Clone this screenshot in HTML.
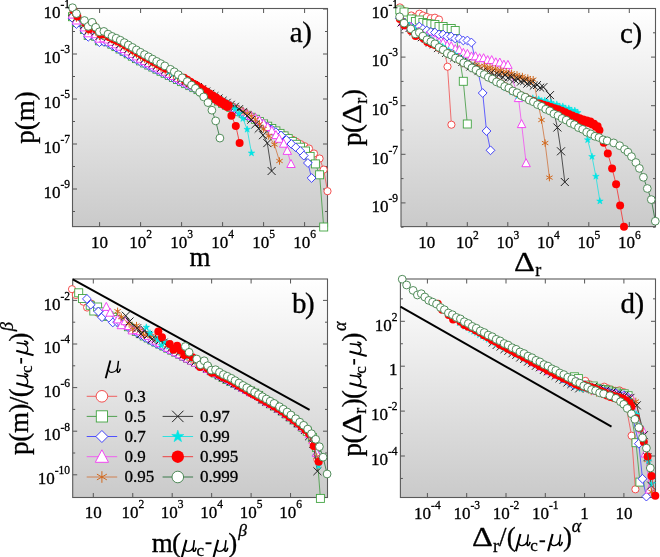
<!DOCTYPE html>
<html><head><meta charset="utf-8"><style>html,body{margin:0;padding:0;background:#fff;width:660px;height:557px;overflow:hidden}svg{display:block;filter:blur(0.5px)}</style></head>
<body><svg width="660" height="557" viewBox="0 0 660 557">
<defs><linearGradient id="bg" x1="0" y1="0" x2="0" y2="1"><stop offset="0" stop-color="#ffffff"/><stop offset="1" stop-color="#cacaca"/></linearGradient></defs>
<rect width="660" height="557" fill="#fff"/>
<rect x="72.5" y="8.5" width="255.0" height="218.1" fill="url(#bg)"/>
<path d="M99.60 226.6v-4.5M99.60 8.5v4.5M140.60 226.6v-4.5M140.60 8.5v4.5M181.60 226.6v-4.5M181.60 8.5v4.5M222.60 226.6v-4.5M222.60 8.5v4.5M263.60 226.6v-4.5M263.60 8.5v4.5M304.60 226.6v-4.5M304.60 8.5v4.5M72.5 9.00h4.5M327.5 9.00h-4.5M72.5 54.00h4.5M327.5 54.00h-4.5M72.5 99.00h4.5M327.5 99.00h-4.5M72.5 144.00h4.5M327.5 144.00h-4.5M72.5 189.00h4.5M327.5 189.00h-4.5M72.5 31.50h2.5M327.5 31.50h-2.5M72.5 76.50h2.5M327.5 76.50h-2.5M72.5 121.50h2.5M327.5 121.50h-2.5M72.5 166.50h2.5M327.5 166.50h-2.5M72.5 211.50h2.5M327.5 211.50h-2.5" stroke="#555" stroke-width="1" fill="none"/>
<rect x="401.0" y="8.5" width="254.5" height="218.1" fill="url(#bg)"/>
<path d="M426.80 226.6v-4.5M426.80 8.5v4.5M467.30 226.6v-4.5M467.30 8.5v4.5M507.80 226.6v-4.5M507.80 8.5v4.5M548.30 226.6v-4.5M548.30 8.5v4.5M588.80 226.6v-4.5M588.80 8.5v4.5M629.30 226.6v-4.5M629.30 8.5v4.5M401.0 8.50h4.5M655.5 8.50h-4.5M401.0 57.10h4.5M655.5 57.10h-4.5M401.0 105.70h4.5M655.5 105.70h-4.5M401.0 154.30h4.5M655.5 154.30h-4.5M401.0 202.90h4.5M655.5 202.90h-4.5M401.0 32.80h2.5M655.5 32.80h-2.5M401.0 81.40h2.5M655.5 81.40h-2.5M401.0 130.00h2.5M655.5 130.00h-2.5M401.0 178.60h2.5M655.5 178.60h-2.5M401.0 227.20h2.5M655.5 227.20h-2.5" stroke="#555" stroke-width="1" fill="none"/>
<rect x="72.7" y="279.0" width="254.8" height="218.5" fill="url(#bg)"/>
<path d="M93.30 497.5v-4.5M93.30 279.0v4.5M132.75 497.5v-4.5M132.75 279.0v4.5M172.20 497.5v-4.5M172.20 279.0v4.5M211.65 497.5v-4.5M211.65 279.0v4.5M251.10 497.5v-4.5M251.10 279.0v4.5M290.55 497.5v-4.5M290.55 279.0v4.5M72.7 300.40h4.5M327.5 300.40h-4.5M72.7 344.00h4.5M327.5 344.00h-4.5M72.7 387.60h4.5M327.5 387.60h-4.5M72.7 431.20h4.5M327.5 431.20h-4.5M72.7 474.80h4.5M327.5 474.80h-4.5M72.7 322.20h2.5M327.5 322.20h-2.5M72.7 365.80h2.5M327.5 365.80h-2.5M72.7 409.40h2.5M327.5 409.40h-2.5M72.7 453.00h2.5M327.5 453.00h-2.5" stroke="#555" stroke-width="1" fill="none"/>
<rect x="400.4" y="279.0" width="255.10000000000002" height="218.5" fill="url(#bg)"/>
<path d="M427.40 497.5v-4.5M427.40 279.0v4.5M466.70 497.5v-4.5M466.70 279.0v4.5M506.00 497.5v-4.5M506.00 279.0v4.5M545.30 497.5v-4.5M545.30 279.0v4.5M584.60 497.5v-4.5M584.60 279.0v4.5M623.90 497.5v-4.5M623.90 279.0v4.5M400.4 321.30h4.5M655.5 321.30h-4.5M400.4 366.20h4.5M655.5 366.20h-4.5M400.4 411.10h4.5M655.5 411.10h-4.5M400.4 456.00h4.5M655.5 456.00h-4.5M400.4 298.85h2.5M655.5 298.85h-2.5M400.4 343.75h2.5M655.5 343.75h-2.5M400.4 388.65h2.5M655.5 388.65h-2.5M400.4 433.55h2.5M655.5 433.55h-2.5M400.4 478.45h2.5M655.5 478.45h-2.5" stroke="#555" stroke-width="1" fill="none"/>
<rect x="72.5" y="8.5" width="255.0" height="218.1" fill="none" stroke="#5a5a5a" stroke-width="1.1"/>
<rect x="401.0" y="8.5" width="254.5" height="218.1" fill="none" stroke="#5a5a5a" stroke-width="1.1"/>
<rect x="72.7" y="279.0" width="254.8" height="218.5" fill="none" stroke="#5a5a5a" stroke-width="1.1"/>
<rect x="400.4" y="279.0" width="255.10000000000002" height="218.5" fill="none" stroke="#5a5a5a" stroke-width="1.1"/>
<g id="data"><g id="pa">
<path d="M72.5 17.1L76.4 23.0L84.4 29.9L88.2 35.8L92.1 31.7L95.7 36.7L99.4 41.2L103.9 40.8L107.8 42.2L111.9 44.6L116.0 47.0L120.1 49.4L124.2 51.8L128.3 54.2L132.4 56.5L136.5 58.9L140.6 61.2L144.7 63.3L148.8 65.3L152.9 67.3L157.0 69.3L161.1 71.4L165.2 73.4L169.3 75.4L173.4 77.4L177.5 79.5L181.6 81.5L185.7 83.5L189.8 85.5L193.9 87.5L198.0 89.5L202.1 91.7L206.2 94.0L210.3 96.3L214.4 98.6L218.5 101.0L222.6 103.3L226.7 105.3L230.8 107.3L234.9 109.3L239.0 111.2L243.1 113.2L247.2 115.2L251.3 117.2L255.4 119.2L259.5 121.5L263.6 123.8L267.7 126.1L271.8 128.4L275.9 130.7L280.0 133.0L284.1 135.2L288.2 137.5L292.3 139.7L296.4 141.9L300.5 144.1L304.6 146.2L309.0 148.5L314.0 153.5L319.6 158.5L323.7 169.6L327.5 191.2" fill="none" stroke="#f06060" stroke-width="0.9"/>
<circle cx="72.5" cy="17.1" r="3.60" fill="#fff" stroke="#f23c3c" stroke-width="0.9"/>
<circle cx="76.4" cy="23.0" r="3.60" fill="#fff" stroke="#f23c3c" stroke-width="0.9"/>
<circle cx="84.4" cy="29.9" r="3.60" fill="#fff" stroke="#f23c3c" stroke-width="0.9"/>
<circle cx="88.2" cy="35.8" r="3.60" fill="#fff" stroke="#f23c3c" stroke-width="0.9"/>
<circle cx="92.1" cy="31.7" r="3.60" fill="#fff" stroke="#f23c3c" stroke-width="0.9"/>
<circle cx="95.7" cy="36.7" r="3.60" fill="#fff" stroke="#f23c3c" stroke-width="0.9"/>
<circle cx="99.4" cy="41.2" r="3.60" fill="#fff" stroke="#f23c3c" stroke-width="0.9"/>
<circle cx="103.9" cy="40.8" r="3.60" fill="#fff" stroke="#f23c3c" stroke-width="0.9"/>
<circle cx="107.8" cy="42.2" r="3.60" fill="#fff" stroke="#f23c3c" stroke-width="0.9"/>
<circle cx="111.9" cy="44.6" r="3.60" fill="#fff" stroke="#f23c3c" stroke-width="0.9"/>
<circle cx="116.0" cy="47.0" r="3.60" fill="#fff" stroke="#f23c3c" stroke-width="0.9"/>
<circle cx="120.1" cy="49.4" r="3.60" fill="#fff" stroke="#f23c3c" stroke-width="0.9"/>
<circle cx="124.2" cy="51.8" r="3.60" fill="#fff" stroke="#f23c3c" stroke-width="0.9"/>
<circle cx="128.3" cy="54.2" r="3.60" fill="#fff" stroke="#f23c3c" stroke-width="0.9"/>
<circle cx="132.4" cy="56.5" r="3.60" fill="#fff" stroke="#f23c3c" stroke-width="0.9"/>
<circle cx="136.5" cy="58.9" r="3.60" fill="#fff" stroke="#f23c3c" stroke-width="0.9"/>
<circle cx="140.6" cy="61.2" r="3.60" fill="#fff" stroke="#f23c3c" stroke-width="0.9"/>
<circle cx="144.7" cy="63.3" r="3.60" fill="#fff" stroke="#f23c3c" stroke-width="0.9"/>
<circle cx="148.8" cy="65.3" r="3.60" fill="#fff" stroke="#f23c3c" stroke-width="0.9"/>
<circle cx="152.9" cy="67.3" r="3.60" fill="#fff" stroke="#f23c3c" stroke-width="0.9"/>
<circle cx="157.0" cy="69.3" r="3.60" fill="#fff" stroke="#f23c3c" stroke-width="0.9"/>
<circle cx="161.1" cy="71.4" r="3.60" fill="#fff" stroke="#f23c3c" stroke-width="0.9"/>
<circle cx="165.2" cy="73.4" r="3.60" fill="#fff" stroke="#f23c3c" stroke-width="0.9"/>
<circle cx="169.3" cy="75.4" r="3.60" fill="#fff" stroke="#f23c3c" stroke-width="0.9"/>
<circle cx="173.4" cy="77.4" r="3.60" fill="#fff" stroke="#f23c3c" stroke-width="0.9"/>
<circle cx="177.5" cy="79.5" r="3.60" fill="#fff" stroke="#f23c3c" stroke-width="0.9"/>
<circle cx="181.6" cy="81.5" r="3.60" fill="#fff" stroke="#f23c3c" stroke-width="0.9"/>
<circle cx="185.7" cy="83.5" r="3.60" fill="#fff" stroke="#f23c3c" stroke-width="0.9"/>
<circle cx="189.8" cy="85.5" r="3.60" fill="#fff" stroke="#f23c3c" stroke-width="0.9"/>
<circle cx="193.9" cy="87.5" r="3.60" fill="#fff" stroke="#f23c3c" stroke-width="0.9"/>
<circle cx="198.0" cy="89.5" r="3.60" fill="#fff" stroke="#f23c3c" stroke-width="0.9"/>
<circle cx="202.1" cy="91.7" r="3.60" fill="#fff" stroke="#f23c3c" stroke-width="0.9"/>
<circle cx="206.2" cy="94.0" r="3.60" fill="#fff" stroke="#f23c3c" stroke-width="0.9"/>
<circle cx="210.3" cy="96.3" r="3.60" fill="#fff" stroke="#f23c3c" stroke-width="0.9"/>
<circle cx="214.4" cy="98.6" r="3.60" fill="#fff" stroke="#f23c3c" stroke-width="0.9"/>
<circle cx="218.5" cy="101.0" r="3.60" fill="#fff" stroke="#f23c3c" stroke-width="0.9"/>
<circle cx="222.6" cy="103.3" r="3.60" fill="#fff" stroke="#f23c3c" stroke-width="0.9"/>
<circle cx="226.7" cy="105.3" r="3.60" fill="#fff" stroke="#f23c3c" stroke-width="0.9"/>
<circle cx="230.8" cy="107.3" r="3.60" fill="#fff" stroke="#f23c3c" stroke-width="0.9"/>
<circle cx="234.9" cy="109.3" r="3.60" fill="#fff" stroke="#f23c3c" stroke-width="0.9"/>
<circle cx="239.0" cy="111.2" r="3.60" fill="#fff" stroke="#f23c3c" stroke-width="0.9"/>
<circle cx="243.1" cy="113.2" r="3.60" fill="#fff" stroke="#f23c3c" stroke-width="0.9"/>
<circle cx="247.2" cy="115.2" r="3.60" fill="#fff" stroke="#f23c3c" stroke-width="0.9"/>
<circle cx="251.3" cy="117.2" r="3.60" fill="#fff" stroke="#f23c3c" stroke-width="0.9"/>
<circle cx="255.4" cy="119.2" r="3.60" fill="#fff" stroke="#f23c3c" stroke-width="0.9"/>
<circle cx="259.5" cy="121.5" r="3.60" fill="#fff" stroke="#f23c3c" stroke-width="0.9"/>
<circle cx="263.6" cy="123.8" r="3.60" fill="#fff" stroke="#f23c3c" stroke-width="0.9"/>
<circle cx="267.7" cy="126.1" r="3.60" fill="#fff" stroke="#f23c3c" stroke-width="0.9"/>
<circle cx="271.8" cy="128.4" r="3.60" fill="#fff" stroke="#f23c3c" stroke-width="0.9"/>
<circle cx="275.9" cy="130.7" r="3.60" fill="#fff" stroke="#f23c3c" stroke-width="0.9"/>
<circle cx="280.0" cy="133.0" r="3.60" fill="#fff" stroke="#f23c3c" stroke-width="0.9"/>
<circle cx="284.1" cy="135.2" r="3.60" fill="#fff" stroke="#f23c3c" stroke-width="0.9"/>
<circle cx="288.2" cy="137.5" r="3.60" fill="#fff" stroke="#f23c3c" stroke-width="0.9"/>
<circle cx="292.3" cy="139.7" r="3.60" fill="#fff" stroke="#f23c3c" stroke-width="0.9"/>
<circle cx="296.4" cy="141.9" r="3.60" fill="#fff" stroke="#f23c3c" stroke-width="0.9"/>
<circle cx="300.5" cy="144.1" r="3.60" fill="#fff" stroke="#f23c3c" stroke-width="0.9"/>
<circle cx="304.6" cy="146.2" r="3.60" fill="#fff" stroke="#f23c3c" stroke-width="0.9"/>
<circle cx="309.0" cy="148.5" r="3.60" fill="#fff" stroke="#f23c3c" stroke-width="0.9"/>
<circle cx="314.0" cy="153.5" r="3.60" fill="#fff" stroke="#f23c3c" stroke-width="0.9"/>
<circle cx="319.6" cy="158.5" r="3.60" fill="#fff" stroke="#f23c3c" stroke-width="0.9"/>
<circle cx="323.7" cy="169.6" r="3.60" fill="#fff" stroke="#f23c3c" stroke-width="0.9"/>
<circle cx="327.5" cy="191.2" r="3.60" fill="#fff" stroke="#f23c3c" stroke-width="0.9"/>
<path d="M72.5 16.7L76.4 22.6L84.4 29.5L88.2 35.4L92.1 31.3L95.7 36.3L99.4 40.8L103.9 40.4L107.8 41.8L111.9 44.2L116.0 46.6L120.1 49.0L124.2 51.4L128.3 53.8L132.4 56.2L136.5 58.6L140.6 60.9L144.7 63.0L148.8 65.1L152.9 67.1L157.0 69.2L161.1 71.3L165.2 73.3L169.3 75.4L173.4 77.5L177.5 79.5L181.6 81.6L185.7 83.6L189.8 85.6L193.9 87.6L198.0 89.6L202.1 91.8L206.2 94.1L210.3 96.4L214.4 98.7L218.5 101.1L222.6 103.4L226.7 105.4L230.8 107.4L234.9 109.4L239.0 111.3L243.1 113.3L247.2 115.3L251.3 117.3L255.4 119.3L259.5 121.6L263.6 123.9L267.7 126.2L271.8 128.5L275.9 130.9L280.0 133.4L284.1 135.9L288.2 138.6L292.3 141.4L296.4 144.3L300.5 147.2L305.5 151.0L310.1 156.4L315.4 163.9L319.6 174.8L323.7 227.0" fill="none" stroke="#50a050" stroke-width="0.9"/>
<rect x="68.5" y="12.7" width="8.0" height="8.0" fill="#fff" stroke="#42a442" stroke-width="0.9"/>
<rect x="72.4" y="18.6" width="8.0" height="8.0" fill="#fff" stroke="#42a442" stroke-width="0.9"/>
<rect x="80.4" y="25.5" width="8.0" height="8.0" fill="#fff" stroke="#42a442" stroke-width="0.9"/>
<rect x="84.2" y="31.4" width="8.0" height="8.0" fill="#fff" stroke="#42a442" stroke-width="0.9"/>
<rect x="88.1" y="27.3" width="8.0" height="8.0" fill="#fff" stroke="#42a442" stroke-width="0.9"/>
<rect x="91.7" y="32.3" width="8.0" height="8.0" fill="#fff" stroke="#42a442" stroke-width="0.9"/>
<rect x="95.4" y="36.8" width="8.0" height="8.0" fill="#fff" stroke="#42a442" stroke-width="0.9"/>
<rect x="99.9" y="36.4" width="8.0" height="8.0" fill="#fff" stroke="#42a442" stroke-width="0.9"/>
<rect x="103.8" y="37.8" width="8.0" height="8.0" fill="#fff" stroke="#42a442" stroke-width="0.9"/>
<rect x="107.9" y="40.2" width="8.0" height="8.0" fill="#fff" stroke="#42a442" stroke-width="0.9"/>
<rect x="112.0" y="42.6" width="8.0" height="8.0" fill="#fff" stroke="#42a442" stroke-width="0.9"/>
<rect x="116.1" y="45.0" width="8.0" height="8.0" fill="#fff" stroke="#42a442" stroke-width="0.9"/>
<rect x="120.2" y="47.4" width="8.0" height="8.0" fill="#fff" stroke="#42a442" stroke-width="0.9"/>
<rect x="124.3" y="49.8" width="8.0" height="8.0" fill="#fff" stroke="#42a442" stroke-width="0.9"/>
<rect x="128.4" y="52.2" width="8.0" height="8.0" fill="#fff" stroke="#42a442" stroke-width="0.9"/>
<rect x="132.5" y="54.6" width="8.0" height="8.0" fill="#fff" stroke="#42a442" stroke-width="0.9"/>
<rect x="136.6" y="56.9" width="8.0" height="8.0" fill="#fff" stroke="#42a442" stroke-width="0.9"/>
<rect x="140.7" y="59.0" width="8.0" height="8.0" fill="#fff" stroke="#42a442" stroke-width="0.9"/>
<rect x="144.8" y="61.1" width="8.0" height="8.0" fill="#fff" stroke="#42a442" stroke-width="0.9"/>
<rect x="148.9" y="63.1" width="8.0" height="8.0" fill="#fff" stroke="#42a442" stroke-width="0.9"/>
<rect x="153.0" y="65.2" width="8.0" height="8.0" fill="#fff" stroke="#42a442" stroke-width="0.9"/>
<rect x="157.1" y="67.3" width="8.0" height="8.0" fill="#fff" stroke="#42a442" stroke-width="0.9"/>
<rect x="161.2" y="69.3" width="8.0" height="8.0" fill="#fff" stroke="#42a442" stroke-width="0.9"/>
<rect x="165.3" y="71.4" width="8.0" height="8.0" fill="#fff" stroke="#42a442" stroke-width="0.9"/>
<rect x="169.4" y="73.5" width="8.0" height="8.0" fill="#fff" stroke="#42a442" stroke-width="0.9"/>
<rect x="173.5" y="75.5" width="8.0" height="8.0" fill="#fff" stroke="#42a442" stroke-width="0.9"/>
<rect x="177.6" y="77.6" width="8.0" height="8.0" fill="#fff" stroke="#42a442" stroke-width="0.9"/>
<rect x="181.7" y="79.6" width="8.0" height="8.0" fill="#fff" stroke="#42a442" stroke-width="0.9"/>
<rect x="185.8" y="81.6" width="8.0" height="8.0" fill="#fff" stroke="#42a442" stroke-width="0.9"/>
<rect x="189.9" y="83.6" width="8.0" height="8.0" fill="#fff" stroke="#42a442" stroke-width="0.9"/>
<rect x="194.0" y="85.6" width="8.0" height="8.0" fill="#fff" stroke="#42a442" stroke-width="0.9"/>
<rect x="198.1" y="87.8" width="8.0" height="8.0" fill="#fff" stroke="#42a442" stroke-width="0.9"/>
<rect x="202.2" y="90.1" width="8.0" height="8.0" fill="#fff" stroke="#42a442" stroke-width="0.9"/>
<rect x="206.3" y="92.4" width="8.0" height="8.0" fill="#fff" stroke="#42a442" stroke-width="0.9"/>
<rect x="210.4" y="94.7" width="8.0" height="8.0" fill="#fff" stroke="#42a442" stroke-width="0.9"/>
<rect x="214.5" y="97.1" width="8.0" height="8.0" fill="#fff" stroke="#42a442" stroke-width="0.9"/>
<rect x="218.6" y="99.4" width="8.0" height="8.0" fill="#fff" stroke="#42a442" stroke-width="0.9"/>
<rect x="222.7" y="101.4" width="8.0" height="8.0" fill="#fff" stroke="#42a442" stroke-width="0.9"/>
<rect x="226.8" y="103.4" width="8.0" height="8.0" fill="#fff" stroke="#42a442" stroke-width="0.9"/>
<rect x="230.9" y="105.4" width="8.0" height="8.0" fill="#fff" stroke="#42a442" stroke-width="0.9"/>
<rect x="235.0" y="107.3" width="8.0" height="8.0" fill="#fff" stroke="#42a442" stroke-width="0.9"/>
<rect x="239.1" y="109.3" width="8.0" height="8.0" fill="#fff" stroke="#42a442" stroke-width="0.9"/>
<rect x="243.2" y="111.3" width="8.0" height="8.0" fill="#fff" stroke="#42a442" stroke-width="0.9"/>
<rect x="247.3" y="113.3" width="8.0" height="8.0" fill="#fff" stroke="#42a442" stroke-width="0.9"/>
<rect x="251.4" y="115.3" width="8.0" height="8.0" fill="#fff" stroke="#42a442" stroke-width="0.9"/>
<rect x="255.5" y="117.6" width="8.0" height="8.0" fill="#fff" stroke="#42a442" stroke-width="0.9"/>
<rect x="259.6" y="119.9" width="8.0" height="8.0" fill="#fff" stroke="#42a442" stroke-width="0.9"/>
<rect x="263.7" y="122.2" width="8.0" height="8.0" fill="#fff" stroke="#42a442" stroke-width="0.9"/>
<rect x="267.8" y="124.5" width="8.0" height="8.0" fill="#fff" stroke="#42a442" stroke-width="0.9"/>
<rect x="271.9" y="126.9" width="8.0" height="8.0" fill="#fff" stroke="#42a442" stroke-width="0.9"/>
<rect x="276.0" y="129.4" width="8.0" height="8.0" fill="#fff" stroke="#42a442" stroke-width="0.9"/>
<rect x="280.1" y="131.9" width="8.0" height="8.0" fill="#fff" stroke="#42a442" stroke-width="0.9"/>
<rect x="284.2" y="134.6" width="8.0" height="8.0" fill="#fff" stroke="#42a442" stroke-width="0.9"/>
<rect x="288.3" y="137.4" width="8.0" height="8.0" fill="#fff" stroke="#42a442" stroke-width="0.9"/>
<rect x="292.4" y="140.3" width="8.0" height="8.0" fill="#fff" stroke="#42a442" stroke-width="0.9"/>
<rect x="296.5" y="143.2" width="8.0" height="8.0" fill="#fff" stroke="#42a442" stroke-width="0.9"/>
<rect x="301.5" y="147.0" width="8.0" height="8.0" fill="#fff" stroke="#42a442" stroke-width="0.9"/>
<rect x="306.1" y="152.4" width="8.0" height="8.0" fill="#fff" stroke="#42a442" stroke-width="0.9"/>
<rect x="311.4" y="159.9" width="8.0" height="8.0" fill="#fff" stroke="#42a442" stroke-width="0.9"/>
<rect x="315.6" y="170.8" width="8.0" height="8.0" fill="#fff" stroke="#42a442" stroke-width="0.9"/>
<rect x="319.7" y="223.0" width="8.0" height="8.0" fill="#fff" stroke="#42a442" stroke-width="0.9"/>
<path d="M72.5 18.1L76.4 24.0L84.4 30.9L88.2 36.8L92.1 32.7L95.7 37.7L99.4 42.2L103.9 41.8L107.8 42.8L111.9 45.2L116.0 47.6L120.1 50.0L124.2 52.4L128.3 54.8L132.4 57.1L136.5 59.5L140.6 61.8L144.7 63.8L148.8 65.8L152.9 67.9L157.0 69.9L161.1 71.9L165.2 73.9L169.3 75.9L173.4 77.9L177.5 80.0L181.6 82.0L185.7 84.0L189.8 86.0L193.9 88.0L198.0 90.0L202.1 92.2L206.2 94.5L210.3 96.8L214.4 99.1L218.5 101.5L222.6 103.8L226.7 105.8L230.8 107.8L234.9 109.8L239.0 111.7L243.1 113.7L247.2 115.7L251.3 117.7L255.4 119.8L259.5 122.1L263.6 124.6L267.7 127.1L271.8 129.6L275.9 132.2L281.0 135.5L286.4 140.0L291.4 144.0L295.8 147.4L300.3 151.0L303.8 155.6L307.9 163.0L311.6 178.0" fill="none" stroke="#5050ff" stroke-width="0.9"/>
<path d="M72.5 13.7L76.9 18.1L72.5 22.5L68.1 18.1Z" fill="#fff" stroke="#3030f8" stroke-width="0.9"/>
<path d="M76.4 19.6L80.8 24.0L76.4 28.4L72.0 24.0Z" fill="#fff" stroke="#3030f8" stroke-width="0.9"/>
<path d="M84.4 26.5L88.8 30.9L84.4 35.3L80.0 30.9Z" fill="#fff" stroke="#3030f8" stroke-width="0.9"/>
<path d="M88.2 32.4L92.6 36.8L88.2 41.2L83.8 36.8Z" fill="#fff" stroke="#3030f8" stroke-width="0.9"/>
<path d="M92.1 28.3L96.5 32.7L92.1 37.1L87.7 32.7Z" fill="#fff" stroke="#3030f8" stroke-width="0.9"/>
<path d="M95.7 33.3L100.1 37.7L95.7 42.1L91.3 37.7Z" fill="#fff" stroke="#3030f8" stroke-width="0.9"/>
<path d="M99.4 37.8L103.8 42.2L99.4 46.6L95.0 42.2Z" fill="#fff" stroke="#3030f8" stroke-width="0.9"/>
<path d="M103.9 37.4L108.3 41.8L103.9 46.2L99.5 41.8Z" fill="#fff" stroke="#3030f8" stroke-width="0.9"/>
<path d="M107.8 38.4L112.2 42.8L107.8 47.2L103.4 42.8Z" fill="#fff" stroke="#3030f8" stroke-width="0.9"/>
<path d="M111.9 40.8L116.3 45.2L111.9 49.6L107.5 45.2Z" fill="#fff" stroke="#3030f8" stroke-width="0.9"/>
<path d="M116.0 43.2L120.4 47.6L116.0 52.0L111.6 47.6Z" fill="#fff" stroke="#3030f8" stroke-width="0.9"/>
<path d="M120.1 45.6L124.5 50.0L120.1 54.4L115.7 50.0Z" fill="#fff" stroke="#3030f8" stroke-width="0.9"/>
<path d="M124.2 48.0L128.6 52.4L124.2 56.8L119.8 52.4Z" fill="#fff" stroke="#3030f8" stroke-width="0.9"/>
<path d="M128.3 50.4L132.7 54.8L128.3 59.2L123.9 54.8Z" fill="#fff" stroke="#3030f8" stroke-width="0.9"/>
<path d="M132.4 52.7L136.8 57.1L132.4 61.5L128.0 57.1Z" fill="#fff" stroke="#3030f8" stroke-width="0.9"/>
<path d="M136.5 55.1L140.9 59.5L136.5 63.9L132.1 59.5Z" fill="#fff" stroke="#3030f8" stroke-width="0.9"/>
<path d="M140.6 57.4L145.0 61.8L140.6 66.2L136.2 61.8Z" fill="#fff" stroke="#3030f8" stroke-width="0.9"/>
<path d="M144.7 59.4L149.1 63.8L144.7 68.2L140.3 63.8Z" fill="#fff" stroke="#3030f8" stroke-width="0.9"/>
<path d="M148.8 61.4L153.2 65.8L148.8 70.2L144.4 65.8Z" fill="#fff" stroke="#3030f8" stroke-width="0.9"/>
<path d="M152.9 63.5L157.3 67.9L152.9 72.3L148.5 67.9Z" fill="#fff" stroke="#3030f8" stroke-width="0.9"/>
<path d="M157.0 65.5L161.4 69.9L157.0 74.3L152.6 69.9Z" fill="#fff" stroke="#3030f8" stroke-width="0.9"/>
<path d="M161.1 67.5L165.5 71.9L161.1 76.3L156.7 71.9Z" fill="#fff" stroke="#3030f8" stroke-width="0.9"/>
<path d="M165.2 69.5L169.6 73.9L165.2 78.3L160.8 73.9Z" fill="#fff" stroke="#3030f8" stroke-width="0.9"/>
<path d="M169.3 71.5L173.7 75.9L169.3 80.3L164.9 75.9Z" fill="#fff" stroke="#3030f8" stroke-width="0.9"/>
<path d="M173.4 73.5L177.8 77.9L173.4 82.3L169.0 77.9Z" fill="#fff" stroke="#3030f8" stroke-width="0.9"/>
<path d="M177.5 75.6L181.9 80.0L177.5 84.4L173.1 80.0Z" fill="#fff" stroke="#3030f8" stroke-width="0.9"/>
<path d="M181.6 77.6L186.0 82.0L181.6 86.4L177.2 82.0Z" fill="#fff" stroke="#3030f8" stroke-width="0.9"/>
<path d="M185.7 79.6L190.1 84.0L185.7 88.4L181.3 84.0Z" fill="#fff" stroke="#3030f8" stroke-width="0.9"/>
<path d="M189.8 81.6L194.2 86.0L189.8 90.4L185.4 86.0Z" fill="#fff" stroke="#3030f8" stroke-width="0.9"/>
<path d="M193.9 83.6L198.3 88.0L193.9 92.4L189.5 88.0Z" fill="#fff" stroke="#3030f8" stroke-width="0.9"/>
<path d="M198.0 85.6L202.4 90.0L198.0 94.4L193.6 90.0Z" fill="#fff" stroke="#3030f8" stroke-width="0.9"/>
<path d="M202.1 87.8L206.5 92.2L202.1 96.6L197.7 92.2Z" fill="#fff" stroke="#3030f8" stroke-width="0.9"/>
<path d="M206.2 90.1L210.6 94.5L206.2 98.9L201.8 94.5Z" fill="#fff" stroke="#3030f8" stroke-width="0.9"/>
<path d="M210.3 92.4L214.7 96.8L210.3 101.2L205.9 96.8Z" fill="#fff" stroke="#3030f8" stroke-width="0.9"/>
<path d="M214.4 94.7L218.8 99.1L214.4 103.5L210.0 99.1Z" fill="#fff" stroke="#3030f8" stroke-width="0.9"/>
<path d="M218.5 97.1L222.9 101.5L218.5 105.9L214.1 101.5Z" fill="#fff" stroke="#3030f8" stroke-width="0.9"/>
<path d="M222.6 99.4L227.0 103.8L222.6 108.2L218.2 103.8Z" fill="#fff" stroke="#3030f8" stroke-width="0.9"/>
<path d="M226.7 101.4L231.1 105.8L226.7 110.2L222.3 105.8Z" fill="#fff" stroke="#3030f8" stroke-width="0.9"/>
<path d="M230.8 103.4L235.2 107.8L230.8 112.2L226.4 107.8Z" fill="#fff" stroke="#3030f8" stroke-width="0.9"/>
<path d="M234.9 105.4L239.3 109.8L234.9 114.2L230.5 109.8Z" fill="#fff" stroke="#3030f8" stroke-width="0.9"/>
<path d="M239.0 107.3L243.4 111.7L239.0 116.1L234.6 111.7Z" fill="#fff" stroke="#3030f8" stroke-width="0.9"/>
<path d="M243.1 109.3L247.5 113.7L243.1 118.1L238.7 113.7Z" fill="#fff" stroke="#3030f8" stroke-width="0.9"/>
<path d="M247.2 111.3L251.6 115.7L247.2 120.1L242.8 115.7Z" fill="#fff" stroke="#3030f8" stroke-width="0.9"/>
<path d="M251.3 113.3L255.7 117.7L251.3 122.1L246.9 117.7Z" fill="#fff" stroke="#3030f8" stroke-width="0.9"/>
<path d="M255.4 115.4L259.8 119.8L255.4 124.2L251.0 119.8Z" fill="#fff" stroke="#3030f8" stroke-width="0.9"/>
<path d="M259.5 117.7L263.9 122.1L259.5 126.5L255.1 122.1Z" fill="#fff" stroke="#3030f8" stroke-width="0.9"/>
<path d="M263.6 120.2L268.0 124.6L263.6 129.0L259.2 124.6Z" fill="#fff" stroke="#3030f8" stroke-width="0.9"/>
<path d="M267.7 122.7L272.1 127.1L267.7 131.5L263.3 127.1Z" fill="#fff" stroke="#3030f8" stroke-width="0.9"/>
<path d="M271.8 125.2L276.2 129.6L271.8 134.0L267.4 129.6Z" fill="#fff" stroke="#3030f8" stroke-width="0.9"/>
<path d="M275.9 127.8L280.3 132.2L275.9 136.6L271.5 132.2Z" fill="#fff" stroke="#3030f8" stroke-width="0.9"/>
<path d="M281.0 131.1L285.4 135.5L281.0 139.9L276.6 135.5Z" fill="#fff" stroke="#3030f8" stroke-width="0.9"/>
<path d="M286.4 135.6L290.8 140.0L286.4 144.4L282.0 140.0Z" fill="#fff" stroke="#3030f8" stroke-width="0.9"/>
<path d="M291.4 139.6L295.8 144.0L291.4 148.4L287.0 144.0Z" fill="#fff" stroke="#3030f8" stroke-width="0.9"/>
<path d="M295.8 143.0L300.2 147.4L295.8 151.8L291.4 147.4Z" fill="#fff" stroke="#3030f8" stroke-width="0.9"/>
<path d="M300.3 146.6L304.7 151.0L300.3 155.4L295.9 151.0Z" fill="#fff" stroke="#3030f8" stroke-width="0.9"/>
<path d="M303.8 151.2L308.2 155.6L303.8 160.0L299.4 155.6Z" fill="#fff" stroke="#3030f8" stroke-width="0.9"/>
<path d="M307.9 158.6L312.3 163.0L307.9 167.4L303.5 163.0Z" fill="#fff" stroke="#3030f8" stroke-width="0.9"/>
<path d="M311.6 173.6L316.0 178.0L311.6 182.4L307.2 178.0Z" fill="#fff" stroke="#3030f8" stroke-width="0.9"/>
<path d="M72.5 14.5L76.4 20.4L84.4 27.3L88.2 33.2L92.1 29.1L95.7 34.1L99.4 38.6L103.9 38.2L107.8 39.4L111.9 41.8L116.0 44.2L120.1 46.6L124.2 49.0L128.3 51.4L132.4 53.8L136.5 56.3L140.6 58.7L144.7 60.9L148.8 63.0L152.9 65.2L157.0 67.3L161.1 69.5L165.2 71.6L169.3 73.8L173.4 75.9L177.5 78.0L181.6 80.1L185.7 82.1L189.8 84.1L193.9 86.1L198.0 88.1L202.1 90.3L206.2 92.6L210.3 94.9L214.4 97.2L218.5 99.6L222.6 101.9L226.7 103.9L230.8 105.9L234.9 107.9L239.0 109.8L243.1 111.8L247.2 113.8L251.3 115.8L255.4 117.8L259.5 120.5L263.6 123.5L267.7 126.9L271.8 130.7L275.9 135.0L279.2 138.7L283.7 143.6L287.3 150.8L291.0 163.9" fill="none" stroke="#f060f0" stroke-width="0.9"/>
<path d="M72.5 10.1L76.7 18.1L68.3 18.1Z" fill="#fff" stroke="#f236f2" stroke-width="0.9"/>
<path d="M76.4 16.0L80.6 24.0L72.2 24.0Z" fill="#fff" stroke="#f236f2" stroke-width="0.9"/>
<path d="M84.4 22.9L88.6 30.9L80.2 30.9Z" fill="#fff" stroke="#f236f2" stroke-width="0.9"/>
<path d="M88.2 28.8L92.4 36.8L84.0 36.8Z" fill="#fff" stroke="#f236f2" stroke-width="0.9"/>
<path d="M92.1 24.7L96.3 32.7L87.9 32.7Z" fill="#fff" stroke="#f236f2" stroke-width="0.9"/>
<path d="M95.7 29.7L99.9 37.7L91.5 37.7Z" fill="#fff" stroke="#f236f2" stroke-width="0.9"/>
<path d="M99.4 34.2L103.6 42.2L95.2 42.2Z" fill="#fff" stroke="#f236f2" stroke-width="0.9"/>
<path d="M103.9 33.8L108.1 41.8L99.7 41.8Z" fill="#fff" stroke="#f236f2" stroke-width="0.9"/>
<path d="M107.8 35.0L112.0 43.0L103.6 43.0Z" fill="#fff" stroke="#f236f2" stroke-width="0.9"/>
<path d="M111.9 37.4L116.1 45.4L107.7 45.4Z" fill="#fff" stroke="#f236f2" stroke-width="0.9"/>
<path d="M116.0 39.8L120.2 47.8L111.8 47.8Z" fill="#fff" stroke="#f236f2" stroke-width="0.9"/>
<path d="M120.1 42.2L124.3 50.2L115.9 50.2Z" fill="#fff" stroke="#f236f2" stroke-width="0.9"/>
<path d="M124.2 44.6L128.4 52.5L120.0 52.5Z" fill="#fff" stroke="#f236f2" stroke-width="0.9"/>
<path d="M128.3 47.0L132.5 54.9L124.1 54.9Z" fill="#fff" stroke="#f236f2" stroke-width="0.9"/>
<path d="M132.4 49.4L136.6 57.4L128.2 57.4Z" fill="#fff" stroke="#f236f2" stroke-width="0.9"/>
<path d="M136.5 51.9L140.7 59.9L132.3 59.9Z" fill="#fff" stroke="#f236f2" stroke-width="0.9"/>
<path d="M140.6 54.3L144.8 62.3L136.4 62.3Z" fill="#fff" stroke="#f236f2" stroke-width="0.9"/>
<path d="M144.7 56.5L148.9 64.5L140.5 64.5Z" fill="#fff" stroke="#f236f2" stroke-width="0.9"/>
<path d="M148.8 58.6L153.0 66.6L144.6 66.6Z" fill="#fff" stroke="#f236f2" stroke-width="0.9"/>
<path d="M152.9 60.8L157.1 68.7L148.7 68.7Z" fill="#fff" stroke="#f236f2" stroke-width="0.9"/>
<path d="M157.0 62.9L161.2 70.9L152.8 70.9Z" fill="#fff" stroke="#f236f2" stroke-width="0.9"/>
<path d="M161.1 65.1L165.3 73.0L156.9 73.0Z" fill="#fff" stroke="#f236f2" stroke-width="0.9"/>
<path d="M165.2 67.2L169.4 75.2L161.0 75.2Z" fill="#fff" stroke="#f236f2" stroke-width="0.9"/>
<path d="M169.3 69.3L173.5 77.3L165.1 77.3Z" fill="#fff" stroke="#f236f2" stroke-width="0.9"/>
<path d="M173.4 71.5L177.6 79.5L169.2 79.5Z" fill="#fff" stroke="#f236f2" stroke-width="0.9"/>
<path d="M177.5 73.6L181.7 81.6L173.3 81.6Z" fill="#fff" stroke="#f236f2" stroke-width="0.9"/>
<path d="M181.6 75.7L185.8 83.7L177.4 83.7Z" fill="#fff" stroke="#f236f2" stroke-width="0.9"/>
<path d="M185.7 77.7L189.9 85.7L181.5 85.7Z" fill="#fff" stroke="#f236f2" stroke-width="0.9"/>
<path d="M189.8 79.7L194.0 87.7L185.6 87.7Z" fill="#fff" stroke="#f236f2" stroke-width="0.9"/>
<path d="M193.9 81.7L198.1 89.7L189.7 89.7Z" fill="#fff" stroke="#f236f2" stroke-width="0.9"/>
<path d="M198.0 83.7L202.2 91.7L193.8 91.7Z" fill="#fff" stroke="#f236f2" stroke-width="0.9"/>
<path d="M202.1 85.9L206.3 93.9L197.9 93.9Z" fill="#fff" stroke="#f236f2" stroke-width="0.9"/>
<path d="M206.2 88.2L210.4 96.2L202.0 96.2Z" fill="#fff" stroke="#f236f2" stroke-width="0.9"/>
<path d="M210.3 90.5L214.5 98.5L206.1 98.5Z" fill="#fff" stroke="#f236f2" stroke-width="0.9"/>
<path d="M214.4 92.8L218.6 100.8L210.2 100.8Z" fill="#fff" stroke="#f236f2" stroke-width="0.9"/>
<path d="M218.5 95.1L222.7 103.1L214.3 103.1Z" fill="#fff" stroke="#f236f2" stroke-width="0.9"/>
<path d="M222.6 97.5L226.8 105.4L218.4 105.4Z" fill="#fff" stroke="#f236f2" stroke-width="0.9"/>
<path d="M226.7 99.5L230.9 107.5L222.5 107.5Z" fill="#fff" stroke="#f236f2" stroke-width="0.9"/>
<path d="M230.8 101.5L235.0 109.4L226.6 109.4Z" fill="#fff" stroke="#f236f2" stroke-width="0.9"/>
<path d="M234.9 103.5L239.1 111.4L230.7 111.4Z" fill="#fff" stroke="#f236f2" stroke-width="0.9"/>
<path d="M239.0 105.4L243.2 113.4L234.8 113.4Z" fill="#fff" stroke="#f236f2" stroke-width="0.9"/>
<path d="M243.1 107.4L247.3 115.4L238.9 115.4Z" fill="#fff" stroke="#f236f2" stroke-width="0.9"/>
<path d="M247.2 109.4L251.4 117.4L243.0 117.4Z" fill="#fff" stroke="#f236f2" stroke-width="0.9"/>
<path d="M251.3 111.4L255.5 119.4L247.1 119.4Z" fill="#fff" stroke="#f236f2" stroke-width="0.9"/>
<path d="M255.4 113.4L259.6 121.4L251.2 121.4Z" fill="#fff" stroke="#f236f2" stroke-width="0.9"/>
<path d="M259.5 116.0L263.7 124.0L255.3 124.0Z" fill="#fff" stroke="#f236f2" stroke-width="0.9"/>
<path d="M263.6 119.1L267.8 127.1L259.4 127.1Z" fill="#fff" stroke="#f236f2" stroke-width="0.9"/>
<path d="M267.7 122.5L271.9 130.5L263.5 130.5Z" fill="#fff" stroke="#f236f2" stroke-width="0.9"/>
<path d="M271.8 126.3L276.0 134.3L267.6 134.3Z" fill="#fff" stroke="#f236f2" stroke-width="0.9"/>
<path d="M275.9 130.6L280.1 138.6L271.7 138.6Z" fill="#fff" stroke="#f236f2" stroke-width="0.9"/>
<path d="M279.2 134.3L283.4 142.3L275.0 142.3Z" fill="#fff" stroke="#f236f2" stroke-width="0.9"/>
<path d="M283.7 139.2L287.9 147.2L279.5 147.2Z" fill="#fff" stroke="#f236f2" stroke-width="0.9"/>
<path d="M287.3 146.4L291.5 154.4L283.1 154.4Z" fill="#fff" stroke="#f236f2" stroke-width="0.9"/>
<path d="M291.0 159.5L295.2 167.5L286.8 167.5Z" fill="#fff" stroke="#f236f2" stroke-width="0.9"/>
<path d="M72.5 12.3L76.4 18.2L84.4 25.1L88.2 31.0L92.1 26.9L95.7 31.9L99.4 36.4L103.9 36.0L107.8 37.4L111.9 39.8L116.0 42.2L120.1 44.6L124.2 47.0L128.3 49.4L132.4 51.9L136.5 54.5L140.6 57.1L144.7 59.3L148.8 61.6L152.9 63.8L157.0 66.1L161.1 68.4L165.2 70.6L169.3 72.9L173.4 75.2L177.5 77.4L181.6 79.5L185.7 81.5L189.8 83.5L193.9 85.5L198.0 87.5L202.1 89.7L206.2 92.0L210.3 94.3L214.4 96.6L218.5 99.0L222.6 101.3L226.7 103.3L230.8 105.3L234.9 107.3L239.0 109.2L243.1 111.2L247.2 113.4L251.3 116.2L255.4 119.7L259.5 124.0L263.6 128.9L268.7 135.9L274.4 144.5L279.5 161.0" fill="none" stroke="#d08050" stroke-width="0.9"/>
<path d="M72.5 8.6V16.0M69.3 10.5L75.7 14.2M69.3 14.2L75.7 10.5" stroke="#d2691e" fill="none"/>
<path d="M76.4 14.5V21.9M73.2 16.3L79.6 20.1M73.2 20.1L79.6 16.3" stroke="#d2691e" fill="none"/>
<path d="M84.4 21.4V28.8M81.2 23.2L87.6 27.0M81.2 27.0L87.6 23.2" stroke="#d2691e" fill="none"/>
<path d="M88.2 27.3V34.7M85.0 29.1L91.4 32.9M85.0 32.9L91.4 29.1" stroke="#d2691e" fill="none"/>
<path d="M92.1 23.2V30.6M88.9 25.0L95.3 28.8M88.9 28.8L95.3 25.0" stroke="#d2691e" fill="none"/>
<path d="M95.7 28.2V35.6M92.5 30.0L98.9 33.8M92.5 33.8L98.9 30.0" stroke="#d2691e" fill="none"/>
<path d="M99.4 32.7V40.1M96.2 34.5L102.6 38.2M96.2 38.2L102.6 34.5" stroke="#d2691e" fill="none"/>
<path d="M103.9 32.3V39.7M100.7 34.1L107.1 37.9M100.7 37.9L107.1 34.1" stroke="#d2691e" fill="none"/>
<path d="M107.8 33.7V41.1M104.6 35.6L111.0 39.3M104.6 39.3L111.0 35.6" stroke="#d2691e" fill="none"/>
<path d="M111.9 36.1V43.5M108.7 37.9L115.1 41.6M108.7 41.6L115.1 37.9" stroke="#d2691e" fill="none"/>
<path d="M116.0 38.5V45.9M112.8 40.3L119.2 44.0M112.8 44.0L119.2 40.3" stroke="#d2691e" fill="none"/>
<path d="M120.1 40.9V48.3M116.9 42.7L123.3 46.4M116.9 46.4L123.3 42.7" stroke="#d2691e" fill="none"/>
<path d="M124.2 43.3V50.7M121.0 45.1L127.4 48.8M121.0 48.8L127.4 45.1" stroke="#d2691e" fill="none"/>
<path d="M128.3 45.7V53.1M125.1 47.5L131.5 51.2M125.1 51.2L131.5 47.5" stroke="#d2691e" fill="none"/>
<path d="M132.4 48.2V55.6M129.2 50.0L135.6 53.7M129.2 53.7L135.6 50.0" stroke="#d2691e" fill="none"/>
<path d="M136.5 50.8V58.2M133.3 52.6L139.7 56.3M133.3 56.3L139.7 52.6" stroke="#d2691e" fill="none"/>
<path d="M140.6 53.4V60.8M137.4 55.2L143.8 58.9M137.4 58.9L143.8 55.2" stroke="#d2691e" fill="none"/>
<path d="M144.7 55.6V63.0M141.5 57.5L147.9 61.2M141.5 61.2L147.9 57.5" stroke="#d2691e" fill="none"/>
<path d="M148.8 57.9V65.3M145.6 59.7L152.0 63.4M145.6 63.4L152.0 59.7" stroke="#d2691e" fill="none"/>
<path d="M152.9 60.1V67.5M149.7 62.0L156.1 65.7M149.7 65.7L156.1 62.0" stroke="#d2691e" fill="none"/>
<path d="M157.0 62.4V69.8M153.8 64.3L160.2 68.0M153.8 68.0L160.2 64.3" stroke="#d2691e" fill="none"/>
<path d="M161.1 64.7V72.1M157.9 66.5L164.3 70.2M157.9 70.2L164.3 66.5" stroke="#d2691e" fill="none"/>
<path d="M165.2 66.9V74.3M162.0 68.8L168.4 72.5M162.0 72.5L168.4 68.8" stroke="#d2691e" fill="none"/>
<path d="M169.3 69.2V76.6M166.1 71.0L172.5 74.7M166.1 74.7L172.5 71.0" stroke="#d2691e" fill="none"/>
<path d="M173.4 71.5V78.9M170.2 73.3L176.6 77.0M170.2 77.0L176.6 73.3" stroke="#d2691e" fill="none"/>
<path d="M177.5 73.7V81.1M174.3 75.6L180.7 79.3M174.3 79.3L180.7 75.6" stroke="#d2691e" fill="none"/>
<path d="M181.6 75.8V83.2M178.4 77.6L184.8 81.3M178.4 81.3L184.8 77.6" stroke="#d2691e" fill="none"/>
<path d="M185.7 77.8V85.2M182.5 79.6L188.9 83.3M182.5 83.3L188.9 79.6" stroke="#d2691e" fill="none"/>
<path d="M189.8 79.8V87.2M186.6 81.7L193.0 85.4M186.6 85.4L193.0 81.7" stroke="#d2691e" fill="none"/>
<path d="M193.9 81.8V89.2M190.7 83.7L197.1 87.4M190.7 87.4L197.1 83.7" stroke="#d2691e" fill="none"/>
<path d="M198.0 83.8V91.2M194.8 85.7L201.2 89.4M194.8 89.4L201.2 85.7" stroke="#d2691e" fill="none"/>
<path d="M202.1 86.0V93.4M198.9 87.8L205.3 91.5M198.9 91.5L205.3 87.8" stroke="#d2691e" fill="none"/>
<path d="M206.2 88.3V95.7M203.0 90.2L209.4 93.9M203.0 93.9L209.4 90.2" stroke="#d2691e" fill="none"/>
<path d="M210.3 90.6V98.0M207.1 92.5L213.5 96.2M207.1 96.2L213.5 92.5" stroke="#d2691e" fill="none"/>
<path d="M214.4 92.9V100.3M211.2 94.8L217.6 98.5M211.2 98.5L217.6 94.8" stroke="#d2691e" fill="none"/>
<path d="M218.5 95.3V102.7M215.3 97.1L221.7 100.8M215.3 100.8L221.7 97.1" stroke="#d2691e" fill="none"/>
<path d="M222.6 97.6V105.0M219.4 99.4L225.8 103.1M219.4 103.1L225.8 99.4" stroke="#d2691e" fill="none"/>
<path d="M226.7 99.6V107.0M223.5 101.4L229.9 105.1M223.5 105.1L229.9 101.4" stroke="#d2691e" fill="none"/>
<path d="M230.8 101.6V109.0M227.6 103.4L234.0 107.1M227.6 107.1L234.0 103.4" stroke="#d2691e" fill="none"/>
<path d="M234.9 103.6V111.0M231.7 105.4L238.1 109.1M231.7 109.1L238.1 105.4" stroke="#d2691e" fill="none"/>
<path d="M239.0 105.5V112.9M235.8 107.4L242.2 111.1M235.8 111.1L242.2 107.4" stroke="#d2691e" fill="none"/>
<path d="M243.1 107.5V114.9M239.9 109.4L246.3 113.1M239.9 113.1L246.3 109.4" stroke="#d2691e" fill="none"/>
<path d="M247.2 109.7V117.1M244.0 111.6L250.4 115.3M244.0 115.3L250.4 111.6" stroke="#d2691e" fill="none"/>
<path d="M251.3 112.5V119.9M248.1 114.4L254.5 118.1M248.1 118.1L254.5 114.4" stroke="#d2691e" fill="none"/>
<path d="M255.4 116.0V123.4M252.2 117.8L258.6 121.5M252.2 121.5L258.6 117.8" stroke="#d2691e" fill="none"/>
<path d="M259.5 120.3V127.7M256.3 122.2L262.7 125.9M256.3 125.9L262.7 122.2" stroke="#d2691e" fill="none"/>
<path d="M263.6 125.2V132.6M260.4 127.1L266.8 130.8M260.4 130.8L266.8 127.1" stroke="#d2691e" fill="none"/>
<path d="M268.7 132.2V139.6M265.5 134.1L271.9 137.8M265.5 137.8L271.9 134.1" stroke="#d2691e" fill="none"/>
<path d="M274.4 140.8V148.2M271.2 142.7L277.6 146.3M271.2 146.3L277.6 142.7" stroke="#d2691e" fill="none"/>
<path d="M279.5 157.3V164.7M276.3 159.2L282.7 162.8M276.3 162.8L282.7 159.2" stroke="#d2691e" fill="none"/>
<path d="M72.5 11.9L76.4 17.8L84.4 24.7L88.2 30.6L92.1 26.5L95.7 31.5L99.4 36.0L103.9 35.6L107.8 37.0L111.9 39.4L116.0 41.8L120.1 44.2L124.2 46.6L128.3 49.0L132.4 51.5L136.5 54.1L140.6 56.6L144.7 58.9L148.8 61.1L152.9 63.4L157.0 65.6L161.1 67.9L165.2 70.2L169.3 72.4L173.4 74.7L177.5 76.9L181.6 79.0L185.7 81.0L189.8 83.0L193.9 85.0L198.0 87.0L202.1 89.2L206.2 91.5L210.3 93.8L214.4 96.1L218.5 98.5L222.6 100.8L226.7 102.8L230.8 104.8L234.9 106.8L239.0 109.2L243.1 112.2L247.2 115.7L251.3 119.7L255.4 124.4L258.7 128.7L263.0 135.2L267.3 143.1L271.6 171.0" fill="none" stroke="#404040" stroke-width="0.9"/>
<path d="M68.5 7.9L76.5 15.9M68.5 15.9L76.5 7.9" stroke="#222222" fill="none"/>
<path d="M72.4 13.8L80.4 21.8M72.4 21.8L80.4 13.8" stroke="#222222" fill="none"/>
<path d="M80.4 20.7L88.4 28.7M80.4 28.7L88.4 20.7" stroke="#222222" fill="none"/>
<path d="M84.2 26.6L92.2 34.6M84.2 34.6L92.2 26.6" stroke="#222222" fill="none"/>
<path d="M88.1 22.5L96.1 30.5M88.1 30.5L96.1 22.5" stroke="#222222" fill="none"/>
<path d="M91.7 27.5L99.7 35.5M91.7 35.5L99.7 27.5" stroke="#222222" fill="none"/>
<path d="M95.4 32.0L103.4 40.0M95.4 40.0L103.4 32.0" stroke="#222222" fill="none"/>
<path d="M99.9 31.6L107.9 39.6M99.9 39.6L107.9 31.6" stroke="#222222" fill="none"/>
<path d="M103.8 33.0L111.8 41.0M103.8 41.0L111.8 33.0" stroke="#222222" fill="none"/>
<path d="M107.9 35.4L115.9 43.4M107.9 43.4L115.9 35.4" stroke="#222222" fill="none"/>
<path d="M112.0 37.8L120.0 45.8M112.0 45.8L120.0 37.8" stroke="#222222" fill="none"/>
<path d="M116.1 40.2L124.1 48.2M116.1 48.2L124.1 40.2" stroke="#222222" fill="none"/>
<path d="M120.2 42.6L128.2 50.6M120.2 50.6L128.2 42.6" stroke="#222222" fill="none"/>
<path d="M124.3 45.0L132.3 52.9M124.3 52.9L132.3 45.0" stroke="#222222" fill="none"/>
<path d="M128.4 47.5L136.4 55.5M128.4 55.5L136.4 47.5" stroke="#222222" fill="none"/>
<path d="M132.5 50.1L140.5 58.1M132.5 58.1L140.5 50.1" stroke="#222222" fill="none"/>
<path d="M136.6 52.7L144.6 60.6M136.6 60.6L144.6 52.7" stroke="#222222" fill="none"/>
<path d="M140.7 54.9L148.7 62.9M140.7 62.9L148.7 54.9" stroke="#222222" fill="none"/>
<path d="M144.8 57.2L152.8 65.1M144.8 65.1L152.8 57.2" stroke="#222222" fill="none"/>
<path d="M148.9 59.4L156.9 67.4M148.9 67.4L156.9 59.4" stroke="#222222" fill="none"/>
<path d="M153.0 61.7L161.0 69.6M153.0 69.6L161.0 61.7" stroke="#222222" fill="none"/>
<path d="M157.1 63.9L165.1 71.9M157.1 71.9L165.1 63.9" stroke="#222222" fill="none"/>
<path d="M161.2 66.2L169.2 74.1M161.2 74.1L169.2 66.2" stroke="#222222" fill="none"/>
<path d="M165.3 68.4L173.3 76.4M165.3 76.4L173.3 68.4" stroke="#222222" fill="none"/>
<path d="M169.4 70.7L177.4 78.6M169.4 78.6L177.4 70.7" stroke="#222222" fill="none"/>
<path d="M173.5 72.9L181.5 80.9M173.5 80.9L181.5 72.9" stroke="#222222" fill="none"/>
<path d="M177.6 75.0L185.6 83.0M177.6 83.0L185.6 75.0" stroke="#222222" fill="none"/>
<path d="M181.7 77.0L189.7 85.0M181.7 85.0L189.7 77.0" stroke="#222222" fill="none"/>
<path d="M185.8 79.0L193.8 87.0M185.8 87.0L193.8 79.0" stroke="#222222" fill="none"/>
<path d="M189.9 81.0L197.9 89.0M189.9 89.0L197.9 81.0" stroke="#222222" fill="none"/>
<path d="M194.0 83.0L202.0 91.0M194.0 91.0L202.0 83.0" stroke="#222222" fill="none"/>
<path d="M198.1 85.2L206.1 93.2M198.1 93.2L206.1 85.2" stroke="#222222" fill="none"/>
<path d="M202.2 87.5L210.2 95.5M202.2 95.5L210.2 87.5" stroke="#222222" fill="none"/>
<path d="M206.3 89.8L214.3 97.8M206.3 97.8L214.3 89.8" stroke="#222222" fill="none"/>
<path d="M210.4 92.2L218.4 100.1M210.4 100.1L218.4 92.2" stroke="#222222" fill="none"/>
<path d="M214.5 94.5L222.5 102.4M214.5 102.4L222.5 94.5" stroke="#222222" fill="none"/>
<path d="M218.6 96.8L226.6 104.7M218.6 104.7L226.6 96.8" stroke="#222222" fill="none"/>
<path d="M222.7 98.8L230.7 106.8M222.7 106.8L230.7 98.8" stroke="#222222" fill="none"/>
<path d="M226.8 100.8L234.8 108.8M226.8 108.8L234.8 100.8" stroke="#222222" fill="none"/>
<path d="M230.9 102.8L238.9 110.8M230.9 110.8L238.9 102.8" stroke="#222222" fill="none"/>
<path d="M235.0 105.2L243.0 113.2M235.0 113.2L243.0 105.2" stroke="#222222" fill="none"/>
<path d="M239.1 108.2L247.1 116.1M239.1 116.1L247.1 108.2" stroke="#222222" fill="none"/>
<path d="M243.2 111.7L251.2 119.7M243.2 119.7L251.2 111.7" stroke="#222222" fill="none"/>
<path d="M247.3 115.8L255.3 123.7M247.3 123.7L255.3 115.8" stroke="#222222" fill="none"/>
<path d="M251.4 120.4L259.4 128.3M251.4 128.3L259.4 120.4" stroke="#222222" fill="none"/>
<path d="M254.7 124.7L262.7 132.7M254.7 132.7L262.7 124.7" stroke="#222222" fill="none"/>
<path d="M259.0 131.2L267.0 139.2M259.0 139.2L267.0 131.2" stroke="#222222" fill="none"/>
<path d="M263.3 139.1L271.3 147.1M263.3 147.1L271.3 139.1" stroke="#222222" fill="none"/>
<path d="M267.6 167.0L275.6 175.0M267.6 175.0L275.6 167.0" stroke="#222222" fill="none"/>
<path d="M72.5 11.5L76.4 17.4L84.4 24.3L88.2 30.2L92.1 26.1L95.7 31.1L99.4 35.6L103.9 35.2L107.8 36.6L111.9 39.0L116.0 41.4L120.1 43.8L124.2 46.2L128.3 48.6L132.4 51.1L136.5 53.6L140.6 56.1L144.7 58.4L148.8 60.6L152.9 62.8L157.0 65.0L161.1 67.2L165.2 69.5L169.3 71.7L173.4 73.9L177.5 76.1L181.6 78.2L185.7 80.2L189.8 82.2L193.9 84.2L198.0 86.2L202.1 88.4L206.2 90.7L210.3 93.0L214.4 95.3L218.5 97.7L222.6 100.0L226.7 102.3L230.8 105.4L234.9 109.2L239.0 113.7L242.9 118.7L247.2 129.4L251.5 153.1" fill="none" stroke="#30e0e0" stroke-width="0.9"/>
<path d="M72.5 8.0L73.3 10.4L75.8 10.4L73.8 11.9L74.6 14.3L72.5 12.9L70.4 14.3L71.2 11.9L69.2 10.4L71.7 10.4Z" fill="#00e5e5" stroke="#00e5e5" stroke-width="0.5"/>
<path d="M76.4 13.9L77.2 16.3L79.7 16.3L77.7 17.8L78.5 20.2L76.4 18.8L74.3 20.2L75.1 17.8L73.1 16.3L75.6 16.3Z" fill="#00e5e5" stroke="#00e5e5" stroke-width="0.5"/>
<path d="M84.4 20.8L85.2 23.2L87.7 23.2L85.7 24.7L86.5 27.1L84.4 25.7L82.3 27.1L83.1 24.7L81.1 23.2L83.6 23.2Z" fill="#00e5e5" stroke="#00e5e5" stroke-width="0.5"/>
<path d="M88.2 26.7L89.0 29.1L91.5 29.1L89.5 30.6L90.3 33.0L88.2 31.6L86.1 33.0L86.9 30.6L84.9 29.1L87.4 29.1Z" fill="#00e5e5" stroke="#00e5e5" stroke-width="0.5"/>
<path d="M92.1 22.6L92.9 25.0L95.4 25.0L93.4 26.5L94.2 28.9L92.1 27.5L90.0 28.9L90.8 26.5L88.8 25.0L91.3 25.0Z" fill="#00e5e5" stroke="#00e5e5" stroke-width="0.5"/>
<path d="M95.7 27.6L96.5 30.0L99.0 30.0L97.0 31.5L97.8 33.9L95.7 32.5L93.6 33.9L94.4 31.5L92.4 30.0L94.9 30.0Z" fill="#00e5e5" stroke="#00e5e5" stroke-width="0.5"/>
<path d="M99.4 32.1L100.2 34.5L102.7 34.5L100.7 36.0L101.5 38.4L99.4 37.0L97.3 38.4L98.1 36.0L96.1 34.5L98.6 34.5Z" fill="#00e5e5" stroke="#00e5e5" stroke-width="0.5"/>
<path d="M103.9 31.7L104.7 34.1L107.2 34.1L105.2 35.6L106.0 38.0L103.9 36.6L101.8 38.0L102.6 35.6L100.6 34.1L103.1 34.1Z" fill="#00e5e5" stroke="#00e5e5" stroke-width="0.5"/>
<path d="M107.8 33.1L108.6 35.5L111.1 35.5L109.1 37.0L109.9 39.4L107.8 38.0L105.7 39.4L106.5 37.0L104.5 35.5L107.0 35.5Z" fill="#00e5e5" stroke="#00e5e5" stroke-width="0.5"/>
<path d="M111.9 35.5L112.7 37.9L115.2 37.9L113.2 39.4L114.0 41.8L111.9 40.4L109.8 41.8L110.6 39.4L108.6 37.9L111.1 37.9Z" fill="#00e5e5" stroke="#00e5e5" stroke-width="0.5"/>
<path d="M116.0 37.9L116.8 40.3L119.3 40.3L117.3 41.8L118.1 44.2L116.0 42.8L113.9 44.2L114.7 41.8L112.7 40.3L115.2 40.3Z" fill="#00e5e5" stroke="#00e5e5" stroke-width="0.5"/>
<path d="M120.1 40.3L120.9 42.7L123.4 42.7L121.4 44.2L122.2 46.6L120.1 45.2L118.0 46.6L118.8 44.2L116.8 42.7L119.3 42.7Z" fill="#00e5e5" stroke="#00e5e5" stroke-width="0.5"/>
<path d="M124.2 42.7L125.0 45.0L127.5 45.1L125.5 46.6L126.3 49.0L124.2 47.6L122.1 49.0L122.9 46.6L120.9 45.1L123.4 45.0Z" fill="#00e5e5" stroke="#00e5e5" stroke-width="0.5"/>
<path d="M128.3 45.1L129.1 47.4L131.6 47.5L129.6 49.0L130.4 51.4L128.3 50.0L126.2 51.4L127.0 49.0L125.0 47.5L127.5 47.4Z" fill="#00e5e5" stroke="#00e5e5" stroke-width="0.5"/>
<path d="M132.4 47.6L133.2 49.9L135.7 50.0L133.7 51.5L134.5 53.9L132.4 52.5L130.3 53.9L131.1 51.5L129.1 50.0L131.6 49.9Z" fill="#00e5e5" stroke="#00e5e5" stroke-width="0.5"/>
<path d="M136.5 50.1L137.3 52.5L139.8 52.5L137.8 54.1L138.6 56.5L136.5 55.0L134.4 56.5L135.2 54.1L133.2 52.5L135.7 52.5Z" fill="#00e5e5" stroke="#00e5e5" stroke-width="0.5"/>
<path d="M140.6 52.6L141.4 55.0L143.9 55.1L141.9 56.6L142.7 59.0L140.6 57.5L138.5 59.0L139.3 56.6L137.3 55.1L139.8 55.0Z" fill="#00e5e5" stroke="#00e5e5" stroke-width="0.5"/>
<path d="M144.7 54.9L145.5 57.2L148.0 57.3L146.0 58.8L146.8 61.2L144.7 59.8L142.6 61.2L143.4 58.8L141.4 57.3L143.9 57.2Z" fill="#00e5e5" stroke="#00e5e5" stroke-width="0.5"/>
<path d="M148.8 57.1L149.6 59.5L152.1 59.5L150.1 61.0L150.9 63.4L148.8 62.0L146.7 63.4L147.5 61.0L145.5 59.5L148.0 59.5Z" fill="#00e5e5" stroke="#00e5e5" stroke-width="0.5"/>
<path d="M152.9 59.3L153.7 61.7L156.2 61.7L154.2 63.2L155.0 65.6L152.9 64.2L150.8 65.6L151.6 63.2L149.6 61.7L152.1 61.7Z" fill="#00e5e5" stroke="#00e5e5" stroke-width="0.5"/>
<path d="M157.0 61.5L157.8 63.9L160.3 63.9L158.3 65.5L159.1 67.9L157.0 66.4L154.9 67.9L155.7 65.5L153.7 63.9L156.2 63.9Z" fill="#00e5e5" stroke="#00e5e5" stroke-width="0.5"/>
<path d="M161.1 63.7L161.9 66.1L164.4 66.2L162.4 67.7L163.2 70.1L161.1 68.6L159.0 70.1L159.8 67.7L157.8 66.2L160.3 66.1Z" fill="#00e5e5" stroke="#00e5e5" stroke-width="0.5"/>
<path d="M165.2 66.0L166.0 68.3L168.5 68.4L166.5 69.9L167.3 72.3L165.2 70.9L163.1 72.3L163.9 69.9L161.9 68.4L164.4 68.3Z" fill="#00e5e5" stroke="#00e5e5" stroke-width="0.5"/>
<path d="M169.3 68.2L170.1 70.6L172.6 70.6L170.6 72.1L171.4 74.5L169.3 73.1L167.2 74.5L168.0 72.1L166.0 70.6L168.5 70.6Z" fill="#00e5e5" stroke="#00e5e5" stroke-width="0.5"/>
<path d="M173.4 70.4L174.2 72.8L176.7 72.8L174.7 74.3L175.5 76.7L173.4 75.3L171.3 76.7L172.1 74.3L170.1 72.8L172.6 72.8Z" fill="#00e5e5" stroke="#00e5e5" stroke-width="0.5"/>
<path d="M177.5 72.6L178.3 75.0L180.8 75.0L178.8 76.6L179.6 79.0L177.5 77.5L175.4 79.0L176.2 76.6L174.2 75.0L176.7 75.0Z" fill="#00e5e5" stroke="#00e5e5" stroke-width="0.5"/>
<path d="M181.6 74.7L182.4 77.1L184.9 77.1L182.9 78.6L183.7 81.0L181.6 79.6L179.5 81.0L180.3 78.6L178.3 77.1L180.8 77.1Z" fill="#00e5e5" stroke="#00e5e5" stroke-width="0.5"/>
<path d="M185.7 76.7L186.5 79.1L189.0 79.1L187.0 80.6L187.8 83.0L185.7 81.6L183.6 83.0L184.4 80.6L182.4 79.1L184.9 79.1Z" fill="#00e5e5" stroke="#00e5e5" stroke-width="0.5"/>
<path d="M189.8 78.7L190.6 81.1L193.1 81.1L191.1 82.6L191.9 85.0L189.8 83.6L187.7 85.0L188.5 82.6L186.5 81.1L189.0 81.1Z" fill="#00e5e5" stroke="#00e5e5" stroke-width="0.5"/>
<path d="M193.9 80.7L194.7 83.1L197.2 83.1L195.2 84.6L196.0 87.0L193.9 85.6L191.8 87.0L192.6 84.6L190.6 83.1L193.1 83.1Z" fill="#00e5e5" stroke="#00e5e5" stroke-width="0.5"/>
<path d="M198.0 82.7L198.8 85.1L201.3 85.1L199.3 86.7L200.1 89.1L198.0 87.6L195.9 89.1L196.7 86.7L194.7 85.1L197.2 85.1Z" fill="#00e5e5" stroke="#00e5e5" stroke-width="0.5"/>
<path d="M202.1 84.9L202.9 87.3L205.4 87.3L203.4 88.8L204.2 91.2L202.1 89.8L200.0 91.2L200.8 88.8L198.8 87.3L201.3 87.3Z" fill="#00e5e5" stroke="#00e5e5" stroke-width="0.5"/>
<path d="M206.2 87.2L207.0 89.6L209.5 89.6L207.5 91.1L208.3 93.5L206.2 92.1L204.1 93.5L204.9 91.1L202.9 89.6L205.4 89.6Z" fill="#00e5e5" stroke="#00e5e5" stroke-width="0.5"/>
<path d="M210.3 89.5L211.1 91.9L213.6 91.9L211.6 93.5L212.4 95.9L210.3 94.4L208.2 95.9L209.0 93.5L207.0 91.9L209.5 91.9Z" fill="#00e5e5" stroke="#00e5e5" stroke-width="0.5"/>
<path d="M214.4 91.8L215.2 94.2L217.7 94.3L215.7 95.8L216.5 98.2L214.4 96.7L212.3 98.2L213.1 95.8L211.1 94.3L213.6 94.2Z" fill="#00e5e5" stroke="#00e5e5" stroke-width="0.5"/>
<path d="M218.5 94.2L219.3 96.5L221.8 96.6L219.8 98.1L220.6 100.5L218.5 99.1L216.4 100.5L217.2 98.1L215.2 96.6L217.7 96.5Z" fill="#00e5e5" stroke="#00e5e5" stroke-width="0.5"/>
<path d="M222.6 96.5L223.4 98.8L225.9 98.9L223.9 100.4L224.7 102.8L222.6 101.4L220.5 102.8L221.3 100.4L219.3 98.9L221.8 98.8Z" fill="#00e5e5" stroke="#00e5e5" stroke-width="0.5"/>
<path d="M226.7 98.8L227.5 101.2L230.0 101.2L228.0 102.7L228.8 105.1L226.7 103.7L224.6 105.1L225.4 102.7L223.4 101.2L225.9 101.2Z" fill="#00e5e5" stroke="#00e5e5" stroke-width="0.5"/>
<path d="M230.8 101.9L231.6 104.2L234.1 104.3L232.1 105.8L232.9 108.2L230.8 106.8L228.7 108.2L229.5 105.8L227.5 104.3L230.0 104.2Z" fill="#00e5e5" stroke="#00e5e5" stroke-width="0.5"/>
<path d="M234.9 105.7L235.7 108.0L238.2 108.1L236.2 109.6L237.0 112.0L234.9 110.6L232.8 112.0L233.6 109.6L231.6 108.1L234.1 108.0Z" fill="#00e5e5" stroke="#00e5e5" stroke-width="0.5"/>
<path d="M239.0 110.2L239.8 112.6L242.3 112.6L240.3 114.1L241.1 116.5L239.0 115.1L236.9 116.5L237.7 114.1L235.7 112.6L238.2 112.6Z" fill="#00e5e5" stroke="#00e5e5" stroke-width="0.5"/>
<path d="M242.9 115.2L243.7 117.6L246.2 117.6L244.2 119.1L245.0 121.5L242.9 120.1L240.8 121.5L241.6 119.1L239.6 117.6L242.1 117.6Z" fill="#00e5e5" stroke="#00e5e5" stroke-width="0.5"/>
<path d="M247.2 125.9L248.0 128.3L250.5 128.3L248.5 129.8L249.3 132.2L247.2 130.8L245.1 132.2L245.9 129.8L243.9 128.3L246.4 128.3Z" fill="#00e5e5" stroke="#00e5e5" stroke-width="0.5"/>
<path d="M251.5 149.6L252.3 152.0L254.8 152.0L252.8 153.5L253.6 155.9L251.5 154.5L249.4 155.9L250.2 153.5L248.2 152.0L250.7 152.0Z" fill="#00e5e5" stroke="#00e5e5" stroke-width="0.5"/>
<path d="M73.5 10.5L77.4 16.4L85.4 23.3L89.2 29.2L93.1 25.1L96.7 30.1L100.4 34.6L104.9 34.2L109.0 36.9L113.1 39.2L117.2 41.0L121.3 43.0L125.3 45.4L129.3 47.8L133.4 50.2L137.4 52.7L141.5 55.1L145.5 57.4L149.6 59.6L153.6 61.9L157.7 64.2L161.7 66.4L165.8 68.7L184.0 77.7L185.6 81.1L187.2 79.7L188.8 83.1L190.4 81.7L192.0 85.1L193.6 83.7L195.2 87.0L196.8 85.6L198.4 89.0L200.0 87.6L201.6 91.0L203.2 89.6L204.8 93.0L206.4 91.6L208.0 95.0L209.6 93.6L211.2 97.0L212.8 95.6L214.4 98.9L216.0 97.5L217.6 100.9L219.2 99.5L220.8 102.9L222.4 101.5L224.0 104.9L225.6 103.5L227.2 106.9L228.8 105.5L231.4 115.8L235.8 125.9L239.6 142.9" fill="none" stroke="#f04040" stroke-width="0.9"/>
<circle cx="73.5" cy="10.5" r="4.00" fill="#ff0000"/>
<circle cx="77.4" cy="16.4" r="4.00" fill="#ff0000"/>
<circle cx="85.4" cy="23.3" r="4.00" fill="#ff0000"/>
<circle cx="89.2" cy="29.2" r="4.00" fill="#ff0000"/>
<circle cx="93.1" cy="25.1" r="4.00" fill="#ff0000"/>
<circle cx="96.7" cy="30.1" r="4.00" fill="#ff0000"/>
<circle cx="100.4" cy="34.6" r="4.00" fill="#ff0000"/>
<circle cx="104.9" cy="34.2" r="4.00" fill="#ff0000"/>
<circle cx="109.0" cy="36.9" r="4.00" fill="#ff0000"/>
<circle cx="113.1" cy="39.2" r="4.00" fill="#ff0000"/>
<circle cx="117.2" cy="41.0" r="4.00" fill="#ff0000"/>
<circle cx="121.3" cy="43.0" r="4.00" fill="#ff0000"/>
<circle cx="125.3" cy="45.4" r="4.00" fill="#ff0000"/>
<circle cx="129.3" cy="47.8" r="4.00" fill="#ff0000"/>
<circle cx="133.4" cy="50.2" r="4.00" fill="#ff0000"/>
<circle cx="137.4" cy="52.7" r="4.00" fill="#ff0000"/>
<circle cx="141.5" cy="55.1" r="4.00" fill="#ff0000"/>
<circle cx="145.5" cy="57.4" r="4.00" fill="#ff0000"/>
<circle cx="149.6" cy="59.6" r="4.00" fill="#ff0000"/>
<circle cx="153.6" cy="61.9" r="4.00" fill="#ff0000"/>
<circle cx="157.7" cy="64.2" r="4.00" fill="#ff0000"/>
<circle cx="161.7" cy="66.4" r="4.00" fill="#ff0000"/>
<circle cx="165.8" cy="68.7" r="4.00" fill="#ff0000"/>
<circle cx="184.0" cy="77.7" r="4.00" fill="#ff0000"/>
<circle cx="185.6" cy="81.1" r="4.00" fill="#ff0000"/>
<circle cx="187.2" cy="79.7" r="4.00" fill="#ff0000"/>
<circle cx="188.8" cy="83.1" r="4.00" fill="#ff0000"/>
<circle cx="190.4" cy="81.7" r="4.00" fill="#ff0000"/>
<circle cx="192.0" cy="85.1" r="4.00" fill="#ff0000"/>
<circle cx="193.6" cy="83.7" r="4.00" fill="#ff0000"/>
<circle cx="195.2" cy="87.0" r="4.00" fill="#ff0000"/>
<circle cx="196.8" cy="85.6" r="4.00" fill="#ff0000"/>
<circle cx="198.4" cy="89.0" r="4.00" fill="#ff0000"/>
<circle cx="200.0" cy="87.6" r="4.00" fill="#ff0000"/>
<circle cx="201.6" cy="91.0" r="4.00" fill="#ff0000"/>
<circle cx="203.2" cy="89.6" r="4.00" fill="#ff0000"/>
<circle cx="204.8" cy="93.0" r="4.00" fill="#ff0000"/>
<circle cx="206.4" cy="91.6" r="4.00" fill="#ff0000"/>
<circle cx="208.0" cy="95.0" r="4.00" fill="#ff0000"/>
<circle cx="209.6" cy="93.6" r="4.00" fill="#ff0000"/>
<circle cx="211.2" cy="97.0" r="4.00" fill="#ff0000"/>
<circle cx="212.8" cy="95.6" r="4.00" fill="#ff0000"/>
<circle cx="214.4" cy="98.9" r="4.00" fill="#ff0000"/>
<circle cx="216.0" cy="97.5" r="4.00" fill="#ff0000"/>
<circle cx="217.6" cy="100.9" r="4.00" fill="#ff0000"/>
<circle cx="219.2" cy="99.5" r="4.00" fill="#ff0000"/>
<circle cx="220.8" cy="102.9" r="4.00" fill="#ff0000"/>
<circle cx="222.4" cy="101.5" r="4.00" fill="#ff0000"/>
<circle cx="224.0" cy="104.9" r="4.00" fill="#ff0000"/>
<circle cx="225.6" cy="103.5" r="4.00" fill="#ff0000"/>
<circle cx="227.2" cy="106.9" r="4.00" fill="#ff0000"/>
<circle cx="228.8" cy="105.5" r="4.00" fill="#ff0000"/>
<circle cx="231.4" cy="115.8" r="4.00" fill="#ff0000"/>
<circle cx="235.8" cy="125.9" r="4.00" fill="#ff0000"/>
<circle cx="239.6" cy="142.9" r="4.00" fill="#ff0000"/>
<path d="M72.5 7.7L76.4 13.6L84.4 20.5L88.2 26.4L92.1 22.3L95.7 27.3L99.4 31.8L103.9 31.4L108.0 34.1L112.1 36.4L116.2 38.2L120.3 40.2L124.3 42.6L128.3 45.0L132.4 47.4L136.4 49.9L140.5 52.3L144.5 54.6L148.6 56.8L152.6 59.1L156.7 61.4L160.7 63.6L164.8 65.9L170.4 69.3L174.3 71.8L178.3 74.7L182.2 77.8L187.2 81.5L191.5 85.1L195.4 88.3L199.7 92.2L203.7 96.9L208.0 102.6L211.9 110.2L215.7 120.9L219.9 138.1" fill="none" stroke="#3a7a4a" stroke-width="0.9"/>
<circle cx="72.5" cy="7.7" r="3.90" fill="#fff" stroke="#3f8049" stroke-width="0.9"/>
<circle cx="76.4" cy="13.6" r="3.90" fill="#fff" stroke="#3f8049" stroke-width="0.9"/>
<circle cx="84.4" cy="20.5" r="3.90" fill="#fff" stroke="#3f8049" stroke-width="0.9"/>
<circle cx="88.2" cy="26.4" r="3.90" fill="#fff" stroke="#3f8049" stroke-width="0.9"/>
<circle cx="92.1" cy="22.3" r="3.90" fill="#fff" stroke="#3f8049" stroke-width="0.9"/>
<circle cx="95.7" cy="27.3" r="3.90" fill="#fff" stroke="#3f8049" stroke-width="0.9"/>
<circle cx="99.4" cy="31.8" r="3.90" fill="#fff" stroke="#3f8049" stroke-width="0.9"/>
<circle cx="103.9" cy="31.4" r="3.90" fill="#fff" stroke="#3f8049" stroke-width="0.9"/>
<circle cx="108.0" cy="34.1" r="3.90" fill="#fff" stroke="#3f8049" stroke-width="0.9"/>
<circle cx="112.1" cy="36.4" r="3.90" fill="#fff" stroke="#3f8049" stroke-width="0.9"/>
<circle cx="116.2" cy="38.2" r="3.90" fill="#fff" stroke="#3f8049" stroke-width="0.9"/>
<circle cx="120.3" cy="40.2" r="3.90" fill="#fff" stroke="#3f8049" stroke-width="0.9"/>
<circle cx="124.3" cy="42.6" r="3.90" fill="#fff" stroke="#3f8049" stroke-width="0.9"/>
<circle cx="128.3" cy="45.0" r="3.90" fill="#fff" stroke="#3f8049" stroke-width="0.9"/>
<circle cx="132.4" cy="47.4" r="3.90" fill="#fff" stroke="#3f8049" stroke-width="0.9"/>
<circle cx="136.4" cy="49.9" r="3.90" fill="#fff" stroke="#3f8049" stroke-width="0.9"/>
<circle cx="140.5" cy="52.3" r="3.90" fill="#fff" stroke="#3f8049" stroke-width="0.9"/>
<circle cx="144.5" cy="54.6" r="3.90" fill="#fff" stroke="#3f8049" stroke-width="0.9"/>
<circle cx="148.6" cy="56.8" r="3.90" fill="#fff" stroke="#3f8049" stroke-width="0.9"/>
<circle cx="152.6" cy="59.1" r="3.90" fill="#fff" stroke="#3f8049" stroke-width="0.9"/>
<circle cx="156.7" cy="61.4" r="3.90" fill="#fff" stroke="#3f8049" stroke-width="0.9"/>
<circle cx="160.7" cy="63.6" r="3.90" fill="#fff" stroke="#3f8049" stroke-width="0.9"/>
<circle cx="164.8" cy="65.9" r="3.90" fill="#fff" stroke="#3f8049" stroke-width="0.9"/>
<circle cx="170.4" cy="69.3" r="3.90" fill="#fff" stroke="#3f8049" stroke-width="0.9"/>
<circle cx="174.3" cy="71.8" r="3.90" fill="#fff" stroke="#3f8049" stroke-width="0.9"/>
<circle cx="178.3" cy="74.7" r="3.90" fill="#fff" stroke="#3f8049" stroke-width="0.9"/>
<circle cx="182.2" cy="77.8" r="3.90" fill="#fff" stroke="#3f8049" stroke-width="0.9"/>
<circle cx="187.2" cy="81.5" r="3.90" fill="#fff" stroke="#3f8049" stroke-width="0.9"/>
<circle cx="191.5" cy="85.1" r="3.90" fill="#fff" stroke="#3f8049" stroke-width="0.9"/>
<circle cx="195.4" cy="88.3" r="3.90" fill="#fff" stroke="#3f8049" stroke-width="0.9"/>
<circle cx="199.7" cy="92.2" r="3.90" fill="#fff" stroke="#3f8049" stroke-width="0.9"/>
<circle cx="203.7" cy="96.9" r="3.90" fill="#fff" stroke="#3f8049" stroke-width="0.9"/>
<circle cx="208.0" cy="102.6" r="3.90" fill="#fff" stroke="#3f8049" stroke-width="0.9"/>
<circle cx="211.9" cy="110.2" r="3.90" fill="#fff" stroke="#3f8049" stroke-width="0.9"/>
<circle cx="215.7" cy="120.9" r="3.90" fill="#fff" stroke="#3f8049" stroke-width="0.9"/>
<circle cx="219.9" cy="138.1" r="3.90" fill="#fff" stroke="#3f8049" stroke-width="0.9"/>
</g>
<g id="pc">
<path d="M399.8 7.4L404.0 11.0L411.3 15.5L415.4 17.0L419.3 13.7L422.9 15.5L426.8 17.0L430.9 18.2L434.9 17.7L439.0 19.5L447.5 66.7L451.4 124.7" fill="none" stroke="#f06060" stroke-width="0.9"/>
<circle cx="399.8" cy="7.4" r="3.60" fill="#fff" stroke="#f23c3c" stroke-width="0.9"/>
<circle cx="404.0" cy="11.0" r="3.60" fill="#fff" stroke="#f23c3c" stroke-width="0.9"/>
<circle cx="411.3" cy="15.5" r="3.60" fill="#fff" stroke="#f23c3c" stroke-width="0.9"/>
<circle cx="415.4" cy="17.0" r="3.60" fill="#fff" stroke="#f23c3c" stroke-width="0.9"/>
<circle cx="419.3" cy="13.7" r="3.60" fill="#fff" stroke="#f23c3c" stroke-width="0.9"/>
<circle cx="422.9" cy="15.5" r="3.60" fill="#fff" stroke="#f23c3c" stroke-width="0.9"/>
<circle cx="426.8" cy="17.0" r="3.60" fill="#fff" stroke="#f23c3c" stroke-width="0.9"/>
<circle cx="430.9" cy="18.2" r="3.60" fill="#fff" stroke="#f23c3c" stroke-width="0.9"/>
<circle cx="434.9" cy="17.7" r="3.60" fill="#fff" stroke="#f23c3c" stroke-width="0.9"/>
<circle cx="439.0" cy="19.5" r="3.60" fill="#fff" stroke="#f23c3c" stroke-width="0.9"/>
<circle cx="447.5" cy="66.7" r="3.60" fill="#fff" stroke="#f23c3c" stroke-width="0.9"/>
<circle cx="451.4" cy="124.7" r="3.60" fill="#fff" stroke="#f23c3c" stroke-width="0.9"/>
<path d="M399.8 10.0L404.0 12.0L411.3 19.0L415.4 21.5L419.3 20.0L422.9 22.5L426.8 23.5L430.9 24.0L434.9 24.5L439.0 26.5L443.1 26.5L447.1 28.5L451.2 28.5L455.2 30.5L463.3 81.3L467.3 124.0" fill="none" stroke="#50a050" stroke-width="0.9"/>
<rect x="395.8" y="6.0" width="8.0" height="8.0" fill="#fff" stroke="#42a442" stroke-width="0.9"/>
<rect x="400.0" y="8.0" width="8.0" height="8.0" fill="#fff" stroke="#42a442" stroke-width="0.9"/>
<rect x="407.3" y="15.0" width="8.0" height="8.0" fill="#fff" stroke="#42a442" stroke-width="0.9"/>
<rect x="411.4" y="17.5" width="8.0" height="8.0" fill="#fff" stroke="#42a442" stroke-width="0.9"/>
<rect x="415.3" y="16.0" width="8.0" height="8.0" fill="#fff" stroke="#42a442" stroke-width="0.9"/>
<rect x="418.9" y="18.5" width="8.0" height="8.0" fill="#fff" stroke="#42a442" stroke-width="0.9"/>
<rect x="422.8" y="19.5" width="8.0" height="8.0" fill="#fff" stroke="#42a442" stroke-width="0.9"/>
<rect x="426.9" y="20.0" width="8.0" height="8.0" fill="#fff" stroke="#42a442" stroke-width="0.9"/>
<rect x="430.9" y="20.5" width="8.0" height="8.0" fill="#fff" stroke="#42a442" stroke-width="0.9"/>
<rect x="435.0" y="22.5" width="8.0" height="8.0" fill="#fff" stroke="#42a442" stroke-width="0.9"/>
<rect x="439.1" y="22.5" width="8.0" height="8.0" fill="#fff" stroke="#42a442" stroke-width="0.9"/>
<rect x="443.1" y="24.5" width="8.0" height="8.0" fill="#fff" stroke="#42a442" stroke-width="0.9"/>
<rect x="447.2" y="24.5" width="8.0" height="8.0" fill="#fff" stroke="#42a442" stroke-width="0.9"/>
<rect x="451.2" y="26.5" width="8.0" height="8.0" fill="#fff" stroke="#42a442" stroke-width="0.9"/>
<rect x="459.3" y="77.3" width="8.0" height="8.0" fill="#fff" stroke="#42a442" stroke-width="0.9"/>
<rect x="463.3" y="120.0" width="8.0" height="8.0" fill="#fff" stroke="#42a442" stroke-width="0.9"/>
<path d="M399.8 18.5L404.0 22.5L411.3 27.0L415.4 29.5L419.3 26.5L422.9 29.0L426.8 30.5L430.9 32.0L434.9 32.5L439.0 34.5L443.1 34.5L447.1 36.5L451.2 36.5L455.2 38.5L459.3 38.5L463.3 40.5L467.4 40.5L471.4 42.5L482.7 93.0L486.5 131.0L490.5 150.3" fill="none" stroke="#5050ff" stroke-width="0.9"/>
<path d="M399.8 14.1L404.2 18.5L399.8 22.9L395.4 18.5Z" fill="#fff" stroke="#3030f8" stroke-width="0.9"/>
<path d="M404.0 18.1L408.4 22.5L404.0 26.9L399.6 22.5Z" fill="#fff" stroke="#3030f8" stroke-width="0.9"/>
<path d="M411.3 22.6L415.7 27.0L411.3 31.4L406.9 27.0Z" fill="#fff" stroke="#3030f8" stroke-width="0.9"/>
<path d="M415.4 25.1L419.8 29.5L415.4 33.9L411.0 29.5Z" fill="#fff" stroke="#3030f8" stroke-width="0.9"/>
<path d="M419.3 22.1L423.7 26.5L419.3 30.9L414.9 26.5Z" fill="#fff" stroke="#3030f8" stroke-width="0.9"/>
<path d="M422.9 24.6L427.3 29.0L422.9 33.4L418.5 29.0Z" fill="#fff" stroke="#3030f8" stroke-width="0.9"/>
<path d="M426.8 26.1L431.2 30.5L426.8 34.9L422.4 30.5Z" fill="#fff" stroke="#3030f8" stroke-width="0.9"/>
<path d="M430.9 27.6L435.3 32.0L430.9 36.4L426.5 32.0Z" fill="#fff" stroke="#3030f8" stroke-width="0.9"/>
<path d="M434.9 28.1L439.3 32.5L434.9 36.9L430.6 32.5Z" fill="#fff" stroke="#3030f8" stroke-width="0.9"/>
<path d="M439.0 30.1L443.4 34.5L439.0 38.9L434.6 34.5Z" fill="#fff" stroke="#3030f8" stroke-width="0.9"/>
<path d="M443.1 30.1L447.4 34.5L443.1 38.9L438.7 34.5Z" fill="#fff" stroke="#3030f8" stroke-width="0.9"/>
<path d="M447.1 32.1L451.5 36.5L447.1 40.9L442.7 36.5Z" fill="#fff" stroke="#3030f8" stroke-width="0.9"/>
<path d="M451.2 32.1L455.6 36.5L451.2 40.9L446.8 36.5Z" fill="#fff" stroke="#3030f8" stroke-width="0.9"/>
<path d="M455.2 34.1L459.6 38.5L455.2 42.9L450.8 38.5Z" fill="#fff" stroke="#3030f8" stroke-width="0.9"/>
<path d="M459.3 34.1L463.7 38.5L459.3 42.9L454.9 38.5Z" fill="#fff" stroke="#3030f8" stroke-width="0.9"/>
<path d="M463.3 36.1L467.7 40.5L463.3 44.9L458.9 40.5Z" fill="#fff" stroke="#3030f8" stroke-width="0.9"/>
<path d="M467.4 36.1L471.8 40.5L467.4 44.9L463.0 40.5Z" fill="#fff" stroke="#3030f8" stroke-width="0.9"/>
<path d="M471.4 38.1L475.8 42.5L471.4 46.9L467.0 42.5Z" fill="#fff" stroke="#3030f8" stroke-width="0.9"/>
<path d="M482.7 88.6L487.1 93.0L482.7 97.4L478.3 93.0Z" fill="#fff" stroke="#3030f8" stroke-width="0.9"/>
<path d="M486.5 126.6L490.9 131.0L486.5 135.4L482.1 131.0Z" fill="#fff" stroke="#3030f8" stroke-width="0.9"/>
<path d="M490.5 145.9L494.9 150.3L490.5 154.7L486.1 150.3Z" fill="#fff" stroke="#3030f8" stroke-width="0.9"/>
<path d="M402.6 22.0L406.7 25.4L410.7 26.7L414.8 30.1L418.8 31.4L422.9 34.8L426.9 36.2L431.0 38.9L435.0 39.5L439.1 42.1L443.1 42.7L447.2 45.4L451.2 46.1L455.3 49.0L459.3 49.9L463.4 52.8L467.4 53.8L471.5 56.3L475.5 56.2L479.6 58.1L483.6 58.1L487.7 60.0L491.7 60.0L495.8 62.2L499.8 62.4L503.9 64.6L507.9 64.8L518.5 98.0L521.6 124.0L526.1 163.1" fill="none" stroke="#f060f0" stroke-width="0.9"/>
<path d="M402.6 17.6L406.8 25.6L398.4 25.6Z" fill="#fff" stroke="#f236f2" stroke-width="0.9"/>
<path d="M406.7 21.0L410.9 28.9L402.5 28.9Z" fill="#fff" stroke="#f236f2" stroke-width="0.9"/>
<path d="M410.7 22.3L414.9 30.3L406.5 30.3Z" fill="#fff" stroke="#f236f2" stroke-width="0.9"/>
<path d="M414.8 25.7L419.0 33.7L410.6 33.7Z" fill="#fff" stroke="#f236f2" stroke-width="0.9"/>
<path d="M418.8 27.0L423.0 35.0L414.6 35.0Z" fill="#fff" stroke="#f236f2" stroke-width="0.9"/>
<path d="M422.9 30.4L427.1 38.4L418.7 38.4Z" fill="#fff" stroke="#f236f2" stroke-width="0.9"/>
<path d="M426.9 31.7L431.1 39.7L422.7 39.7Z" fill="#fff" stroke="#f236f2" stroke-width="0.9"/>
<path d="M431.0 34.5L435.2 42.5L426.8 42.5Z" fill="#fff" stroke="#f236f2" stroke-width="0.9"/>
<path d="M435.0 35.1L439.2 43.1L430.8 43.1Z" fill="#fff" stroke="#f236f2" stroke-width="0.9"/>
<path d="M439.1 37.7L443.3 45.7L434.9 45.7Z" fill="#fff" stroke="#f236f2" stroke-width="0.9"/>
<path d="M443.1 38.3L447.3 46.3L438.9 46.3Z" fill="#fff" stroke="#f236f2" stroke-width="0.9"/>
<path d="M447.2 41.0L451.4 48.9L443.0 48.9Z" fill="#fff" stroke="#f236f2" stroke-width="0.9"/>
<path d="M451.2 41.7L455.4 49.6L447.0 49.6Z" fill="#fff" stroke="#f236f2" stroke-width="0.9"/>
<path d="M455.3 44.6L459.5 52.6L451.1 52.6Z" fill="#fff" stroke="#f236f2" stroke-width="0.9"/>
<path d="M459.3 45.5L463.5 53.5L455.1 53.5Z" fill="#fff" stroke="#f236f2" stroke-width="0.9"/>
<path d="M463.4 48.4L467.6 56.4L459.2 56.4Z" fill="#fff" stroke="#f236f2" stroke-width="0.9"/>
<path d="M467.4 49.4L471.6 57.3L463.2 57.3Z" fill="#fff" stroke="#f236f2" stroke-width="0.9"/>
<path d="M471.5 51.9L475.7 59.9L467.3 59.9Z" fill="#fff" stroke="#f236f2" stroke-width="0.9"/>
<path d="M475.5 51.8L479.7 59.8L471.3 59.8Z" fill="#fff" stroke="#f236f2" stroke-width="0.9"/>
<path d="M479.6 53.7L483.8 61.7L475.4 61.7Z" fill="#fff" stroke="#f236f2" stroke-width="0.9"/>
<path d="M483.6 53.7L487.8 61.6L479.4 61.6Z" fill="#fff" stroke="#f236f2" stroke-width="0.9"/>
<path d="M487.7 55.6L491.9 63.5L483.5 63.5Z" fill="#fff" stroke="#f236f2" stroke-width="0.9"/>
<path d="M491.7 55.6L495.9 63.6L487.5 63.6Z" fill="#fff" stroke="#f236f2" stroke-width="0.9"/>
<path d="M495.8 57.8L500.0 65.8L491.6 65.8Z" fill="#fff" stroke="#f236f2" stroke-width="0.9"/>
<path d="M499.8 58.0L504.0 66.0L495.6 66.0Z" fill="#fff" stroke="#f236f2" stroke-width="0.9"/>
<path d="M503.9 60.2L508.1 68.2L499.7 68.2Z" fill="#fff" stroke="#f236f2" stroke-width="0.9"/>
<path d="M507.9 60.4L512.1 68.4L503.7 68.4Z" fill="#fff" stroke="#f236f2" stroke-width="0.9"/>
<path d="M518.5 93.6L522.7 101.6L514.3 101.6Z" fill="#fff" stroke="#f236f2" stroke-width="0.9"/>
<path d="M521.6 119.6L525.8 127.6L517.4 127.6Z" fill="#fff" stroke="#f236f2" stroke-width="0.9"/>
<path d="M526.1 158.7L530.3 166.7L521.9 166.7Z" fill="#fff" stroke="#f236f2" stroke-width="0.9"/>
<path d="M402.0 21.9L406.1 25.7L410.1 27.4L414.2 31.2L418.2 33.0L422.3 36.8L426.3 38.6L430.4 42.4L434.4 44.2L438.5 47.9L442.5 49.3L446.6 52.4L450.6 53.5L454.7 56.6L458.7 57.7L462.8 60.8L466.8 61.8L470.9 64.7L474.9 64.4L479.0 66.2L484.6 65.8L487.3 68.9L490.0 67.3L492.7 70.4L495.4 68.8L498.1 71.9L500.8 70.2L503.5 73.4L506.2 71.7L508.9 74.9L511.6 73.3L514.3 76.5L517.0 74.9L519.7 78.1L522.4 76.5L525.1 79.7L527.8 78.1L530.5 81.3L533.2 79.7L541.5 120.0L545.1 143.1L549.4 177.6" fill="none" stroke="#d08050" stroke-width="0.9"/>
<path d="M402.0 18.2V25.6M398.8 20.0L405.2 23.7M398.8 23.7L405.2 20.0" stroke="#d2691e" fill="none"/>
<path d="M406.1 22.0V29.4M402.8 23.8L409.3 27.5M402.8 27.5L409.3 23.8" stroke="#d2691e" fill="none"/>
<path d="M410.1 23.7V31.1M406.9 25.6L413.3 29.3M406.9 29.3L413.3 25.6" stroke="#d2691e" fill="none"/>
<path d="M414.2 27.5V34.9M410.9 29.4L417.4 33.1M410.9 33.1L417.4 29.4" stroke="#d2691e" fill="none"/>
<path d="M418.2 29.3V36.7M415.0 31.2L421.4 34.9M415.0 34.9L421.4 31.2" stroke="#d2691e" fill="none"/>
<path d="M422.3 33.1V40.5M419.0 34.9L425.5 38.6M419.0 38.6L425.5 34.9" stroke="#d2691e" fill="none"/>
<path d="M426.3 34.9V42.3M423.1 36.7L429.5 40.4M423.1 40.4L429.5 36.7" stroke="#d2691e" fill="none"/>
<path d="M430.4 38.7V46.1M427.1 40.5L433.6 44.2M427.1 44.2L433.6 40.5" stroke="#d2691e" fill="none"/>
<path d="M434.4 40.5V47.9M431.2 42.3L437.6 46.0M431.2 46.0L437.6 42.3" stroke="#d2691e" fill="none"/>
<path d="M438.5 44.2V51.6M435.2 46.1L441.7 49.8M435.2 49.8L441.7 46.1" stroke="#d2691e" fill="none"/>
<path d="M442.5 45.6V53.0M439.3 47.4L445.7 51.1M439.3 51.1L445.7 47.4" stroke="#d2691e" fill="none"/>
<path d="M446.6 48.7V56.1M443.3 50.5L449.8 54.2M443.3 54.2L449.8 50.5" stroke="#d2691e" fill="none"/>
<path d="M450.6 49.8V57.2M447.4 51.6L453.8 55.3M447.4 55.3L453.8 51.6" stroke="#d2691e" fill="none"/>
<path d="M454.7 52.9V60.3M451.4 54.7L457.9 58.4M451.4 58.4L457.9 54.7" stroke="#d2691e" fill="none"/>
<path d="M458.7 54.0V61.4M455.5 55.8L461.9 59.5M455.5 59.5L461.9 55.8" stroke="#d2691e" fill="none"/>
<path d="M462.8 57.1V64.5M459.5 58.9L466.0 62.6M459.5 62.6L466.0 58.9" stroke="#d2691e" fill="none"/>
<path d="M466.8 58.1V65.5M463.6 60.0L470.0 63.7M463.6 63.7L470.0 60.0" stroke="#d2691e" fill="none"/>
<path d="M470.9 61.0V68.4M467.6 62.8L474.1 66.5M467.6 66.5L474.1 62.8" stroke="#d2691e" fill="none"/>
<path d="M474.9 60.7V68.1M471.7 62.6L478.1 66.3M471.7 66.3L478.1 62.6" stroke="#d2691e" fill="none"/>
<path d="M479.0 62.5V69.9M475.7 64.4L482.2 68.1M475.7 68.1L482.2 64.4" stroke="#d2691e" fill="none"/>
<path d="M484.6 62.1V69.5M481.4 63.9L487.8 67.6M481.4 67.6L487.8 63.9" stroke="#d2691e" fill="none"/>
<path d="M487.3 65.2V72.6M484.1 67.1L490.5 70.8M484.1 70.8L490.5 67.1" stroke="#d2691e" fill="none"/>
<path d="M490.0 63.6V71.0M486.8 65.4L493.2 69.1M486.8 69.1L493.2 65.4" stroke="#d2691e" fill="none"/>
<path d="M492.7 66.7V74.1M489.5 68.6L495.9 72.3M489.5 72.3L495.9 68.6" stroke="#d2691e" fill="none"/>
<path d="M495.4 65.1V72.5M492.2 66.9L498.6 70.6M492.2 70.6L498.6 66.9" stroke="#d2691e" fill="none"/>
<path d="M498.1 68.2V75.6M494.9 70.0L501.3 73.7M494.9 73.7L501.3 70.0" stroke="#d2691e" fill="none"/>
<path d="M500.8 66.5V73.9M497.6 68.4L504.0 72.1M497.6 72.1L504.0 68.4" stroke="#d2691e" fill="none"/>
<path d="M503.5 69.7V77.1M500.3 71.5L506.7 75.2M500.3 75.2L506.7 71.5" stroke="#d2691e" fill="none"/>
<path d="M506.2 68.0V75.4M503.0 69.9L509.4 73.6M503.0 73.6L509.4 69.9" stroke="#d2691e" fill="none"/>
<path d="M508.9 71.2V78.6M505.7 73.0L512.1 76.7M505.7 76.7L512.1 73.0" stroke="#d2691e" fill="none"/>
<path d="M511.6 69.6V77.0M508.4 71.4L514.8 75.1M508.4 75.1L514.8 71.4" stroke="#d2691e" fill="none"/>
<path d="M514.3 72.8V80.2M511.1 74.6L517.5 78.3M511.1 78.3L517.5 74.6" stroke="#d2691e" fill="none"/>
<path d="M517.0 71.2V78.6M513.8 73.0L520.2 76.7M513.8 76.7L520.2 73.0" stroke="#d2691e" fill="none"/>
<path d="M519.7 74.4V81.8M516.5 76.2L522.9 79.9M516.5 79.9L522.9 76.2" stroke="#d2691e" fill="none"/>
<path d="M522.4 72.8V80.2M519.2 74.6L525.6 78.3M519.2 78.3L525.6 74.6" stroke="#d2691e" fill="none"/>
<path d="M525.1 76.0V83.4M521.9 77.8L528.3 81.5M521.9 81.5L528.3 77.8" stroke="#d2691e" fill="none"/>
<path d="M527.8 74.4V81.8M524.6 76.2L531.0 79.9M524.6 79.9L531.0 76.2" stroke="#d2691e" fill="none"/>
<path d="M530.5 77.6V85.0M527.3 79.4L533.7 83.1M527.3 83.1L533.7 79.4" stroke="#d2691e" fill="none"/>
<path d="M533.2 76.0V83.4M530.0 77.8L536.4 81.5M530.0 81.5L536.4 77.8" stroke="#d2691e" fill="none"/>
<path d="M541.5 116.3V123.7M538.3 118.2L544.7 121.8M538.3 121.8L544.7 118.2" stroke="#d2691e" fill="none"/>
<path d="M545.1 139.4V146.8M541.9 141.2L548.3 144.9M541.9 144.9L548.3 141.2" stroke="#d2691e" fill="none"/>
<path d="M549.4 173.9V181.3M546.2 175.8L552.6 179.4M546.2 179.4L552.6 175.8" stroke="#d2691e" fill="none"/>
<path d="M401.5 22.5L405.6 26.2L409.6 28.0L413.7 31.7L417.7 33.4L421.8 37.2L425.8 38.9L429.9 42.6L433.9 44.4L438.0 48.1L442.0 49.6L446.1 52.9L450.1 54.2L454.2 57.5L458.2 58.7L462.3 62.0L466.3 63.3L470.4 66.6L474.4 67.9L478.5 71.1L482.5 71.6L486.6 73.5L490.6 73.4L494.7 75.3L498.7 75.2L502.8 77.1L505.0 75.2L508.2 77.8L511.4 77.1L514.6 79.7L517.8 79.0L521.0 81.6L524.2 81.0L527.4 83.6L530.6 83.0L533.8 85.7L537.0 85.1L540.2 87.7L543.4 87.1L550.0 95.1L557.4 127.5L561.0 151.3L564.8 182.0" fill="none" stroke="#404040" stroke-width="0.9"/>
<path d="M397.5 18.5L405.5 26.5M397.5 26.5L405.5 18.5" stroke="#222222" fill="none"/>
<path d="M401.6 22.3L409.5 30.2M401.6 30.2L409.5 22.3" stroke="#222222" fill="none"/>
<path d="M405.6 24.0L413.6 32.0M405.6 32.0L413.6 24.0" stroke="#222222" fill="none"/>
<path d="M409.7 27.7L417.6 35.7M409.7 35.7L417.6 27.7" stroke="#222222" fill="none"/>
<path d="M413.7 29.5L421.7 37.4M413.7 37.4L421.7 29.5" stroke="#222222" fill="none"/>
<path d="M417.8 33.2L425.7 41.2M417.8 41.2L425.7 33.2" stroke="#222222" fill="none"/>
<path d="M421.8 34.9L429.8 42.9M421.8 42.9L429.8 34.9" stroke="#222222" fill="none"/>
<path d="M425.9 38.7L433.8 46.6M425.9 46.6L433.8 38.7" stroke="#222222" fill="none"/>
<path d="M429.9 40.4L437.9 48.4M429.9 48.4L437.9 40.4" stroke="#222222" fill="none"/>
<path d="M434.0 44.1L441.9 52.1M434.0 52.1L441.9 44.1" stroke="#222222" fill="none"/>
<path d="M438.0 45.7L446.0 53.6M438.0 53.6L446.0 45.7" stroke="#222222" fill="none"/>
<path d="M442.1 48.9L450.0 56.9M442.1 56.9L450.0 48.9" stroke="#222222" fill="none"/>
<path d="M446.1 50.2L454.1 58.2M446.1 58.2L454.1 50.2" stroke="#222222" fill="none"/>
<path d="M450.2 53.5L458.1 61.4M450.2 61.4L458.1 53.5" stroke="#222222" fill="none"/>
<path d="M454.2 54.8L462.2 62.7M454.2 62.7L462.2 54.8" stroke="#222222" fill="none"/>
<path d="M458.3 58.0L466.2 66.0M458.3 66.0L466.2 58.0" stroke="#222222" fill="none"/>
<path d="M462.3 59.3L470.3 67.3M462.3 67.3L470.3 59.3" stroke="#222222" fill="none"/>
<path d="M466.4 62.6L474.3 70.5M466.4 70.5L474.3 62.6" stroke="#222222" fill="none"/>
<path d="M470.4 63.9L478.4 71.8M470.4 71.8L478.4 63.9" stroke="#222222" fill="none"/>
<path d="M474.5 67.2L482.4 75.1M474.5 75.1L482.4 67.2" stroke="#222222" fill="none"/>
<path d="M478.5 67.6L486.5 75.5M478.5 75.5L486.5 67.6" stroke="#222222" fill="none"/>
<path d="M482.6 69.5L490.5 77.4M482.6 77.4L490.5 69.5" stroke="#222222" fill="none"/>
<path d="M486.6 69.4L494.6 77.4M486.6 77.4L494.6 69.4" stroke="#222222" fill="none"/>
<path d="M490.7 71.3L498.6 79.3M490.7 79.3L498.6 71.3" stroke="#222222" fill="none"/>
<path d="M494.7 71.2L502.7 79.2M494.7 79.2L502.7 71.2" stroke="#222222" fill="none"/>
<path d="M498.8 73.1L506.7 81.1M498.8 81.1L506.7 73.1" stroke="#222222" fill="none"/>
<path d="M501.0 71.2L509.0 79.2M501.0 79.2L509.0 71.2" stroke="#222222" fill="none"/>
<path d="M504.2 73.8L512.2 81.7M504.2 81.7L512.2 73.8" stroke="#222222" fill="none"/>
<path d="M507.4 73.1L515.4 81.1M507.4 81.1L515.4 73.1" stroke="#222222" fill="none"/>
<path d="M510.6 75.7L518.6 83.7M510.6 83.7L518.6 75.7" stroke="#222222" fill="none"/>
<path d="M513.8 75.1L521.8 83.0M513.8 83.0L521.8 75.1" stroke="#222222" fill="none"/>
<path d="M517.0 77.6L525.0 85.6M517.0 85.6L525.0 77.6" stroke="#222222" fill="none"/>
<path d="M520.2 77.1L528.2 85.0M520.2 85.0L528.2 77.1" stroke="#222222" fill="none"/>
<path d="M523.4 79.7L531.4 87.6M523.4 87.6L531.4 79.7" stroke="#222222" fill="none"/>
<path d="M526.6 79.1L534.6 87.0M526.6 87.0L534.6 79.1" stroke="#222222" fill="none"/>
<path d="M529.8 81.7L537.8 89.6M529.8 89.6L537.8 81.7" stroke="#222222" fill="none"/>
<path d="M533.0 81.1L541.0 89.0M533.0 89.0L541.0 81.1" stroke="#222222" fill="none"/>
<path d="M536.2 83.7L544.2 91.6M536.2 91.6L544.2 83.7" stroke="#222222" fill="none"/>
<path d="M539.4 83.1L547.4 91.1M539.4 91.1L547.4 83.1" stroke="#222222" fill="none"/>
<path d="M546.0 91.1L554.0 99.1M546.0 99.1L554.0 91.1" stroke="#222222" fill="none"/>
<path d="M553.4 123.5L561.4 131.5M553.4 131.5L561.4 123.5" stroke="#222222" fill="none"/>
<path d="M557.0 147.3L565.0 155.3M557.0 155.3L565.0 147.3" stroke="#222222" fill="none"/>
<path d="M560.8 178.0L568.8 186.0M560.8 186.0L568.8 178.0" stroke="#222222" fill="none"/>
<path d="M400.8 19.9L403.8 23.0L406.8 23.7L409.8 26.8L412.8 27.5L415.8 30.7L418.8 31.4L421.8 34.5L424.8 35.2L427.8 38.3L430.8 39.1L433.8 42.2L436.8 42.9L439.8 46.0L442.8 46.7L445.8 49.8L448.8 50.6L451.8 53.7L454.8 54.4L457.8 57.5L460.8 58.2L463.8 61.3L466.8 62.1L469.8 65.2L472.8 65.9L475.8 69.0L478.8 69.7L481.8 72.8L484.8 73.6L487.8 76.7L490.8 77.4L493.8 80.5L496.8 81.2L499.8 84.3L502.8 85.1L505.8 88.2L508.8 88.9L511.8 92.0L514.8 92.7L517.8 95.8L520.8 96.2L523.8 97.9L526.8 97.2L529.8 98.9L532.8 98.2L535.8 100.0L538.8 99.3L541.8 101.0L544.8 100.6L547.8 102.8L550.8 102.5L553.8 104.7L556.8 104.4L559.8 106.5L562.8 106.4L565.8 108.6L568.8 108.4L571.8 110.6L574.8 110.5L577.8 112.7L583.5 126.0L587.7 139.9L592.0 156.6L595.9 176.4L599.9 201.1" fill="none" stroke="#30e0e0" stroke-width="0.9"/>
<path d="M400.8 16.4L401.6 18.7L404.1 18.8L402.1 20.3L402.9 22.7L400.8 21.3L398.7 22.7L399.5 20.3L397.5 18.8L400.0 18.7Z" fill="#00e5e5" stroke="#00e5e5" stroke-width="0.5"/>
<path d="M403.8 19.5L404.6 21.9L407.1 21.9L405.1 23.4L405.9 25.8L403.8 24.4L401.7 25.8L402.5 23.4L400.5 21.9L403.0 21.9Z" fill="#00e5e5" stroke="#00e5e5" stroke-width="0.5"/>
<path d="M406.8 20.2L407.6 22.6L410.1 22.6L408.1 24.1L408.9 26.5L406.8 25.1L404.7 26.5L405.5 24.1L403.5 22.6L406.0 22.6Z" fill="#00e5e5" stroke="#00e5e5" stroke-width="0.5"/>
<path d="M409.8 23.3L410.6 25.7L413.1 25.7L411.1 27.3L411.9 29.7L409.8 28.2L407.7 29.7L408.5 27.3L406.5 25.7L409.0 25.7Z" fill="#00e5e5" stroke="#00e5e5" stroke-width="0.5"/>
<path d="M412.8 24.0L413.6 26.4L416.1 26.5L414.1 28.0L414.9 30.4L412.8 28.9L410.7 30.4L411.5 28.0L409.5 26.5L412.0 26.4Z" fill="#00e5e5" stroke="#00e5e5" stroke-width="0.5"/>
<path d="M415.8 27.2L416.6 29.5L419.1 29.6L417.1 31.1L417.9 33.5L415.8 32.1L413.7 33.5L414.5 31.1L412.5 29.6L415.0 29.5Z" fill="#00e5e5" stroke="#00e5e5" stroke-width="0.5"/>
<path d="M418.8 27.9L419.6 30.2L422.1 30.3L420.1 31.8L420.9 34.2L418.8 32.8L416.7 34.2L417.5 31.8L415.5 30.3L418.0 30.2Z" fill="#00e5e5" stroke="#00e5e5" stroke-width="0.5"/>
<path d="M421.8 31.0L422.6 33.4L425.1 33.4L423.1 34.9L423.9 37.3L421.8 35.9L419.7 37.3L420.5 34.9L418.5 33.4L421.0 33.4Z" fill="#00e5e5" stroke="#00e5e5" stroke-width="0.5"/>
<path d="M424.8 31.7L425.6 34.1L428.1 34.1L426.1 35.6L426.9 38.0L424.8 36.6L422.7 38.0L423.5 35.6L421.5 34.1L424.0 34.1Z" fill="#00e5e5" stroke="#00e5e5" stroke-width="0.5"/>
<path d="M427.8 34.8L428.6 37.2L431.1 37.3L429.1 38.8L429.9 41.2L427.8 39.7L425.7 41.2L426.5 38.8L424.5 37.3L427.0 37.2Z" fill="#00e5e5" stroke="#00e5e5" stroke-width="0.5"/>
<path d="M430.8 35.6L431.6 37.9L434.1 38.0L432.1 39.5L432.9 41.9L430.8 40.5L428.7 41.9L429.5 39.5L427.5 38.0L430.0 37.9Z" fill="#00e5e5" stroke="#00e5e5" stroke-width="0.5"/>
<path d="M433.8 38.7L434.6 41.0L437.1 41.1L435.1 42.6L435.9 45.0L433.8 43.6L431.7 45.0L432.5 42.6L430.5 41.1L433.0 41.0Z" fill="#00e5e5" stroke="#00e5e5" stroke-width="0.5"/>
<path d="M436.8 39.4L437.6 41.8L440.1 41.8L438.1 43.3L438.9 45.7L436.8 44.3L434.7 45.7L435.5 43.3L433.5 41.8L436.0 41.8Z" fill="#00e5e5" stroke="#00e5e5" stroke-width="0.5"/>
<path d="M439.8 42.5L440.6 44.9L443.1 44.9L441.1 46.4L441.9 48.8L439.8 47.4L437.7 48.8L438.5 46.4L436.5 44.9L439.0 44.9Z" fill="#00e5e5" stroke="#00e5e5" stroke-width="0.5"/>
<path d="M442.8 43.2L443.6 45.6L446.1 45.6L444.1 47.2L444.9 49.5L442.8 48.1L440.7 49.5L441.5 47.2L439.5 45.6L442.0 45.6Z" fill="#00e5e5" stroke="#00e5e5" stroke-width="0.5"/>
<path d="M445.8 46.3L446.6 48.7L449.1 48.8L447.1 50.3L447.9 52.7L445.8 51.2L443.7 52.7L444.5 50.3L442.5 48.8L445.0 48.7Z" fill="#00e5e5" stroke="#00e5e5" stroke-width="0.5"/>
<path d="M448.8 47.1L449.6 49.4L452.1 49.5L450.1 51.0L450.9 53.4L448.8 52.0L446.7 53.4L447.5 51.0L445.5 49.5L448.0 49.4Z" fill="#00e5e5" stroke="#00e5e5" stroke-width="0.5"/>
<path d="M451.8 50.2L452.6 52.5L455.1 52.6L453.1 54.1L453.9 56.5L451.8 55.1L449.7 56.5L450.5 54.1L448.5 52.6L451.0 52.5Z" fill="#00e5e5" stroke="#00e5e5" stroke-width="0.5"/>
<path d="M454.8 50.9L455.6 53.3L458.1 53.3L456.1 54.8L456.9 57.2L454.8 55.8L452.7 57.2L453.5 54.8L451.5 53.3L454.0 53.3Z" fill="#00e5e5" stroke="#00e5e5" stroke-width="0.5"/>
<path d="M457.8 54.0L458.6 56.4L461.1 56.4L459.1 57.9L459.9 60.3L457.8 58.9L455.7 60.3L456.5 57.9L454.5 56.4L457.0 56.4Z" fill="#00e5e5" stroke="#00e5e5" stroke-width="0.5"/>
<path d="M460.8 54.7L461.6 57.1L464.1 57.1L462.1 58.7L462.9 61.1L460.8 59.6L458.7 61.1L459.5 58.7L457.5 57.1L460.0 57.1Z" fill="#00e5e5" stroke="#00e5e5" stroke-width="0.5"/>
<path d="M463.8 57.8L464.6 60.2L467.1 60.3L465.1 61.8L465.9 64.2L463.8 62.7L461.7 64.2L462.5 61.8L460.5 60.3L463.0 60.2Z" fill="#00e5e5" stroke="#00e5e5" stroke-width="0.5"/>
<path d="M466.8 58.6L467.6 60.9L470.1 61.0L468.1 62.5L468.9 64.9L466.8 63.5L464.7 64.9L465.5 62.5L463.5 61.0L466.0 60.9Z" fill="#00e5e5" stroke="#00e5e5" stroke-width="0.5"/>
<path d="M469.8 61.7L470.6 64.0L473.1 64.1L471.1 65.6L471.9 68.0L469.8 66.6L467.7 68.0L468.5 65.6L466.5 64.1L469.0 64.0Z" fill="#00e5e5" stroke="#00e5e5" stroke-width="0.5"/>
<path d="M472.8 62.4L473.6 64.8L476.1 64.8L474.1 66.3L474.9 68.7L472.8 67.3L470.7 68.7L471.5 66.3L469.5 64.8L472.0 64.8Z" fill="#00e5e5" stroke="#00e5e5" stroke-width="0.5"/>
<path d="M475.8 65.5L476.6 67.9L479.1 67.9L477.1 69.4L477.9 71.8L475.8 70.4L473.7 71.8L474.5 69.4L472.5 67.9L475.0 67.9Z" fill="#00e5e5" stroke="#00e5e5" stroke-width="0.5"/>
<path d="M478.8 66.2L479.6 68.6L482.1 68.6L480.1 70.2L480.9 72.6L478.8 71.1L476.7 72.6L477.5 70.2L475.5 68.6L478.0 68.6Z" fill="#00e5e5" stroke="#00e5e5" stroke-width="0.5"/>
<path d="M481.8 69.3L482.6 71.7L485.1 71.8L483.1 73.3L483.9 75.7L481.8 74.2L479.7 75.7L480.5 73.3L478.5 71.8L481.0 71.7Z" fill="#00e5e5" stroke="#00e5e5" stroke-width="0.5"/>
<path d="M484.8 70.1L485.6 72.4L488.1 72.5L486.1 74.0L486.9 76.4L484.8 75.0L482.7 76.4L483.5 74.0L481.5 72.5L484.0 72.4Z" fill="#00e5e5" stroke="#00e5e5" stroke-width="0.5"/>
<path d="M487.8 73.2L488.6 75.5L491.1 75.6L489.1 77.1L489.9 79.5L487.8 78.1L485.7 79.5L486.5 77.1L484.5 75.6L487.0 75.5Z" fill="#00e5e5" stroke="#00e5e5" stroke-width="0.5"/>
<path d="M490.8 73.9L491.6 76.3L494.1 76.3L492.1 77.8L492.9 80.2L490.8 78.8L488.7 80.2L489.5 77.8L487.5 76.3L490.0 76.3Z" fill="#00e5e5" stroke="#00e5e5" stroke-width="0.5"/>
<path d="M493.8 77.0L494.6 79.4L497.1 79.4L495.1 80.9L495.9 83.3L493.8 81.9L491.7 83.3L492.5 80.9L490.5 79.4L493.0 79.4Z" fill="#00e5e5" stroke="#00e5e5" stroke-width="0.5"/>
<path d="M496.8 77.7L497.6 80.1L500.1 80.1L498.1 81.7L498.9 84.1L496.8 82.6L494.7 84.1L495.5 81.7L493.5 80.1L496.0 80.1Z" fill="#00e5e5" stroke="#00e5e5" stroke-width="0.5"/>
<path d="M499.8 80.8L500.6 83.2L503.1 83.3L501.1 84.8L501.9 87.2L499.8 85.7L497.7 87.2L498.5 84.8L496.5 83.3L499.0 83.2Z" fill="#00e5e5" stroke="#00e5e5" stroke-width="0.5"/>
<path d="M502.8 81.6L503.6 83.9L506.1 84.0L504.1 85.5L504.9 87.9L502.8 86.5L500.7 87.9L501.5 85.5L499.5 84.0L502.0 83.9Z" fill="#00e5e5" stroke="#00e5e5" stroke-width="0.5"/>
<path d="M505.8 84.7L506.6 87.0L509.1 87.1L507.1 88.6L507.9 91.0L505.8 89.6L503.7 91.0L504.5 88.6L502.5 87.1L505.0 87.0Z" fill="#00e5e5" stroke="#00e5e5" stroke-width="0.5"/>
<path d="M508.8 85.4L509.6 87.8L512.1 87.8L510.1 89.3L510.9 91.7L508.8 90.3L506.7 91.7L507.5 89.3L505.5 87.8L508.0 87.8Z" fill="#00e5e5" stroke="#00e5e5" stroke-width="0.5"/>
<path d="M511.8 88.5L512.6 90.9L515.1 90.9L513.1 92.4L513.9 94.8L511.8 93.4L509.7 94.8L510.5 92.4L508.5 90.9L511.0 90.9Z" fill="#00e5e5" stroke="#00e5e5" stroke-width="0.5"/>
<path d="M514.8 89.2L515.6 91.6L518.1 91.6L516.1 93.2L516.9 95.6L514.8 94.1L512.7 95.6L513.5 93.2L511.5 91.6L514.0 91.6Z" fill="#00e5e5" stroke="#00e5e5" stroke-width="0.5"/>
<path d="M517.8 92.3L518.6 94.7L521.1 94.8L519.1 96.3L519.9 98.7L517.8 97.2L515.7 98.7L516.5 96.3L514.5 94.8L517.0 94.7Z" fill="#00e5e5" stroke="#00e5e5" stroke-width="0.5"/>
<path d="M520.8 92.7L521.6 95.1L524.1 95.1L522.1 96.6L522.9 99.0L520.8 97.6L518.7 99.0L519.5 96.6L517.5 95.1L520.0 95.1Z" fill="#00e5e5" stroke="#00e5e5" stroke-width="0.5"/>
<path d="M523.8 94.4L524.6 96.8L527.1 96.8L525.1 98.3L525.9 100.7L523.8 99.3L521.7 100.7L522.5 98.3L520.5 96.8L523.0 96.8Z" fill="#00e5e5" stroke="#00e5e5" stroke-width="0.5"/>
<path d="M526.8 93.7L527.6 96.1L530.1 96.1L528.1 97.6L528.9 100.0L526.8 98.6L524.7 100.0L525.5 97.6L523.5 96.1L526.0 96.1Z" fill="#00e5e5" stroke="#00e5e5" stroke-width="0.5"/>
<path d="M529.8 95.4L530.6 97.8L533.1 97.8L531.1 99.4L531.9 101.8L529.8 100.3L527.7 101.8L528.5 99.4L526.5 97.8L529.0 97.8Z" fill="#00e5e5" stroke="#00e5e5" stroke-width="0.5"/>
<path d="M532.8 94.7L533.6 97.1L536.1 97.2L534.1 98.7L534.9 101.1L532.8 99.6L530.7 101.1L531.5 98.7L529.5 97.2L532.0 97.1Z" fill="#00e5e5" stroke="#00e5e5" stroke-width="0.5"/>
<path d="M535.8 96.5L536.6 98.8L539.1 98.9L537.1 100.4L537.9 102.8L535.8 101.4L533.7 102.8L534.5 100.4L532.5 98.9L535.0 98.8Z" fill="#00e5e5" stroke="#00e5e5" stroke-width="0.5"/>
<path d="M538.8 95.8L539.6 98.1L542.1 98.2L540.1 99.7L540.9 102.1L538.8 100.7L536.7 102.1L537.5 99.7L535.5 98.2L538.0 98.1Z" fill="#00e5e5" stroke="#00e5e5" stroke-width="0.5"/>
<path d="M541.8 97.5L542.6 99.8L545.1 99.9L543.1 101.4L543.9 103.8L541.8 102.4L539.7 103.8L540.5 101.4L538.5 99.9L541.0 99.8Z" fill="#00e5e5" stroke="#00e5e5" stroke-width="0.5"/>
<path d="M544.8 97.1L545.6 99.5L548.1 99.5L546.1 101.1L546.9 103.5L544.8 102.0L542.7 103.5L543.5 101.1L541.5 99.5L544.0 99.5Z" fill="#00e5e5" stroke="#00e5e5" stroke-width="0.5"/>
<path d="M547.8 99.3L548.6 101.6L551.1 101.7L549.1 103.2L549.9 105.6L547.8 104.2L545.7 105.6L546.5 103.2L544.5 101.7L547.0 101.6Z" fill="#00e5e5" stroke="#00e5e5" stroke-width="0.5"/>
<path d="M550.8 99.0L551.6 101.4L554.1 101.4L552.1 102.9L552.9 105.3L550.8 103.9L548.7 105.3L549.5 102.9L547.5 101.4L550.0 101.4Z" fill="#00e5e5" stroke="#00e5e5" stroke-width="0.5"/>
<path d="M553.8 101.2L554.6 103.5L557.1 103.6L555.1 105.1L555.9 107.5L553.8 106.1L551.7 107.5L552.5 105.1L550.5 103.6L553.0 103.5Z" fill="#00e5e5" stroke="#00e5e5" stroke-width="0.5"/>
<path d="M556.8 100.9L557.6 103.3L560.1 103.3L558.1 104.8L558.9 107.2L556.8 105.8L554.7 107.2L555.5 104.8L553.5 103.3L556.0 103.3Z" fill="#00e5e5" stroke="#00e5e5" stroke-width="0.5"/>
<path d="M559.8 103.0L560.6 105.4L563.1 105.5L561.1 107.0L561.9 109.4L559.8 107.9L557.7 109.4L558.5 107.0L556.5 105.5L559.0 105.4Z" fill="#00e5e5" stroke="#00e5e5" stroke-width="0.5"/>
<path d="M562.8 102.9L563.6 105.2L566.1 105.3L564.1 106.8L564.9 109.2L562.8 107.8L560.7 109.2L561.5 106.8L559.5 105.3L562.0 105.2Z" fill="#00e5e5" stroke="#00e5e5" stroke-width="0.5"/>
<path d="M565.8 105.1L566.6 107.5L569.1 107.5L567.1 109.0L567.9 111.4L565.8 110.0L563.7 111.4L564.5 109.0L562.5 107.5L565.0 107.5Z" fill="#00e5e5" stroke="#00e5e5" stroke-width="0.5"/>
<path d="M568.8 104.9L569.6 107.3L572.1 107.3L570.1 108.8L570.9 111.2L568.8 109.8L566.7 111.2L567.5 108.8L565.5 107.3L568.0 107.3Z" fill="#00e5e5" stroke="#00e5e5" stroke-width="0.5"/>
<path d="M571.8 107.1L572.6 109.5L575.1 109.6L573.1 111.1L573.9 113.5L571.8 112.0L569.7 113.5L570.5 111.1L568.5 109.6L571.0 109.5Z" fill="#00e5e5" stroke="#00e5e5" stroke-width="0.5"/>
<path d="M574.8 107.0L575.6 109.3L578.1 109.4L576.1 110.9L576.9 113.3L574.8 111.9L572.7 113.3L573.5 110.9L571.5 109.4L574.0 109.3Z" fill="#00e5e5" stroke="#00e5e5" stroke-width="0.5"/>
<path d="M577.8 109.2L578.6 111.6L581.1 111.6L579.1 113.1L579.9 115.5L577.8 114.1L575.7 115.5L576.5 113.1L574.5 111.6L577.0 111.6Z" fill="#00e5e5" stroke="#00e5e5" stroke-width="0.5"/>
<path d="M583.5 122.5L584.3 124.9L586.8 124.9L584.8 126.4L585.6 128.8L583.5 127.4L581.4 128.8L582.2 126.4L580.2 124.9L582.7 124.9Z" fill="#00e5e5" stroke="#00e5e5" stroke-width="0.5"/>
<path d="M587.7 136.4L588.5 138.8L591.0 138.8L589.0 140.3L589.8 142.7L587.7 141.3L585.6 142.7L586.4 140.3L584.4 138.8L586.9 138.8Z" fill="#00e5e5" stroke="#00e5e5" stroke-width="0.5"/>
<path d="M592.0 153.1L592.8 155.5L595.3 155.5L593.3 157.0L594.1 159.4L592.0 158.0L589.9 159.4L590.7 157.0L588.7 155.5L591.2 155.5Z" fill="#00e5e5" stroke="#00e5e5" stroke-width="0.5"/>
<path d="M595.9 172.9L596.7 175.3L599.2 175.3L597.2 176.8L598.0 179.2L595.9 177.8L593.8 179.2L594.6 176.8L592.6 175.3L595.1 175.3Z" fill="#00e5e5" stroke="#00e5e5" stroke-width="0.5"/>
<path d="M599.9 197.6L600.7 200.0L603.2 200.0L601.2 201.5L602.0 203.9L599.9 202.5L597.8 203.9L598.6 201.5L596.6 200.0L599.1 200.0Z" fill="#00e5e5" stroke="#00e5e5" stroke-width="0.5"/>
<path d="M399.9 19.0L404.4 25.3L411.1 31.1L415.6 36.1L419.6 34.7L423.2 38.3L427.3 41.9L431.2 43.8L434.9 45.1L439.1 48.0L443.2 50.1L447.3 53.0L451.4 55.1L455.5 58.0L459.6 60.1L463.7 62.9L467.8 64.8L471.9 67.5L476.0 69.5L480.1 72.2L484.2 74.2L488.3 76.9L492.4 78.9L496.5 81.6L500.6 83.5L504.7 86.3L508.8 88.2L512.9 91.0L517.0 92.9L521.1 95.6L525.2 97.1L529.3 99.5L533.4 101.1L537.5 103.5L540.0 103.5L541.8 106.1L543.6 104.7L545.4 107.3L547.2 105.8L549.0 108.4L550.8 107.0L552.6 109.6L554.4 108.2L556.2 110.8L558.0 109.3L559.8 111.9L561.6 110.7L563.4 113.5L565.2 112.3L567.0 115.1L568.8 113.9L570.6 116.7L572.4 115.5L574.2 118.3L576.0 117.1L577.8 119.8L579.6 118.3L581.4 120.9L583.2 119.4L585.0 121.9L586.8 120.4L588.6 122.9L590.4 121.5L592.2 124.6L594.0 123.7L595.8 126.8L597.6 126.2L599.4 130.3L603.8 142.7L607.8 153.6L612.1 168.4L616.1 184.3L620.1 205.4L624.0 226.8" fill="none" stroke="#f04040" stroke-width="0.9"/>
<circle cx="399.9" cy="19.0" r="4.00" fill="#ff0000"/>
<circle cx="404.4" cy="25.3" r="4.00" fill="#ff0000"/>
<circle cx="411.1" cy="31.1" r="4.00" fill="#ff0000"/>
<circle cx="415.6" cy="36.1" r="4.00" fill="#ff0000"/>
<circle cx="419.6" cy="34.7" r="4.00" fill="#ff0000"/>
<circle cx="423.2" cy="38.3" r="4.00" fill="#ff0000"/>
<circle cx="427.3" cy="41.9" r="4.00" fill="#ff0000"/>
<circle cx="431.2" cy="43.8" r="4.00" fill="#ff0000"/>
<circle cx="434.9" cy="45.1" r="4.00" fill="#ff0000"/>
<circle cx="439.1" cy="48.0" r="4.00" fill="#ff0000"/>
<circle cx="443.2" cy="50.1" r="4.00" fill="#ff0000"/>
<circle cx="447.3" cy="53.0" r="4.00" fill="#ff0000"/>
<circle cx="451.4" cy="55.1" r="4.00" fill="#ff0000"/>
<circle cx="455.5" cy="58.0" r="4.00" fill="#ff0000"/>
<circle cx="459.6" cy="60.1" r="4.00" fill="#ff0000"/>
<circle cx="463.7" cy="62.9" r="4.00" fill="#ff0000"/>
<circle cx="467.8" cy="64.8" r="4.00" fill="#ff0000"/>
<circle cx="471.9" cy="67.5" r="4.00" fill="#ff0000"/>
<circle cx="476.0" cy="69.5" r="4.00" fill="#ff0000"/>
<circle cx="480.1" cy="72.2" r="4.00" fill="#ff0000"/>
<circle cx="484.2" cy="74.2" r="4.00" fill="#ff0000"/>
<circle cx="488.3" cy="76.9" r="4.00" fill="#ff0000"/>
<circle cx="492.4" cy="78.9" r="4.00" fill="#ff0000"/>
<circle cx="496.5" cy="81.6" r="4.00" fill="#ff0000"/>
<circle cx="500.6" cy="83.5" r="4.00" fill="#ff0000"/>
<circle cx="504.7" cy="86.3" r="4.00" fill="#ff0000"/>
<circle cx="508.8" cy="88.2" r="4.00" fill="#ff0000"/>
<circle cx="512.9" cy="91.0" r="4.00" fill="#ff0000"/>
<circle cx="517.0" cy="92.9" r="4.00" fill="#ff0000"/>
<circle cx="521.1" cy="95.6" r="4.00" fill="#ff0000"/>
<circle cx="525.2" cy="97.1" r="4.00" fill="#ff0000"/>
<circle cx="529.3" cy="99.5" r="4.00" fill="#ff0000"/>
<circle cx="533.4" cy="101.1" r="4.00" fill="#ff0000"/>
<circle cx="537.5" cy="103.5" r="4.00" fill="#ff0000"/>
<circle cx="540.0" cy="103.5" r="4.00" fill="#ff0000"/>
<circle cx="541.8" cy="106.1" r="4.00" fill="#ff0000"/>
<circle cx="543.6" cy="104.7" r="4.00" fill="#ff0000"/>
<circle cx="545.4" cy="107.3" r="4.00" fill="#ff0000"/>
<circle cx="547.2" cy="105.8" r="4.00" fill="#ff0000"/>
<circle cx="549.0" cy="108.4" r="4.00" fill="#ff0000"/>
<circle cx="550.8" cy="107.0" r="4.00" fill="#ff0000"/>
<circle cx="552.6" cy="109.6" r="4.00" fill="#ff0000"/>
<circle cx="554.4" cy="108.2" r="4.00" fill="#ff0000"/>
<circle cx="556.2" cy="110.8" r="4.00" fill="#ff0000"/>
<circle cx="558.0" cy="109.3" r="4.00" fill="#ff0000"/>
<circle cx="559.8" cy="111.9" r="4.00" fill="#ff0000"/>
<circle cx="561.6" cy="110.7" r="4.00" fill="#ff0000"/>
<circle cx="563.4" cy="113.5" r="4.00" fill="#ff0000"/>
<circle cx="565.2" cy="112.3" r="4.00" fill="#ff0000"/>
<circle cx="567.0" cy="115.1" r="4.00" fill="#ff0000"/>
<circle cx="568.8" cy="113.9" r="4.00" fill="#ff0000"/>
<circle cx="570.6" cy="116.7" r="4.00" fill="#ff0000"/>
<circle cx="572.4" cy="115.5" r="4.00" fill="#ff0000"/>
<circle cx="574.2" cy="118.3" r="4.00" fill="#ff0000"/>
<circle cx="576.0" cy="117.1" r="4.00" fill="#ff0000"/>
<circle cx="577.8" cy="119.8" r="4.00" fill="#ff0000"/>
<circle cx="579.6" cy="118.3" r="4.00" fill="#ff0000"/>
<circle cx="581.4" cy="120.9" r="4.00" fill="#ff0000"/>
<circle cx="583.2" cy="119.4" r="4.00" fill="#ff0000"/>
<circle cx="585.0" cy="121.9" r="4.00" fill="#ff0000"/>
<circle cx="586.8" cy="120.4" r="4.00" fill="#ff0000"/>
<circle cx="588.6" cy="122.9" r="4.00" fill="#ff0000"/>
<circle cx="590.4" cy="121.5" r="4.00" fill="#ff0000"/>
<circle cx="592.2" cy="124.6" r="4.00" fill="#ff0000"/>
<circle cx="594.0" cy="123.7" r="4.00" fill="#ff0000"/>
<circle cx="595.8" cy="126.8" r="4.00" fill="#ff0000"/>
<circle cx="597.6" cy="126.2" r="4.00" fill="#ff0000"/>
<circle cx="599.4" cy="130.3" r="4.00" fill="#ff0000"/>
<circle cx="603.8" cy="142.7" r="4.00" fill="#ff0000"/>
<circle cx="607.8" cy="153.6" r="4.00" fill="#ff0000"/>
<circle cx="612.1" cy="168.4" r="4.00" fill="#ff0000"/>
<circle cx="616.1" cy="184.3" r="4.00" fill="#ff0000"/>
<circle cx="620.1" cy="205.4" r="4.00" fill="#ff0000"/>
<circle cx="624.0" cy="226.8" r="4.00" fill="#ff0000"/>
<path d="M399.6 16.8L404.1 23.1L410.8 28.9L415.3 33.9L419.3 32.5L422.9 36.1L427.0 39.7L430.9 41.6L434.9 43.8L439.1 47.4L443.2 49.8L447.3 53.4L451.4 55.2L455.5 58.1L459.6 59.8L463.7 62.8L467.8 64.7L471.9 67.9L476.0 69.8L480.1 72.8L484.2 74.5L488.3 77.3L492.4 79.0L496.5 81.9L500.6 83.6L504.7 86.4L508.8 88.1L512.9 91.0L517.0 92.7L521.1 95.5L525.2 97.2L529.3 100.1L533.4 101.8L537.5 104.6L541.6 106.3L545.7 109.2L549.8 110.9L553.9 113.8L558.0 115.5L562.1 118.4L566.2 120.1L570.3 123.0L574.4 124.7L578.5 127.6L582.6 129.3L586.7 132.2L590.8 133.9L594.9 136.3L599.0 137.5L603.1 139.8L607.2 140.8L613.7 142.9L619.7 145.7L624.6 149.4L628.0 152.2L631.5 156.6L635.9 162.5L639.4 168.4L643.4 177.3L647.3 188.5L651.3 199.6L655.3 221.2" fill="none" stroke="#3a7a4a" stroke-width="0.9"/>
<circle cx="399.6" cy="16.8" r="3.90" fill="#fff" stroke="#3f8049" stroke-width="0.9"/>
<circle cx="404.1" cy="23.1" r="3.90" fill="#fff" stroke="#3f8049" stroke-width="0.9"/>
<circle cx="410.8" cy="28.9" r="3.90" fill="#fff" stroke="#3f8049" stroke-width="0.9"/>
<circle cx="415.3" cy="33.9" r="3.90" fill="#fff" stroke="#3f8049" stroke-width="0.9"/>
<circle cx="419.3" cy="32.5" r="3.90" fill="#fff" stroke="#3f8049" stroke-width="0.9"/>
<circle cx="422.9" cy="36.1" r="3.90" fill="#fff" stroke="#3f8049" stroke-width="0.9"/>
<circle cx="427.0" cy="39.7" r="3.90" fill="#fff" stroke="#3f8049" stroke-width="0.9"/>
<circle cx="430.9" cy="41.6" r="3.90" fill="#fff" stroke="#3f8049" stroke-width="0.9"/>
<circle cx="434.9" cy="43.8" r="3.90" fill="#fff" stroke="#3f8049" stroke-width="0.9"/>
<circle cx="439.1" cy="47.4" r="3.90" fill="#fff" stroke="#3f8049" stroke-width="0.9"/>
<circle cx="443.2" cy="49.8" r="3.90" fill="#fff" stroke="#3f8049" stroke-width="0.9"/>
<circle cx="447.3" cy="53.4" r="3.90" fill="#fff" stroke="#3f8049" stroke-width="0.9"/>
<circle cx="451.4" cy="55.2" r="3.90" fill="#fff" stroke="#3f8049" stroke-width="0.9"/>
<circle cx="455.5" cy="58.1" r="3.90" fill="#fff" stroke="#3f8049" stroke-width="0.9"/>
<circle cx="459.6" cy="59.8" r="3.90" fill="#fff" stroke="#3f8049" stroke-width="0.9"/>
<circle cx="463.7" cy="62.8" r="3.90" fill="#fff" stroke="#3f8049" stroke-width="0.9"/>
<circle cx="467.8" cy="64.7" r="3.90" fill="#fff" stroke="#3f8049" stroke-width="0.9"/>
<circle cx="471.9" cy="67.9" r="3.90" fill="#fff" stroke="#3f8049" stroke-width="0.9"/>
<circle cx="476.0" cy="69.8" r="3.90" fill="#fff" stroke="#3f8049" stroke-width="0.9"/>
<circle cx="480.1" cy="72.8" r="3.90" fill="#fff" stroke="#3f8049" stroke-width="0.9"/>
<circle cx="484.2" cy="74.5" r="3.90" fill="#fff" stroke="#3f8049" stroke-width="0.9"/>
<circle cx="488.3" cy="77.3" r="3.90" fill="#fff" stroke="#3f8049" stroke-width="0.9"/>
<circle cx="492.4" cy="79.0" r="3.90" fill="#fff" stroke="#3f8049" stroke-width="0.9"/>
<circle cx="496.5" cy="81.9" r="3.90" fill="#fff" stroke="#3f8049" stroke-width="0.9"/>
<circle cx="500.6" cy="83.6" r="3.90" fill="#fff" stroke="#3f8049" stroke-width="0.9"/>
<circle cx="504.7" cy="86.4" r="3.90" fill="#fff" stroke="#3f8049" stroke-width="0.9"/>
<circle cx="508.8" cy="88.1" r="3.90" fill="#fff" stroke="#3f8049" stroke-width="0.9"/>
<circle cx="512.9" cy="91.0" r="3.90" fill="#fff" stroke="#3f8049" stroke-width="0.9"/>
<circle cx="517.0" cy="92.7" r="3.90" fill="#fff" stroke="#3f8049" stroke-width="0.9"/>
<circle cx="521.1" cy="95.5" r="3.90" fill="#fff" stroke="#3f8049" stroke-width="0.9"/>
<circle cx="525.2" cy="97.2" r="3.90" fill="#fff" stroke="#3f8049" stroke-width="0.9"/>
<circle cx="529.3" cy="100.1" r="3.90" fill="#fff" stroke="#3f8049" stroke-width="0.9"/>
<circle cx="533.4" cy="101.8" r="3.90" fill="#fff" stroke="#3f8049" stroke-width="0.9"/>
<circle cx="537.5" cy="104.6" r="3.90" fill="#fff" stroke="#3f8049" stroke-width="0.9"/>
<circle cx="541.6" cy="106.3" r="3.90" fill="#fff" stroke="#3f8049" stroke-width="0.9"/>
<circle cx="545.7" cy="109.2" r="3.90" fill="#fff" stroke="#3f8049" stroke-width="0.9"/>
<circle cx="549.8" cy="110.9" r="3.90" fill="#fff" stroke="#3f8049" stroke-width="0.9"/>
<circle cx="553.9" cy="113.8" r="3.90" fill="#fff" stroke="#3f8049" stroke-width="0.9"/>
<circle cx="558.0" cy="115.5" r="3.90" fill="#fff" stroke="#3f8049" stroke-width="0.9"/>
<circle cx="562.1" cy="118.4" r="3.90" fill="#fff" stroke="#3f8049" stroke-width="0.9"/>
<circle cx="566.2" cy="120.1" r="3.90" fill="#fff" stroke="#3f8049" stroke-width="0.9"/>
<circle cx="570.3" cy="123.0" r="3.90" fill="#fff" stroke="#3f8049" stroke-width="0.9"/>
<circle cx="574.4" cy="124.7" r="3.90" fill="#fff" stroke="#3f8049" stroke-width="0.9"/>
<circle cx="578.5" cy="127.6" r="3.90" fill="#fff" stroke="#3f8049" stroke-width="0.9"/>
<circle cx="582.6" cy="129.3" r="3.90" fill="#fff" stroke="#3f8049" stroke-width="0.9"/>
<circle cx="586.7" cy="132.2" r="3.90" fill="#fff" stroke="#3f8049" stroke-width="0.9"/>
<circle cx="590.8" cy="133.9" r="3.90" fill="#fff" stroke="#3f8049" stroke-width="0.9"/>
<circle cx="594.9" cy="136.3" r="3.90" fill="#fff" stroke="#3f8049" stroke-width="0.9"/>
<circle cx="599.0" cy="137.5" r="3.90" fill="#fff" stroke="#3f8049" stroke-width="0.9"/>
<circle cx="603.1" cy="139.8" r="3.90" fill="#fff" stroke="#3f8049" stroke-width="0.9"/>
<circle cx="607.2" cy="140.8" r="3.90" fill="#fff" stroke="#3f8049" stroke-width="0.9"/>
<circle cx="613.7" cy="142.9" r="3.90" fill="#fff" stroke="#3f8049" stroke-width="0.9"/>
<circle cx="619.7" cy="145.7" r="3.90" fill="#fff" stroke="#3f8049" stroke-width="0.9"/>
<circle cx="624.6" cy="149.4" r="3.90" fill="#fff" stroke="#3f8049" stroke-width="0.9"/>
<circle cx="628.0" cy="152.2" r="3.90" fill="#fff" stroke="#3f8049" stroke-width="0.9"/>
<circle cx="631.5" cy="156.6" r="3.90" fill="#fff" stroke="#3f8049" stroke-width="0.9"/>
<circle cx="635.9" cy="162.5" r="3.90" fill="#fff" stroke="#3f8049" stroke-width="0.9"/>
<circle cx="639.4" cy="168.4" r="3.90" fill="#fff" stroke="#3f8049" stroke-width="0.9"/>
<circle cx="643.4" cy="177.3" r="3.90" fill="#fff" stroke="#3f8049" stroke-width="0.9"/>
<circle cx="647.3" cy="188.5" r="3.90" fill="#fff" stroke="#3f8049" stroke-width="0.9"/>
<circle cx="651.3" cy="199.6" r="3.90" fill="#fff" stroke="#3f8049" stroke-width="0.9"/>
<circle cx="655.3" cy="221.2" r="3.90" fill="#fff" stroke="#3f8049" stroke-width="0.9"/>
</g>
<path d="M72.8 279.4L309.6 409.8" stroke="#000" stroke-width="1.9"/>
<path d="M400.4 306.6L611.5 426.6" stroke="#000" stroke-width="1.9"/>
<g id="pb">
<path d="M72.0 289.2L75.8 295.0L83.4 301.7L87.1 307.5L90.9 303.5L94.3 308.4L97.9 312.8L102.2 312.4L106.0 313.8L109.9 316.1L113.9 318.4L117.8 320.8L121.7 323.1L125.7 325.5L129.6 327.8L133.6 330.1L137.5 332.4L141.5 334.4L145.4 336.3L149.4 338.3L153.3 340.3L157.2 342.3L161.2 344.2L165.1 346.2L169.1 348.2L173.0 350.2L177.0 352.2L180.9 354.1L184.9 356.1L188.8 358.1L192.8 360.0L196.7 362.1L200.6 364.4L204.6 366.7L208.5 368.9L212.5 371.2L216.4 373.5L220.4 375.5L224.3 377.4L228.3 379.3L232.2 381.3L236.1 383.2L240.1 385.2L244.0 387.1L248.0 389.1L251.9 391.3L255.9 393.6L259.8 395.8L263.8 400.0L267.7 402.3L271.7 404.5L275.6 406.8L279.5 409.3L283.5 411.9L287.4 414.8L291.4 417.9L295.3 420.9L299.6 424.5L304.4 428.6L309.8 434.1L313.7 439.1L317.4 459.5" fill="none" stroke="#f06060" stroke-width="0.9"/>
<circle cx="72.0" cy="289.2" r="3.60" fill="#fff" stroke="#f23c3c" stroke-width="0.9"/>
<circle cx="75.8" cy="295.0" r="3.60" fill="#fff" stroke="#f23c3c" stroke-width="0.9"/>
<circle cx="83.4" cy="301.7" r="3.60" fill="#fff" stroke="#f23c3c" stroke-width="0.9"/>
<circle cx="87.1" cy="307.5" r="3.60" fill="#fff" stroke="#f23c3c" stroke-width="0.9"/>
<circle cx="90.9" cy="303.5" r="3.60" fill="#fff" stroke="#f23c3c" stroke-width="0.9"/>
<circle cx="94.3" cy="308.4" r="3.60" fill="#fff" stroke="#f23c3c" stroke-width="0.9"/>
<circle cx="97.9" cy="312.8" r="3.60" fill="#fff" stroke="#f23c3c" stroke-width="0.9"/>
<circle cx="102.2" cy="312.4" r="3.60" fill="#fff" stroke="#f23c3c" stroke-width="0.9"/>
<circle cx="106.0" cy="313.8" r="3.60" fill="#fff" stroke="#f23c3c" stroke-width="0.9"/>
<circle cx="109.9" cy="316.1" r="3.60" fill="#fff" stroke="#f23c3c" stroke-width="0.9"/>
<circle cx="113.9" cy="318.4" r="3.60" fill="#fff" stroke="#f23c3c" stroke-width="0.9"/>
<circle cx="117.8" cy="320.8" r="3.60" fill="#fff" stroke="#f23c3c" stroke-width="0.9"/>
<circle cx="121.7" cy="323.1" r="3.60" fill="#fff" stroke="#f23c3c" stroke-width="0.9"/>
<circle cx="125.7" cy="325.5" r="3.60" fill="#fff" stroke="#f23c3c" stroke-width="0.9"/>
<circle cx="129.6" cy="327.8" r="3.60" fill="#fff" stroke="#f23c3c" stroke-width="0.9"/>
<circle cx="133.6" cy="330.1" r="3.60" fill="#fff" stroke="#f23c3c" stroke-width="0.9"/>
<circle cx="137.5" cy="332.4" r="3.60" fill="#fff" stroke="#f23c3c" stroke-width="0.9"/>
<circle cx="141.5" cy="334.4" r="3.60" fill="#fff" stroke="#f23c3c" stroke-width="0.9"/>
<circle cx="145.4" cy="336.3" r="3.60" fill="#fff" stroke="#f23c3c" stroke-width="0.9"/>
<circle cx="149.4" cy="338.3" r="3.60" fill="#fff" stroke="#f23c3c" stroke-width="0.9"/>
<circle cx="153.3" cy="340.3" r="3.60" fill="#fff" stroke="#f23c3c" stroke-width="0.9"/>
<circle cx="157.2" cy="342.3" r="3.60" fill="#fff" stroke="#f23c3c" stroke-width="0.9"/>
<circle cx="161.2" cy="344.2" r="3.60" fill="#fff" stroke="#f23c3c" stroke-width="0.9"/>
<circle cx="165.1" cy="346.2" r="3.60" fill="#fff" stroke="#f23c3c" stroke-width="0.9"/>
<circle cx="169.1" cy="348.2" r="3.60" fill="#fff" stroke="#f23c3c" stroke-width="0.9"/>
<circle cx="173.0" cy="350.2" r="3.60" fill="#fff" stroke="#f23c3c" stroke-width="0.9"/>
<circle cx="177.0" cy="352.2" r="3.60" fill="#fff" stroke="#f23c3c" stroke-width="0.9"/>
<circle cx="180.9" cy="354.1" r="3.60" fill="#fff" stroke="#f23c3c" stroke-width="0.9"/>
<circle cx="184.9" cy="356.1" r="3.60" fill="#fff" stroke="#f23c3c" stroke-width="0.9"/>
<circle cx="188.8" cy="358.1" r="3.60" fill="#fff" stroke="#f23c3c" stroke-width="0.9"/>
<circle cx="192.8" cy="360.0" r="3.60" fill="#fff" stroke="#f23c3c" stroke-width="0.9"/>
<circle cx="196.7" cy="362.1" r="3.60" fill="#fff" stroke="#f23c3c" stroke-width="0.9"/>
<circle cx="200.6" cy="364.4" r="3.60" fill="#fff" stroke="#f23c3c" stroke-width="0.9"/>
<circle cx="204.6" cy="366.7" r="3.60" fill="#fff" stroke="#f23c3c" stroke-width="0.9"/>
<circle cx="208.5" cy="368.9" r="3.60" fill="#fff" stroke="#f23c3c" stroke-width="0.9"/>
<circle cx="212.5" cy="371.2" r="3.60" fill="#fff" stroke="#f23c3c" stroke-width="0.9"/>
<circle cx="216.4" cy="373.5" r="3.60" fill="#fff" stroke="#f23c3c" stroke-width="0.9"/>
<circle cx="220.4" cy="375.5" r="3.60" fill="#fff" stroke="#f23c3c" stroke-width="0.9"/>
<circle cx="224.3" cy="377.4" r="3.60" fill="#fff" stroke="#f23c3c" stroke-width="0.9"/>
<circle cx="228.3" cy="379.3" r="3.60" fill="#fff" stroke="#f23c3c" stroke-width="0.9"/>
<circle cx="232.2" cy="381.3" r="3.60" fill="#fff" stroke="#f23c3c" stroke-width="0.9"/>
<circle cx="236.1" cy="383.2" r="3.60" fill="#fff" stroke="#f23c3c" stroke-width="0.9"/>
<circle cx="240.1" cy="385.2" r="3.60" fill="#fff" stroke="#f23c3c" stroke-width="0.9"/>
<circle cx="244.0" cy="387.1" r="3.60" fill="#fff" stroke="#f23c3c" stroke-width="0.9"/>
<circle cx="248.0" cy="389.1" r="3.60" fill="#fff" stroke="#f23c3c" stroke-width="0.9"/>
<circle cx="251.9" cy="391.3" r="3.60" fill="#fff" stroke="#f23c3c" stroke-width="0.9"/>
<circle cx="255.9" cy="393.6" r="3.60" fill="#fff" stroke="#f23c3c" stroke-width="0.9"/>
<circle cx="259.8" cy="395.8" r="3.60" fill="#fff" stroke="#f23c3c" stroke-width="0.9"/>
<circle cx="263.8" cy="400.0" r="3.60" fill="#fff" stroke="#f23c3c" stroke-width="0.9"/>
<circle cx="267.7" cy="402.3" r="3.60" fill="#fff" stroke="#f23c3c" stroke-width="0.9"/>
<circle cx="271.7" cy="404.5" r="3.60" fill="#fff" stroke="#f23c3c" stroke-width="0.9"/>
<circle cx="275.6" cy="406.8" r="3.60" fill="#fff" stroke="#f23c3c" stroke-width="0.9"/>
<circle cx="279.5" cy="409.3" r="3.60" fill="#fff" stroke="#f23c3c" stroke-width="0.9"/>
<circle cx="283.5" cy="411.9" r="3.60" fill="#fff" stroke="#f23c3c" stroke-width="0.9"/>
<circle cx="287.4" cy="414.8" r="3.60" fill="#fff" stroke="#f23c3c" stroke-width="0.9"/>
<circle cx="291.4" cy="417.9" r="3.60" fill="#fff" stroke="#f23c3c" stroke-width="0.9"/>
<circle cx="295.3" cy="420.9" r="3.60" fill="#fff" stroke="#f23c3c" stroke-width="0.9"/>
<circle cx="299.6" cy="424.5" r="3.60" fill="#fff" stroke="#f23c3c" stroke-width="0.9"/>
<circle cx="304.4" cy="428.6" r="3.60" fill="#fff" stroke="#f23c3c" stroke-width="0.9"/>
<circle cx="309.8" cy="434.1" r="3.60" fill="#fff" stroke="#f23c3c" stroke-width="0.9"/>
<circle cx="313.7" cy="439.1" r="3.60" fill="#fff" stroke="#f23c3c" stroke-width="0.9"/>
<circle cx="317.4" cy="459.5" r="3.60" fill="#fff" stroke="#f23c3c" stroke-width="0.9"/>
<path d="M78.7 292.8L82.5 298.5L90.2 305.3L93.8 311.0L97.6 307.0L101.0 311.9L104.6 316.3L108.9 315.9L112.7 317.3L116.6 319.6L120.6 322.0L124.5 324.3L128.4 326.7L132.4 329.0L136.3 331.4L140.3 333.7L144.2 336.0L148.2 338.0L152.1 340.1L156.1 342.1L160.0 344.1L164.0 346.1L167.9 348.2L171.8 350.2L175.8 352.2L179.7 354.2L183.7 356.2L187.6 358.2L191.6 360.1L195.5 362.1L199.5 364.1L203.4 366.2L207.3 368.4L211.3 370.7L215.2 373.0L219.2 375.2L223.1 377.5L227.1 379.5L231.0 381.4L235.0 383.4L238.9 385.3L242.9 387.3L246.8 389.2L250.7 391.1L254.7 393.1L258.6 395.4L262.6 399.3L266.5 401.6L270.5 403.8L274.4 406.1L278.4 408.5L282.3 411.1L286.2 413.9L290.2 417.0L294.1 420.0L298.1 423.2L302.9 427.3L307.3 431.3L312.4 437.4L316.5 447.4L320.4 498.4" fill="none" stroke="#50a050" stroke-width="0.9"/>
<rect x="74.7" y="288.8" width="8.0" height="8.0" fill="#fff" stroke="#42a442" stroke-width="0.9"/>
<rect x="78.5" y="294.5" width="8.0" height="8.0" fill="#fff" stroke="#42a442" stroke-width="0.9"/>
<rect x="86.2" y="301.3" width="8.0" height="8.0" fill="#fff" stroke="#42a442" stroke-width="0.9"/>
<rect x="89.8" y="307.0" width="8.0" height="8.0" fill="#fff" stroke="#42a442" stroke-width="0.9"/>
<rect x="93.6" y="303.0" width="8.0" height="8.0" fill="#fff" stroke="#42a442" stroke-width="0.9"/>
<rect x="97.0" y="307.9" width="8.0" height="8.0" fill="#fff" stroke="#42a442" stroke-width="0.9"/>
<rect x="100.6" y="312.3" width="8.0" height="8.0" fill="#fff" stroke="#42a442" stroke-width="0.9"/>
<rect x="104.9" y="311.9" width="8.0" height="8.0" fill="#fff" stroke="#42a442" stroke-width="0.9"/>
<rect x="108.7" y="313.3" width="8.0" height="8.0" fill="#fff" stroke="#42a442" stroke-width="0.9"/>
<rect x="112.6" y="315.6" width="8.0" height="8.0" fill="#fff" stroke="#42a442" stroke-width="0.9"/>
<rect x="116.6" y="318.0" width="8.0" height="8.0" fill="#fff" stroke="#42a442" stroke-width="0.9"/>
<rect x="120.5" y="320.3" width="8.0" height="8.0" fill="#fff" stroke="#42a442" stroke-width="0.9"/>
<rect x="124.4" y="322.7" width="8.0" height="8.0" fill="#fff" stroke="#42a442" stroke-width="0.9"/>
<rect x="128.4" y="325.0" width="8.0" height="8.0" fill="#fff" stroke="#42a442" stroke-width="0.9"/>
<rect x="132.3" y="327.4" width="8.0" height="8.0" fill="#fff" stroke="#42a442" stroke-width="0.9"/>
<rect x="136.3" y="329.7" width="8.0" height="8.0" fill="#fff" stroke="#42a442" stroke-width="0.9"/>
<rect x="140.2" y="332.0" width="8.0" height="8.0" fill="#fff" stroke="#42a442" stroke-width="0.9"/>
<rect x="144.2" y="334.0" width="8.0" height="8.0" fill="#fff" stroke="#42a442" stroke-width="0.9"/>
<rect x="148.1" y="336.1" width="8.0" height="8.0" fill="#fff" stroke="#42a442" stroke-width="0.9"/>
<rect x="152.1" y="338.1" width="8.0" height="8.0" fill="#fff" stroke="#42a442" stroke-width="0.9"/>
<rect x="156.0" y="340.1" width="8.0" height="8.0" fill="#fff" stroke="#42a442" stroke-width="0.9"/>
<rect x="160.0" y="342.1" width="8.0" height="8.0" fill="#fff" stroke="#42a442" stroke-width="0.9"/>
<rect x="163.9" y="344.2" width="8.0" height="8.0" fill="#fff" stroke="#42a442" stroke-width="0.9"/>
<rect x="167.8" y="346.2" width="8.0" height="8.0" fill="#fff" stroke="#42a442" stroke-width="0.9"/>
<rect x="171.8" y="348.2" width="8.0" height="8.0" fill="#fff" stroke="#42a442" stroke-width="0.9"/>
<rect x="175.7" y="350.2" width="8.0" height="8.0" fill="#fff" stroke="#42a442" stroke-width="0.9"/>
<rect x="179.7" y="352.2" width="8.0" height="8.0" fill="#fff" stroke="#42a442" stroke-width="0.9"/>
<rect x="183.6" y="354.2" width="8.0" height="8.0" fill="#fff" stroke="#42a442" stroke-width="0.9"/>
<rect x="187.6" y="356.1" width="8.0" height="8.0" fill="#fff" stroke="#42a442" stroke-width="0.9"/>
<rect x="191.5" y="358.1" width="8.0" height="8.0" fill="#fff" stroke="#42a442" stroke-width="0.9"/>
<rect x="195.5" y="360.1" width="8.0" height="8.0" fill="#fff" stroke="#42a442" stroke-width="0.9"/>
<rect x="199.4" y="362.2" width="8.0" height="8.0" fill="#fff" stroke="#42a442" stroke-width="0.9"/>
<rect x="203.3" y="364.4" width="8.0" height="8.0" fill="#fff" stroke="#42a442" stroke-width="0.9"/>
<rect x="207.3" y="366.7" width="8.0" height="8.0" fill="#fff" stroke="#42a442" stroke-width="0.9"/>
<rect x="211.2" y="369.0" width="8.0" height="8.0" fill="#fff" stroke="#42a442" stroke-width="0.9"/>
<rect x="215.2" y="371.2" width="8.0" height="8.0" fill="#fff" stroke="#42a442" stroke-width="0.9"/>
<rect x="219.1" y="373.5" width="8.0" height="8.0" fill="#fff" stroke="#42a442" stroke-width="0.9"/>
<rect x="223.1" y="375.5" width="8.0" height="8.0" fill="#fff" stroke="#42a442" stroke-width="0.9"/>
<rect x="227.0" y="377.4" width="8.0" height="8.0" fill="#fff" stroke="#42a442" stroke-width="0.9"/>
<rect x="231.0" y="379.4" width="8.0" height="8.0" fill="#fff" stroke="#42a442" stroke-width="0.9"/>
<rect x="234.9" y="381.3" width="8.0" height="8.0" fill="#fff" stroke="#42a442" stroke-width="0.9"/>
<rect x="238.9" y="383.3" width="8.0" height="8.0" fill="#fff" stroke="#42a442" stroke-width="0.9"/>
<rect x="242.8" y="385.2" width="8.0" height="8.0" fill="#fff" stroke="#42a442" stroke-width="0.9"/>
<rect x="246.7" y="387.1" width="8.0" height="8.0" fill="#fff" stroke="#42a442" stroke-width="0.9"/>
<rect x="250.7" y="389.1" width="8.0" height="8.0" fill="#fff" stroke="#42a442" stroke-width="0.9"/>
<rect x="254.6" y="391.4" width="8.0" height="8.0" fill="#fff" stroke="#42a442" stroke-width="0.9"/>
<rect x="258.6" y="395.3" width="8.0" height="8.0" fill="#fff" stroke="#42a442" stroke-width="0.9"/>
<rect x="262.5" y="397.6" width="8.0" height="8.0" fill="#fff" stroke="#42a442" stroke-width="0.9"/>
<rect x="266.5" y="399.8" width="8.0" height="8.0" fill="#fff" stroke="#42a442" stroke-width="0.9"/>
<rect x="270.4" y="402.1" width="8.0" height="8.0" fill="#fff" stroke="#42a442" stroke-width="0.9"/>
<rect x="274.4" y="404.5" width="8.0" height="8.0" fill="#fff" stroke="#42a442" stroke-width="0.9"/>
<rect x="278.3" y="407.1" width="8.0" height="8.0" fill="#fff" stroke="#42a442" stroke-width="0.9"/>
<rect x="282.2" y="409.9" width="8.0" height="8.0" fill="#fff" stroke="#42a442" stroke-width="0.9"/>
<rect x="286.2" y="413.0" width="8.0" height="8.0" fill="#fff" stroke="#42a442" stroke-width="0.9"/>
<rect x="290.1" y="416.0" width="8.0" height="8.0" fill="#fff" stroke="#42a442" stroke-width="0.9"/>
<rect x="294.1" y="419.2" width="8.0" height="8.0" fill="#fff" stroke="#42a442" stroke-width="0.9"/>
<rect x="298.9" y="423.3" width="8.0" height="8.0" fill="#fff" stroke="#42a442" stroke-width="0.9"/>
<rect x="303.3" y="427.3" width="8.0" height="8.0" fill="#fff" stroke="#42a442" stroke-width="0.9"/>
<rect x="308.4" y="433.4" width="8.0" height="8.0" fill="#fff" stroke="#42a442" stroke-width="0.9"/>
<rect x="312.5" y="443.4" width="8.0" height="8.0" fill="#fff" stroke="#42a442" stroke-width="0.9"/>
<rect x="316.4" y="494.4" width="8.0" height="8.0" fill="#fff" stroke="#42a442" stroke-width="0.9"/>
<path d="M86.9 298.9L90.7 304.7L98.4 311.5L102.0 317.2L105.8 313.2L109.2 318.1L112.8 322.5L117.1 322.1L120.9 323.1L124.8 325.4L128.8 327.8L132.7 330.1L136.7 332.5L140.6 334.8L144.5 337.1L148.5 339.4L152.4 341.7L156.4 343.7L160.3 345.6L164.3 347.6L168.2 349.6L172.2 351.5L176.1 353.5L180.1 355.5L184.0 357.5L187.9 359.4L191.9 361.4L195.8 363.4L199.8 365.3L203.7 367.3L207.7 369.3L211.6 371.4L215.6 373.7L219.5 375.9L223.4 378.2L227.4 380.5L231.3 382.7L235.3 384.7L239.2 386.6L243.2 388.6L247.1 390.5L251.1 392.5L255.0 394.4L259.0 396.3L262.9 399.5L266.8 401.8L270.8 404.0L274.7 406.3L278.7 408.7L282.6 411.3L287.5 414.9L292.7 418.9L297.5 422.8L301.8 426.3L306.1 430.2L309.5 433.7L313.4 440.6L317.0 455.3" fill="none" stroke="#5050ff" stroke-width="0.9"/>
<path d="M86.9 294.5L91.3 298.9L86.9 303.3L82.5 298.9Z" fill="#fff" stroke="#3030f8" stroke-width="0.9"/>
<path d="M90.7 300.3L95.1 304.7L90.7 309.1L86.3 304.7Z" fill="#fff" stroke="#3030f8" stroke-width="0.9"/>
<path d="M98.4 307.1L102.8 311.5L98.4 315.9L94.0 311.5Z" fill="#fff" stroke="#3030f8" stroke-width="0.9"/>
<path d="M102.0 312.8L106.4 317.2L102.0 321.6L97.6 317.2Z" fill="#fff" stroke="#3030f8" stroke-width="0.9"/>
<path d="M105.8 308.8L110.2 313.2L105.8 317.6L101.4 313.2Z" fill="#fff" stroke="#3030f8" stroke-width="0.9"/>
<path d="M109.2 313.7L113.6 318.1L109.2 322.5L104.8 318.1Z" fill="#fff" stroke="#3030f8" stroke-width="0.9"/>
<path d="M112.8 318.1L117.2 322.5L112.8 326.9L108.4 322.5Z" fill="#fff" stroke="#3030f8" stroke-width="0.9"/>
<path d="M117.1 317.7L121.5 322.1L117.1 326.5L112.7 322.1Z" fill="#fff" stroke="#3030f8" stroke-width="0.9"/>
<path d="M120.9 318.7L125.3 323.1L120.9 327.5L116.5 323.1Z" fill="#fff" stroke="#3030f8" stroke-width="0.9"/>
<path d="M124.8 321.0L129.2 325.4L124.8 329.8L120.4 325.4Z" fill="#fff" stroke="#3030f8" stroke-width="0.9"/>
<path d="M128.8 323.4L133.2 327.8L128.8 332.2L124.4 327.8Z" fill="#fff" stroke="#3030f8" stroke-width="0.9"/>
<path d="M132.7 325.7L137.1 330.1L132.7 334.5L128.3 330.1Z" fill="#fff" stroke="#3030f8" stroke-width="0.9"/>
<path d="M136.7 328.1L141.1 332.5L136.7 336.9L132.3 332.5Z" fill="#fff" stroke="#3030f8" stroke-width="0.9"/>
<path d="M140.6 330.4L145.0 334.8L140.6 339.2L136.2 334.8Z" fill="#fff" stroke="#3030f8" stroke-width="0.9"/>
<path d="M144.5 332.7L148.9 337.1L144.5 341.5L140.1 337.1Z" fill="#fff" stroke="#3030f8" stroke-width="0.9"/>
<path d="M148.5 335.0L152.9 339.4L148.5 343.8L144.1 339.4Z" fill="#fff" stroke="#3030f8" stroke-width="0.9"/>
<path d="M152.4 337.3L156.8 341.7L152.4 346.1L148.0 341.7Z" fill="#fff" stroke="#3030f8" stroke-width="0.9"/>
<path d="M156.4 339.3L160.8 343.7L156.4 348.1L152.0 343.7Z" fill="#fff" stroke="#3030f8" stroke-width="0.9"/>
<path d="M160.3 341.2L164.7 345.6L160.3 350.0L155.9 345.6Z" fill="#fff" stroke="#3030f8" stroke-width="0.9"/>
<path d="M164.3 343.2L168.7 347.6L164.3 352.0L159.9 347.6Z" fill="#fff" stroke="#3030f8" stroke-width="0.9"/>
<path d="M168.2 345.2L172.6 349.6L168.2 354.0L163.8 349.6Z" fill="#fff" stroke="#3030f8" stroke-width="0.9"/>
<path d="M172.2 347.1L176.6 351.5L172.2 355.9L167.8 351.5Z" fill="#fff" stroke="#3030f8" stroke-width="0.9"/>
<path d="M176.1 349.1L180.5 353.5L176.1 357.9L171.7 353.5Z" fill="#fff" stroke="#3030f8" stroke-width="0.9"/>
<path d="M180.1 351.1L184.5 355.5L180.1 359.9L175.7 355.5Z" fill="#fff" stroke="#3030f8" stroke-width="0.9"/>
<path d="M184.0 353.1L188.4 357.5L184.0 361.9L179.6 357.5Z" fill="#fff" stroke="#3030f8" stroke-width="0.9"/>
<path d="M187.9 355.0L192.3 359.4L187.9 363.8L183.5 359.4Z" fill="#fff" stroke="#3030f8" stroke-width="0.9"/>
<path d="M191.9 357.0L196.3 361.4L191.9 365.8L187.5 361.4Z" fill="#fff" stroke="#3030f8" stroke-width="0.9"/>
<path d="M195.8 359.0L200.2 363.4L195.8 367.8L191.4 363.4Z" fill="#fff" stroke="#3030f8" stroke-width="0.9"/>
<path d="M199.8 360.9L204.2 365.3L199.8 369.7L195.4 365.3Z" fill="#fff" stroke="#3030f8" stroke-width="0.9"/>
<path d="M203.7 362.9L208.1 367.3L203.7 371.7L199.3 367.3Z" fill="#fff" stroke="#3030f8" stroke-width="0.9"/>
<path d="M207.7 364.9L212.1 369.3L207.7 373.7L203.3 369.3Z" fill="#fff" stroke="#3030f8" stroke-width="0.9"/>
<path d="M211.6 367.0L216.0 371.4L211.6 375.8L207.2 371.4Z" fill="#fff" stroke="#3030f8" stroke-width="0.9"/>
<path d="M215.6 369.3L220.0 373.7L215.6 378.1L211.2 373.7Z" fill="#fff" stroke="#3030f8" stroke-width="0.9"/>
<path d="M219.5 371.5L223.9 375.9L219.5 380.3L215.1 375.9Z" fill="#fff" stroke="#3030f8" stroke-width="0.9"/>
<path d="M223.4 373.8L227.8 378.2L223.4 382.6L219.0 378.2Z" fill="#fff" stroke="#3030f8" stroke-width="0.9"/>
<path d="M227.4 376.1L231.8 380.5L227.4 384.9L223.0 380.5Z" fill="#fff" stroke="#3030f8" stroke-width="0.9"/>
<path d="M231.3 378.3L235.7 382.7L231.3 387.1L226.9 382.7Z" fill="#fff" stroke="#3030f8" stroke-width="0.9"/>
<path d="M235.3 380.3L239.7 384.7L235.3 389.1L230.9 384.7Z" fill="#fff" stroke="#3030f8" stroke-width="0.9"/>
<path d="M239.2 382.2L243.6 386.6L239.2 391.0L234.8 386.6Z" fill="#fff" stroke="#3030f8" stroke-width="0.9"/>
<path d="M243.2 384.2L247.6 388.6L243.2 393.0L238.8 388.6Z" fill="#fff" stroke="#3030f8" stroke-width="0.9"/>
<path d="M247.1 386.1L251.5 390.5L247.1 394.9L242.7 390.5Z" fill="#fff" stroke="#3030f8" stroke-width="0.9"/>
<path d="M251.1 388.1L255.5 392.5L251.1 396.9L246.7 392.5Z" fill="#fff" stroke="#3030f8" stroke-width="0.9"/>
<path d="M255.0 390.0L259.4 394.4L255.0 398.8L250.6 394.4Z" fill="#fff" stroke="#3030f8" stroke-width="0.9"/>
<path d="M259.0 391.9L263.4 396.3L259.0 400.7L254.6 396.3Z" fill="#fff" stroke="#3030f8" stroke-width="0.9"/>
<path d="M262.9 395.1L267.3 399.5L262.9 403.9L258.5 399.5Z" fill="#fff" stroke="#3030f8" stroke-width="0.9"/>
<path d="M266.8 397.4L271.2 401.8L266.8 406.2L262.4 401.8Z" fill="#fff" stroke="#3030f8" stroke-width="0.9"/>
<path d="M270.8 399.6L275.2 404.0L270.8 408.4L266.4 404.0Z" fill="#fff" stroke="#3030f8" stroke-width="0.9"/>
<path d="M274.7 401.9L279.1 406.3L274.7 410.7L270.3 406.3Z" fill="#fff" stroke="#3030f8" stroke-width="0.9"/>
<path d="M278.7 404.3L283.1 408.7L278.7 413.1L274.3 408.7Z" fill="#fff" stroke="#3030f8" stroke-width="0.9"/>
<path d="M282.6 406.9L287.0 411.3L282.6 415.7L278.2 411.3Z" fill="#fff" stroke="#3030f8" stroke-width="0.9"/>
<path d="M287.5 410.5L291.9 414.9L287.5 419.3L283.1 414.9Z" fill="#fff" stroke="#3030f8" stroke-width="0.9"/>
<path d="M292.7 414.5L297.1 418.9L292.7 423.3L288.3 418.9Z" fill="#fff" stroke="#3030f8" stroke-width="0.9"/>
<path d="M297.5 418.4L301.9 422.8L297.5 427.2L293.1 422.8Z" fill="#fff" stroke="#3030f8" stroke-width="0.9"/>
<path d="M301.8 421.9L306.2 426.3L301.8 430.7L297.4 426.3Z" fill="#fff" stroke="#3030f8" stroke-width="0.9"/>
<path d="M306.1 425.8L310.5 430.2L306.1 434.6L301.7 430.2Z" fill="#fff" stroke="#3030f8" stroke-width="0.9"/>
<path d="M309.5 429.3L313.9 433.7L309.5 438.1L305.1 433.7Z" fill="#fff" stroke="#3030f8" stroke-width="0.9"/>
<path d="M313.4 436.2L317.8 440.6L313.4 445.0L309.0 440.6Z" fill="#fff" stroke="#3030f8" stroke-width="0.9"/>
<path d="M317.0 450.9L321.4 455.3L317.0 459.7L312.6 455.3Z" fill="#fff" stroke="#3030f8" stroke-width="0.9"/>
<path d="M106.3 306.8L110.1 312.6L117.8 319.3L121.4 325.1L125.2 321.1L128.6 326.0L132.2 330.4L136.5 330.0L140.3 331.2L144.2 333.5L148.2 335.8L152.1 338.2L156.1 340.5L160.0 342.9L164.0 345.3L167.9 347.7L171.8 350.1L175.8 352.2L179.7 354.3L183.7 356.4L187.6 358.5L191.6 360.6L195.5 362.7L199.5 364.7L203.4 366.8L207.3 368.9L211.3 370.9L215.2 372.9L219.2 374.9L223.1 376.8L227.1 378.8L231.0 380.9L235.0 383.2L238.9 385.4L242.9 387.7L246.8 390.0L250.7 392.2L254.7 394.2L258.6 396.2L262.6 399.3L266.5 401.6L270.5 403.8L274.4 406.1L278.4 408.5L282.3 411.1L286.2 413.9L290.2 417.0L294.1 420.0L298.1 423.2L302.0 426.5L305.2 429.3L309.5 433.8L313.0 440.1L316.6 452.9" fill="none" stroke="#f060f0" stroke-width="0.9"/>
<path d="M106.3 302.4L110.5 310.4L102.1 310.4Z" fill="#fff" stroke="#f236f2" stroke-width="0.9"/>
<path d="M110.1 308.2L114.3 316.2L105.9 316.2Z" fill="#fff" stroke="#f236f2" stroke-width="0.9"/>
<path d="M117.8 314.9L122.0 322.9L113.6 322.9Z" fill="#fff" stroke="#f236f2" stroke-width="0.9"/>
<path d="M121.4 320.7L125.6 328.7L117.2 328.7Z" fill="#fff" stroke="#f236f2" stroke-width="0.9"/>
<path d="M125.2 316.7L129.4 324.7L121.0 324.7Z" fill="#fff" stroke="#f236f2" stroke-width="0.9"/>
<path d="M128.6 321.6L132.8 329.5L124.4 329.5Z" fill="#fff" stroke="#f236f2" stroke-width="0.9"/>
<path d="M132.2 326.0L136.4 333.9L128.0 333.9Z" fill="#fff" stroke="#f236f2" stroke-width="0.9"/>
<path d="M136.5 325.6L140.7 333.6L132.3 333.6Z" fill="#fff" stroke="#f236f2" stroke-width="0.9"/>
<path d="M140.3 326.8L144.5 334.7L136.1 334.7Z" fill="#fff" stroke="#f236f2" stroke-width="0.9"/>
<path d="M144.2 329.1L148.4 337.1L140.0 337.1Z" fill="#fff" stroke="#f236f2" stroke-width="0.9"/>
<path d="M148.2 331.4L152.4 339.4L144.0 339.4Z" fill="#fff" stroke="#f236f2" stroke-width="0.9"/>
<path d="M152.1 333.8L156.3 341.8L147.9 341.8Z" fill="#fff" stroke="#f236f2" stroke-width="0.9"/>
<path d="M156.1 336.1L160.3 344.1L151.9 344.1Z" fill="#fff" stroke="#f236f2" stroke-width="0.9"/>
<path d="M160.0 338.5L164.2 346.4L155.8 346.4Z" fill="#fff" stroke="#f236f2" stroke-width="0.9"/>
<path d="M164.0 340.8L168.2 348.8L159.8 348.8Z" fill="#fff" stroke="#f236f2" stroke-width="0.9"/>
<path d="M167.9 343.3L172.1 351.3L163.7 351.3Z" fill="#fff" stroke="#f236f2" stroke-width="0.9"/>
<path d="M171.8 345.7L176.0 353.6L167.6 353.6Z" fill="#fff" stroke="#f236f2" stroke-width="0.9"/>
<path d="M175.8 347.8L180.0 355.7L171.6 355.7Z" fill="#fff" stroke="#f236f2" stroke-width="0.9"/>
<path d="M179.7 349.9L183.9 357.8L175.5 357.8Z" fill="#fff" stroke="#f236f2" stroke-width="0.9"/>
<path d="M183.7 352.0L187.9 359.9L179.5 359.9Z" fill="#fff" stroke="#f236f2" stroke-width="0.9"/>
<path d="M187.6 354.0L191.8 362.0L183.4 362.0Z" fill="#fff" stroke="#f236f2" stroke-width="0.9"/>
<path d="M191.6 356.1L195.8 364.1L187.4 364.1Z" fill="#fff" stroke="#f236f2" stroke-width="0.9"/>
<path d="M195.5 358.2L199.7 366.2L191.3 366.2Z" fill="#fff" stroke="#f236f2" stroke-width="0.9"/>
<path d="M199.5 360.3L203.7 368.3L195.3 368.3Z" fill="#fff" stroke="#f236f2" stroke-width="0.9"/>
<path d="M203.4 362.4L207.6 370.4L199.2 370.4Z" fill="#fff" stroke="#f236f2" stroke-width="0.9"/>
<path d="M207.3 364.5L211.5 372.5L203.1 372.5Z" fill="#fff" stroke="#f236f2" stroke-width="0.9"/>
<path d="M211.3 366.5L215.5 374.5L207.1 374.5Z" fill="#fff" stroke="#f236f2" stroke-width="0.9"/>
<path d="M215.2 368.5L219.4 376.5L211.0 376.5Z" fill="#fff" stroke="#f236f2" stroke-width="0.9"/>
<path d="M219.2 370.5L223.4 378.4L215.0 378.4Z" fill="#fff" stroke="#f236f2" stroke-width="0.9"/>
<path d="M223.1 372.4L227.3 380.4L218.9 380.4Z" fill="#fff" stroke="#f236f2" stroke-width="0.9"/>
<path d="M227.1 374.4L231.3 382.4L222.9 382.4Z" fill="#fff" stroke="#f236f2" stroke-width="0.9"/>
<path d="M231.0 376.5L235.2 384.5L226.8 384.5Z" fill="#fff" stroke="#f236f2" stroke-width="0.9"/>
<path d="M235.0 378.8L239.2 386.8L230.8 386.8Z" fill="#fff" stroke="#f236f2" stroke-width="0.9"/>
<path d="M238.9 381.0L243.1 389.0L234.7 389.0Z" fill="#fff" stroke="#f236f2" stroke-width="0.9"/>
<path d="M242.9 383.3L247.1 391.3L238.7 391.3Z" fill="#fff" stroke="#f236f2" stroke-width="0.9"/>
<path d="M246.8 385.6L251.0 393.5L242.6 393.5Z" fill="#fff" stroke="#f236f2" stroke-width="0.9"/>
<path d="M250.7 387.8L254.9 395.8L246.5 395.8Z" fill="#fff" stroke="#f236f2" stroke-width="0.9"/>
<path d="M254.7 389.8L258.9 397.8L250.5 397.8Z" fill="#fff" stroke="#f236f2" stroke-width="0.9"/>
<path d="M258.6 391.8L262.8 399.7L254.4 399.7Z" fill="#fff" stroke="#f236f2" stroke-width="0.9"/>
<path d="M262.6 394.9L266.8 402.9L258.4 402.9Z" fill="#fff" stroke="#f236f2" stroke-width="0.9"/>
<path d="M266.5 397.2L270.7 405.2L262.3 405.2Z" fill="#fff" stroke="#f236f2" stroke-width="0.9"/>
<path d="M270.5 399.4L274.7 407.4L266.3 407.4Z" fill="#fff" stroke="#f236f2" stroke-width="0.9"/>
<path d="M274.4 401.7L278.6 409.7L270.2 409.7Z" fill="#fff" stroke="#f236f2" stroke-width="0.9"/>
<path d="M278.4 404.1L282.6 412.1L274.2 412.1Z" fill="#fff" stroke="#f236f2" stroke-width="0.9"/>
<path d="M282.3 406.6L286.5 414.6L278.1 414.6Z" fill="#fff" stroke="#f236f2" stroke-width="0.9"/>
<path d="M286.2 409.5L290.4 417.5L282.0 417.5Z" fill="#fff" stroke="#f236f2" stroke-width="0.9"/>
<path d="M290.2 412.6L294.4 420.6L286.0 420.6Z" fill="#fff" stroke="#f236f2" stroke-width="0.9"/>
<path d="M294.1 415.6L298.3 423.6L289.9 423.6Z" fill="#fff" stroke="#f236f2" stroke-width="0.9"/>
<path d="M298.1 418.8L302.3 426.8L293.9 426.8Z" fill="#fff" stroke="#f236f2" stroke-width="0.9"/>
<path d="M302.0 422.1L306.2 430.1L297.8 430.1Z" fill="#fff" stroke="#f236f2" stroke-width="0.9"/>
<path d="M305.2 424.9L309.4 432.9L301.0 432.9Z" fill="#fff" stroke="#f236f2" stroke-width="0.9"/>
<path d="M309.5 429.4L313.7 437.4L305.3 437.4Z" fill="#fff" stroke="#f236f2" stroke-width="0.9"/>
<path d="M313.0 435.7L317.2 443.7L308.8 443.7Z" fill="#fff" stroke="#f236f2" stroke-width="0.9"/>
<path d="M316.6 448.5L320.8 456.5L312.4 456.5Z" fill="#fff" stroke="#f236f2" stroke-width="0.9"/>
<path d="M117.6 311.3L121.4 317.1L129.1 323.8L132.7 329.6L136.5 325.6L139.9 330.4L143.5 334.8L147.8 334.5L151.6 335.8L155.5 338.2L159.5 340.5L163.4 342.8L167.3 345.2L171.3 347.5L175.2 350.0L179.2 352.5L183.1 355.0L187.1 357.3L191.0 359.5L195.0 361.7L198.9 363.9L202.9 366.1L206.8 368.3L210.7 370.5L214.7 372.7L218.6 375.0L222.6 377.0L226.5 378.9L230.5 380.9L234.4 382.9L238.4 384.8L242.3 386.9L246.2 389.2L250.2 391.5L254.1 393.7L258.1 396.0L262.0 399.0L266.0 401.3L269.9 403.5L273.9 405.8L277.8 408.2L281.8 410.7L285.7 413.5L289.6 416.6L293.6 419.6L297.5 422.8L301.5 426.1L306.4 432.1L311.9 440.5L316.8 456.7" fill="none" stroke="#d08050" stroke-width="0.9"/>
<path d="M117.6 307.6V315.0M114.4 309.4L120.8 313.1M114.4 313.1L120.8 309.4" stroke="#d2691e" fill="none"/>
<path d="M121.4 313.4V320.8M118.2 315.2L124.6 318.9M118.2 318.9L124.6 315.2" stroke="#d2691e" fill="none"/>
<path d="M129.1 320.1V327.5M125.8 321.9L132.3 325.6M125.8 325.6L132.3 321.9" stroke="#d2691e" fill="none"/>
<path d="M132.7 325.9V333.3M129.5 327.7L135.9 331.4M129.5 331.4L135.9 327.7" stroke="#d2691e" fill="none"/>
<path d="M136.5 321.9V329.3M133.3 323.7L139.7 327.4M133.3 327.4L139.7 323.7" stroke="#d2691e" fill="none"/>
<path d="M139.9 326.7V334.1M136.7 328.6L143.1 332.3M136.7 332.3L143.1 328.6" stroke="#d2691e" fill="none"/>
<path d="M143.5 331.1V338.5M140.3 333.0L146.7 336.7M140.3 336.7L146.7 333.0" stroke="#d2691e" fill="none"/>
<path d="M147.8 330.8V338.2M144.6 332.6L151.0 336.3M144.6 336.3L151.0 332.6" stroke="#d2691e" fill="none"/>
<path d="M151.6 332.1V339.5M148.4 334.0L154.8 337.7M148.4 337.7L154.8 334.0" stroke="#d2691e" fill="none"/>
<path d="M155.5 334.5V341.9M152.3 336.3L158.7 340.0M152.3 340.0L158.7 336.3" stroke="#d2691e" fill="none"/>
<path d="M159.5 336.8V344.2M156.3 338.7L162.7 342.4M156.3 342.4L162.7 338.7" stroke="#d2691e" fill="none"/>
<path d="M163.4 339.1V346.5M160.2 341.0L166.6 344.7M160.2 344.7L166.6 341.0" stroke="#d2691e" fill="none"/>
<path d="M167.3 341.5V348.9M164.1 343.3L170.6 347.0M164.1 347.0L170.6 343.3" stroke="#d2691e" fill="none"/>
<path d="M171.3 343.8V351.2M168.1 345.7L174.5 349.4M168.1 349.4L174.5 345.7" stroke="#d2691e" fill="none"/>
<path d="M175.2 346.3V353.7M172.0 348.1L178.4 351.8M172.0 351.8L178.4 348.1" stroke="#d2691e" fill="none"/>
<path d="M179.2 348.8V356.2M176.0 350.7L182.4 354.4M176.0 354.4L182.4 350.7" stroke="#d2691e" fill="none"/>
<path d="M183.1 351.3V358.7M179.9 353.2L186.3 356.9M179.9 356.9L186.3 353.2" stroke="#d2691e" fill="none"/>
<path d="M187.1 353.6V361.0M183.9 355.4L190.3 359.1M183.9 359.1L190.3 355.4" stroke="#d2691e" fill="none"/>
<path d="M191.0 355.8V363.2M187.8 357.6L194.2 361.3M187.8 361.3L194.2 357.6" stroke="#d2691e" fill="none"/>
<path d="M195.0 358.0V365.4M191.8 359.8L198.2 363.5M191.8 363.5L198.2 359.8" stroke="#d2691e" fill="none"/>
<path d="M198.9 360.2V367.6M195.7 362.0L202.1 365.7M195.7 365.7L202.1 362.0" stroke="#d2691e" fill="none"/>
<path d="M202.9 362.4V369.8M199.6 364.3L206.1 368.0M199.6 368.0L206.1 364.3" stroke="#d2691e" fill="none"/>
<path d="M206.8 364.6V372.0M203.6 366.5L210.0 370.2M203.6 370.2L210.0 366.5" stroke="#d2691e" fill="none"/>
<path d="M210.7 366.8V374.2M207.5 368.7L213.9 372.4M207.5 372.4L213.9 368.7" stroke="#d2691e" fill="none"/>
<path d="M214.7 369.0V376.4M211.5 370.9L217.9 374.6M211.5 374.6L217.9 370.9" stroke="#d2691e" fill="none"/>
<path d="M218.6 371.3V378.7M215.4 373.1L221.8 376.8M215.4 376.8L221.8 373.1" stroke="#d2691e" fill="none"/>
<path d="M222.6 373.3V380.7M219.4 375.1L225.8 378.8M219.4 378.8L225.8 375.1" stroke="#d2691e" fill="none"/>
<path d="M226.5 375.2V382.6M223.3 377.1L229.7 380.8M223.3 380.8L229.7 377.1" stroke="#d2691e" fill="none"/>
<path d="M230.5 377.2V384.6M227.3 379.1L233.7 382.8M227.3 382.8L233.7 379.1" stroke="#d2691e" fill="none"/>
<path d="M234.4 379.2V386.6M231.2 381.0L237.6 384.7M231.2 384.7L237.6 381.0" stroke="#d2691e" fill="none"/>
<path d="M238.4 381.1V388.5M235.2 383.0L241.6 386.7M235.2 386.7L241.6 383.0" stroke="#d2691e" fill="none"/>
<path d="M242.3 383.2V390.6M239.1 385.1L245.5 388.8M239.1 388.8L245.5 385.1" stroke="#d2691e" fill="none"/>
<path d="M246.2 385.5V392.9M243.0 387.4L249.5 391.1M243.0 391.1L249.5 387.4" stroke="#d2691e" fill="none"/>
<path d="M250.2 387.8V395.2M247.0 389.6L253.4 393.3M247.0 393.3L253.4 389.6" stroke="#d2691e" fill="none"/>
<path d="M254.1 390.0V397.4M250.9 391.9L257.3 395.6M250.9 395.6L257.3 391.9" stroke="#d2691e" fill="none"/>
<path d="M258.1 392.3V399.7M254.9 394.2L261.3 397.9M254.9 397.9L261.3 394.2" stroke="#d2691e" fill="none"/>
<path d="M262.0 395.3V402.7M258.8 397.2L265.2 400.9M258.8 400.9L265.2 397.2" stroke="#d2691e" fill="none"/>
<path d="M266.0 397.6V405.0M262.8 399.4L269.2 403.1M262.8 403.1L269.2 399.4" stroke="#d2691e" fill="none"/>
<path d="M269.9 399.8V407.2M266.7 401.7L273.1 405.4M266.7 405.4L273.1 401.7" stroke="#d2691e" fill="none"/>
<path d="M273.9 402.1V409.5M270.7 403.9L277.1 407.6M270.7 407.6L277.1 403.9" stroke="#d2691e" fill="none"/>
<path d="M277.8 404.5V411.9M274.6 406.3L281.0 410.0M274.6 410.0L281.0 406.3" stroke="#d2691e" fill="none"/>
<path d="M281.8 407.0V414.4M278.5 408.8L285.0 412.5M278.5 412.5L285.0 408.8" stroke="#d2691e" fill="none"/>
<path d="M285.7 409.8V417.2M282.5 411.6L288.9 415.3M282.5 415.3L288.9 411.6" stroke="#d2691e" fill="none"/>
<path d="M289.6 412.9V420.3M286.4 414.7L292.8 418.4M286.4 418.4L292.8 414.7" stroke="#d2691e" fill="none"/>
<path d="M293.6 415.9V423.3M290.4 417.7L296.8 421.4M290.4 421.4L296.8 417.7" stroke="#d2691e" fill="none"/>
<path d="M297.5 419.1V426.5M294.3 420.9L300.7 424.6M294.3 424.6L300.7 420.9" stroke="#d2691e" fill="none"/>
<path d="M301.5 422.4V429.8M298.3 424.2L304.7 427.9M298.3 427.9L304.7 424.2" stroke="#d2691e" fill="none"/>
<path d="M306.4 428.4V435.8M303.2 430.3L309.6 434.0M303.2 434.0L309.6 430.3" stroke="#d2691e" fill="none"/>
<path d="M311.9 436.8V444.2M308.7 438.7L315.1 442.4M308.7 442.4L315.1 438.7" stroke="#d2691e" fill="none"/>
<path d="M316.8 453.0V460.4M313.6 454.8L320.0 458.5M313.6 458.5L320.0 454.8" stroke="#d2691e" fill="none"/>
<path d="M125.8 315.7L129.6 321.5L137.3 328.2L140.9 334.0L144.7 330.0L148.1 334.9L151.7 339.3L156.0 338.9L159.8 340.2L163.7 342.6L167.7 344.9L171.6 347.3L175.6 349.6L179.5 352.0L183.4 354.4L187.4 356.9L191.3 359.4L195.3 361.6L199.2 363.9L203.2 366.1L207.1 368.3L211.1 370.5L215.0 372.7L218.9 374.9L222.9 377.1L226.8 379.3L230.8 381.3L234.7 383.3L238.7 385.2L242.6 387.2L246.6 389.2L250.5 391.3L254.5 393.5L258.4 395.8L262.3 399.2L266.3 401.5L270.2 403.7L274.2 406.0L278.1 408.4L282.1 410.9L286.0 413.7L290.0 416.8L293.9 419.8L297.8 423.0L301.8 426.3L305.0 429.9L309.1 436.3L313.2 444.0L317.4 471.3" fill="none" stroke="#404040" stroke-width="0.9"/>
<path d="M121.8 311.7L129.8 319.7M121.8 319.7L129.8 311.7" stroke="#222222" fill="none"/>
<path d="M125.6 317.5L133.5 325.4M125.6 325.4L133.5 317.5" stroke="#222222" fill="none"/>
<path d="M133.3 324.2L141.2 332.2M133.3 332.2L141.2 324.2" stroke="#222222" fill="none"/>
<path d="M136.9 330.0L144.9 338.0M136.9 338.0L144.9 330.0" stroke="#222222" fill="none"/>
<path d="M140.7 326.0L148.6 334.0M140.7 334.0L148.6 326.0" stroke="#222222" fill="none"/>
<path d="M144.2 330.9L152.1 338.8M144.2 338.8L152.1 330.9" stroke="#222222" fill="none"/>
<path d="M147.7 335.3L155.7 343.2M147.7 343.2L155.7 335.3" stroke="#222222" fill="none"/>
<path d="M152.0 334.9L160.0 342.9M152.0 342.9L160.0 334.9" stroke="#222222" fill="none"/>
<path d="M155.8 336.3L163.7 344.2M155.8 344.2L163.7 336.3" stroke="#222222" fill="none"/>
<path d="M159.7 338.6L167.7 346.6M159.7 346.6L167.7 338.6" stroke="#222222" fill="none"/>
<path d="M163.7 341.0L171.6 348.9M163.7 348.9L171.6 341.0" stroke="#222222" fill="none"/>
<path d="M167.6 343.3L175.6 351.2M167.6 351.2L175.6 343.3" stroke="#222222" fill="none"/>
<path d="M171.6 345.6L179.5 353.6M171.6 353.6L179.5 345.6" stroke="#222222" fill="none"/>
<path d="M175.5 348.0L183.5 355.9M175.5 355.9L183.5 348.0" stroke="#222222" fill="none"/>
<path d="M179.5 350.4L187.4 358.4M179.5 358.4L187.4 350.4" stroke="#222222" fill="none"/>
<path d="M183.4 353.0L191.4 360.9M183.4 360.9L191.4 353.0" stroke="#222222" fill="none"/>
<path d="M187.4 355.5L195.3 363.4M187.4 363.4L195.3 355.5" stroke="#222222" fill="none"/>
<path d="M191.3 357.7L199.3 365.6M191.3 365.6L199.3 357.7" stroke="#222222" fill="none"/>
<path d="M195.2 359.9L203.2 367.8M195.2 367.8L203.2 359.9" stroke="#222222" fill="none"/>
<path d="M199.2 362.1L207.1 370.0M199.2 370.0L207.1 362.1" stroke="#222222" fill="none"/>
<path d="M203.1 364.3L211.1 372.2M203.1 372.2L211.1 364.3" stroke="#222222" fill="none"/>
<path d="M207.1 366.5L215.0 374.4M207.1 374.4L215.0 366.5" stroke="#222222" fill="none"/>
<path d="M211.0 368.7L219.0 376.6M211.0 376.6L219.0 368.7" stroke="#222222" fill="none"/>
<path d="M215.0 370.9L222.9 378.8M215.0 378.8L222.9 370.9" stroke="#222222" fill="none"/>
<path d="M218.9 373.1L226.9 381.1M218.9 381.1L226.9 373.1" stroke="#222222" fill="none"/>
<path d="M222.9 375.3L230.8 383.3M222.9 383.3L230.8 375.3" stroke="#222222" fill="none"/>
<path d="M226.8 377.3L234.8 385.3M226.8 385.3L234.8 377.3" stroke="#222222" fill="none"/>
<path d="M230.8 379.3L238.7 387.2M230.8 387.2L238.7 379.3" stroke="#222222" fill="none"/>
<path d="M234.7 381.3L242.6 389.2M234.7 389.2L242.6 381.3" stroke="#222222" fill="none"/>
<path d="M238.6 383.2L246.6 391.2M238.6 391.2L246.6 383.2" stroke="#222222" fill="none"/>
<path d="M242.6 385.2L250.5 393.1M242.6 393.1L250.5 385.2" stroke="#222222" fill="none"/>
<path d="M246.5 387.3L254.5 395.2M246.5 395.2L254.5 387.3" stroke="#222222" fill="none"/>
<path d="M250.5 389.6L258.4 397.5M250.5 397.5L258.4 389.6" stroke="#222222" fill="none"/>
<path d="M254.4 391.8L262.4 399.8M254.4 399.8L262.4 391.8" stroke="#222222" fill="none"/>
<path d="M258.4 395.2L266.3 403.2M258.4 403.2L266.3 395.2" stroke="#222222" fill="none"/>
<path d="M262.3 397.5L270.3 405.4M262.3 405.4L270.3 397.5" stroke="#222222" fill="none"/>
<path d="M266.3 399.7L274.2 407.7M266.3 407.7L274.2 399.7" stroke="#222222" fill="none"/>
<path d="M270.2 402.0L278.2 409.9M270.2 409.9L278.2 402.0" stroke="#222222" fill="none"/>
<path d="M274.1 404.4L282.1 412.4M274.1 412.4L282.1 404.4" stroke="#222222" fill="none"/>
<path d="M278.1 406.9L286.0 414.9M278.1 414.9L286.0 406.9" stroke="#222222" fill="none"/>
<path d="M282.0 409.7L290.0 417.7M282.0 417.7L290.0 409.7" stroke="#222222" fill="none"/>
<path d="M286.0 412.8L293.9 420.8M286.0 420.8L293.9 412.8" stroke="#222222" fill="none"/>
<path d="M289.9 415.9L297.9 423.8M289.9 423.8L297.9 415.9" stroke="#222222" fill="none"/>
<path d="M293.9 419.0L301.8 427.0M293.9 427.0L301.8 419.0" stroke="#222222" fill="none"/>
<path d="M297.8 422.4L305.8 430.3M297.8 430.3L305.8 422.4" stroke="#222222" fill="none"/>
<path d="M301.0 425.9L308.9 433.9M301.0 433.9L308.9 425.9" stroke="#222222" fill="none"/>
<path d="M305.1 432.3L313.1 440.2M305.1 440.2L313.1 432.3" stroke="#222222" fill="none"/>
<path d="M309.3 440.0L317.2 448.0M309.3 448.0L317.2 440.0" stroke="#222222" fill="none"/>
<path d="M313.4 467.3L321.4 475.2M313.4 475.2L321.4 467.3" stroke="#222222" fill="none"/>
<path d="M146.3 327.3L150.0 333.1L157.7 339.8L161.4 345.6L165.1 341.6L168.6 346.5L172.2 350.9L176.5 350.5L180.2 351.9L184.2 354.2L188.1 356.6L192.1 358.9L196.0 361.2L200.0 363.6L203.9 366.0L207.9 368.5L211.8 371.0L215.8 373.1L219.7 375.3L223.6 377.5L227.6 379.7L231.5 381.8L235.5 384.0L239.4 386.2L243.4 388.3L247.3 390.5L251.3 392.5L255.2 394.5L259.1 396.5L263.1 399.6L267.0 401.9L271.0 404.1L274.9 406.4L278.9 408.8L282.8 411.4L286.8 414.3L290.7 417.4L294.7 420.4L298.6 423.7L302.5 427.0L306.5 430.5L310.2 434.7L314.4 442.6L318.5 465.8" fill="none" stroke="#30e0e0" stroke-width="0.9"/>
<path d="M146.3 323.8L147.1 326.2L149.6 326.2L147.6 327.8L148.3 330.2L146.3 328.7L144.2 330.2L145.0 327.8L143.0 326.2L145.5 326.2Z" fill="#00e5e5" stroke="#00e5e5" stroke-width="0.5"/>
<path d="M150.0 329.6L150.9 332.0L153.4 332.0L151.4 333.5L152.1 335.9L150.0 334.5L148.0 335.9L148.7 333.5L146.7 332.0L149.2 332.0Z" fill="#00e5e5" stroke="#00e5e5" stroke-width="0.5"/>
<path d="M157.7 336.3L158.6 338.7L161.1 338.8L159.1 340.3L159.8 342.7L157.7 341.2L155.7 342.7L156.4 340.3L154.4 338.8L156.9 338.7Z" fill="#00e5e5" stroke="#00e5e5" stroke-width="0.5"/>
<path d="M161.4 342.1L162.2 344.5L164.7 344.5L162.7 346.0L163.4 348.4L161.4 347.0L159.3 348.4L160.1 346.0L158.1 344.5L160.6 344.5Z" fill="#00e5e5" stroke="#00e5e5" stroke-width="0.5"/>
<path d="M165.1 338.1L166.0 340.5L168.5 340.5L166.5 342.0L167.2 344.4L165.1 343.0L163.1 344.4L163.8 342.0L161.8 340.5L164.3 340.5Z" fill="#00e5e5" stroke="#00e5e5" stroke-width="0.5"/>
<path d="M168.6 343.0L169.4 345.4L171.9 345.4L169.9 346.9L170.7 349.3L168.6 347.9L166.5 349.3L167.3 346.9L165.3 345.4L167.8 345.4Z" fill="#00e5e5" stroke="#00e5e5" stroke-width="0.5"/>
<path d="M172.2 347.4L173.0 349.8L175.5 349.8L173.5 351.3L174.2 353.7L172.2 352.3L170.1 353.7L170.8 351.3L168.8 349.8L171.3 349.8Z" fill="#00e5e5" stroke="#00e5e5" stroke-width="0.5"/>
<path d="M176.5 347.0L177.3 349.4L179.8 349.4L177.8 350.9L178.6 353.3L176.5 351.9L174.4 353.3L175.2 350.9L173.2 349.4L175.7 349.4Z" fill="#00e5e5" stroke="#00e5e5" stroke-width="0.5"/>
<path d="M180.2 348.4L181.1 350.7L183.6 350.8L181.6 352.3L182.3 354.7L180.2 353.3L178.2 354.7L178.9 352.3L176.9 350.8L179.4 350.7Z" fill="#00e5e5" stroke="#00e5e5" stroke-width="0.5"/>
<path d="M184.2 350.7L185.0 353.1L187.5 353.1L185.5 354.6L186.3 357.0L184.2 355.6L182.1 357.0L182.9 354.6L180.9 353.1L183.4 353.1Z" fill="#00e5e5" stroke="#00e5e5" stroke-width="0.5"/>
<path d="M188.1 353.1L189.0 355.4L191.5 355.5L189.5 357.0L190.2 359.4L188.1 358.0L186.1 359.4L186.8 357.0L184.8 355.5L187.3 355.4Z" fill="#00e5e5" stroke="#00e5e5" stroke-width="0.5"/>
<path d="M192.1 355.4L192.9 357.8L195.4 357.8L193.4 359.3L194.1 361.7L192.1 360.3L190.0 361.7L190.8 359.3L188.8 357.8L191.3 357.8Z" fill="#00e5e5" stroke="#00e5e5" stroke-width="0.5"/>
<path d="M196.0 357.7L196.9 360.1L199.4 360.1L197.4 361.7L198.1 364.1L196.0 362.6L194.0 364.1L194.7 361.7L192.7 360.1L195.2 360.1Z" fill="#00e5e5" stroke="#00e5e5" stroke-width="0.5"/>
<path d="M200.0 360.1L200.8 362.4L203.3 362.5L201.3 364.0L202.0 366.4L200.0 365.0L197.9 366.4L198.6 364.0L196.6 362.5L199.1 362.4Z" fill="#00e5e5" stroke="#00e5e5" stroke-width="0.5"/>
<path d="M203.9 362.5L204.7 364.9L207.2 364.9L205.2 366.4L206.0 368.8L203.9 367.4L201.9 368.8L202.6 366.4L200.6 364.9L203.1 364.9Z" fill="#00e5e5" stroke="#00e5e5" stroke-width="0.5"/>
<path d="M207.9 365.0L208.7 367.4L211.2 367.4L209.2 368.9L209.9 371.3L207.9 369.9L205.8 371.3L206.5 368.9L204.5 367.4L207.0 367.4Z" fill="#00e5e5" stroke="#00e5e5" stroke-width="0.5"/>
<path d="M211.8 367.5L212.6 369.8L215.1 369.9L213.1 371.4L213.9 373.8L211.8 372.4L209.8 373.8L210.5 371.4L208.5 369.9L211.0 369.8Z" fill="#00e5e5" stroke="#00e5e5" stroke-width="0.5"/>
<path d="M215.8 369.6L216.6 372.0L219.1 372.1L217.1 373.6L217.8 376.0L215.8 374.5L213.7 376.0L214.4 373.6L212.4 372.1L214.9 372.0Z" fill="#00e5e5" stroke="#00e5e5" stroke-width="0.5"/>
<path d="M219.7 371.8L220.5 374.2L223.0 374.2L221.0 375.8L221.8 378.1L219.7 376.7L217.6 378.1L218.4 375.8L216.4 374.2L218.9 374.2Z" fill="#00e5e5" stroke="#00e5e5" stroke-width="0.5"/>
<path d="M223.6 374.0L224.5 376.4L227.0 376.4L225.0 377.9L225.7 380.3L223.6 378.9L221.6 380.3L222.3 377.9L220.3 376.4L222.8 376.4Z" fill="#00e5e5" stroke="#00e5e5" stroke-width="0.5"/>
<path d="M227.6 376.2L228.4 378.5L230.9 378.6L228.9 380.1L229.6 382.5L227.6 381.1L225.5 382.5L226.3 380.1L224.3 378.6L226.8 378.5Z" fill="#00e5e5" stroke="#00e5e5" stroke-width="0.5"/>
<path d="M231.5 378.3L232.4 380.7L234.9 380.8L232.9 382.3L233.6 384.7L231.5 383.2L229.5 384.7L230.2 382.3L228.2 380.8L230.7 380.7Z" fill="#00e5e5" stroke="#00e5e5" stroke-width="0.5"/>
<path d="M235.5 380.5L236.3 382.9L238.8 382.9L236.8 384.4L237.5 386.8L235.5 385.4L233.4 386.8L234.1 384.4L232.1 382.9L234.7 382.9Z" fill="#00e5e5" stroke="#00e5e5" stroke-width="0.5"/>
<path d="M239.4 382.7L240.2 385.0L242.8 385.1L240.8 386.6L241.5 389.0L239.4 387.6L237.4 389.0L238.1 386.6L236.1 385.1L238.6 385.0Z" fill="#00e5e5" stroke="#00e5e5" stroke-width="0.5"/>
<path d="M243.4 384.8L244.2 387.2L246.7 387.3L244.7 388.8L245.4 391.2L243.4 389.7L241.3 391.2L242.0 388.8L240.0 387.3L242.5 387.2Z" fill="#00e5e5" stroke="#00e5e5" stroke-width="0.5"/>
<path d="M247.3 387.0L248.1 389.4L250.6 389.4L248.6 391.0L249.4 393.3L247.3 391.9L245.3 393.3L246.0 391.0L244.0 389.4L246.5 389.4Z" fill="#00e5e5" stroke="#00e5e5" stroke-width="0.5"/>
<path d="M251.3 389.0L252.1 391.4L254.6 391.4L252.6 393.0L253.3 395.4L251.3 393.9L249.2 395.4L249.9 393.0L247.9 391.4L250.4 391.4Z" fill="#00e5e5" stroke="#00e5e5" stroke-width="0.5"/>
<path d="M255.2 391.0L256.0 393.4L258.5 393.4L256.5 394.9L257.3 397.3L255.2 395.9L253.1 397.3L253.9 394.9L251.9 393.4L254.4 393.4Z" fill="#00e5e5" stroke="#00e5e5" stroke-width="0.5"/>
<path d="M259.1 393.0L260.0 395.3L262.5 395.4L260.5 396.9L261.2 399.3L259.1 397.9L257.1 399.3L257.8 396.9L255.8 395.4L258.3 395.3Z" fill="#00e5e5" stroke="#00e5e5" stroke-width="0.5"/>
<path d="M263.1 396.1L263.9 398.5L266.4 398.6L264.4 400.1L265.2 402.5L263.1 401.0L261.0 402.5L261.8 400.1L259.8 398.6L262.3 398.5Z" fill="#00e5e5" stroke="#00e5e5" stroke-width="0.5"/>
<path d="M267.0 398.4L267.9 400.7L270.4 400.8L268.4 402.3L269.1 404.7L267.0 403.3L265.0 404.7L265.7 402.3L263.7 400.8L266.2 400.7Z" fill="#00e5e5" stroke="#00e5e5" stroke-width="0.5"/>
<path d="M271.0 400.6L271.8 403.0L274.3 403.0L272.3 404.6L273.0 407.0L271.0 405.5L268.9 407.0L269.7 404.6L267.7 403.0L270.2 403.0Z" fill="#00e5e5" stroke="#00e5e5" stroke-width="0.5"/>
<path d="M274.9 402.9L275.8 405.3L278.3 405.3L276.3 406.8L277.0 409.2L274.9 407.8L272.9 409.2L273.6 406.8L271.6 405.3L274.1 405.3Z" fill="#00e5e5" stroke="#00e5e5" stroke-width="0.5"/>
<path d="M278.9 405.3L279.7 407.7L282.2 407.8L280.2 409.3L280.9 411.7L278.9 410.2L276.8 411.7L277.5 409.3L275.5 407.8L278.0 407.7Z" fill="#00e5e5" stroke="#00e5e5" stroke-width="0.5"/>
<path d="M282.8 407.9L283.6 410.3L286.1 410.3L284.1 411.8L284.9 414.2L282.8 412.8L280.8 414.2L281.5 411.8L279.5 410.3L282.0 410.3Z" fill="#00e5e5" stroke="#00e5e5" stroke-width="0.5"/>
<path d="M286.8 410.8L287.6 413.1L290.1 413.2L288.1 414.7L288.8 417.1L286.8 415.7L284.7 417.1L285.4 414.7L283.4 413.2L285.9 413.1Z" fill="#00e5e5" stroke="#00e5e5" stroke-width="0.5"/>
<path d="M290.7 413.9L291.5 416.3L294.0 416.3L292.0 417.9L292.8 420.3L290.7 418.8L288.7 420.3L289.4 417.9L287.4 416.3L289.9 416.3Z" fill="#00e5e5" stroke="#00e5e5" stroke-width="0.5"/>
<path d="M294.7 416.9L295.5 419.3L298.0 419.3L296.0 420.8L296.7 423.2L294.7 421.8L292.6 423.2L293.3 420.8L291.3 419.3L293.8 419.3Z" fill="#00e5e5" stroke="#00e5e5" stroke-width="0.5"/>
<path d="M298.6 420.2L299.4 422.5L301.9 422.6L299.9 424.1L300.7 426.5L298.6 425.1L296.5 426.5L297.3 424.1L295.3 422.6L297.8 422.5Z" fill="#00e5e5" stroke="#00e5e5" stroke-width="0.5"/>
<path d="M302.5 423.5L303.4 425.8L305.9 425.9L303.9 427.4L304.6 429.8L302.5 428.4L300.5 429.8L301.2 427.4L299.2 425.9L301.7 425.8Z" fill="#00e5e5" stroke="#00e5e5" stroke-width="0.5"/>
<path d="M306.5 427.0L307.3 429.4L309.8 429.4L307.8 430.9L308.5 433.3L306.5 431.9L304.4 433.3L305.2 430.9L303.2 429.4L305.7 429.4Z" fill="#00e5e5" stroke="#00e5e5" stroke-width="0.5"/>
<path d="M310.2 431.2L311.1 433.5L313.6 433.6L311.6 435.1L312.3 437.5L310.2 436.1L308.2 437.5L308.9 435.1L306.9 433.6L309.4 433.5Z" fill="#00e5e5" stroke="#00e5e5" stroke-width="0.5"/>
<path d="M314.4 439.1L315.2 441.5L317.7 441.5L315.7 443.0L316.4 445.4L314.4 444.0L312.3 445.4L313.0 443.0L311.0 441.5L313.6 441.5Z" fill="#00e5e5" stroke="#00e5e5" stroke-width="0.5"/>
<path d="M318.5 462.3L319.3 464.6L321.8 464.7L319.8 466.2L320.6 468.6L318.5 467.2L316.5 468.6L317.2 466.2L315.2 464.7L317.7 464.6Z" fill="#00e5e5" stroke="#00e5e5" stroke-width="0.5"/>
<path d="M158.3 331.4L162.0 337.2L169.7 343.9L173.4 349.7L177.1 345.7L180.6 350.6L184.2 355.0L188.5 354.6L192.4 357.2L196.4 359.5L200.0 366.9L203.9 363.8L207.8 368.7L211.7 372.8L215.6 372.5L219.5 375.1L223.4 377.4L227.3 379.1L231.2 381.0L235.1 383.4L239.0 385.8L242.9 388.1L246.8 390.5L250.7 392.9L254.6 395.1L258.5 397.3L262.4 399.5L266.3 401.8L270.2 404.0L274.1 406.2L278.0 408.6L281.9 411.1L285.8 413.9L289.7 416.9L293.6 419.9L297.5 423.0L301.4 426.3L305.3 429.7L309.2 433.7L313.7 445.9L318.7 461.7" fill="none" stroke="#f04040" stroke-width="0.9"/>
<circle cx="158.3" cy="331.4" r="4.00" fill="#ff0000"/>
<circle cx="162.0" cy="337.2" r="4.00" fill="#ff0000"/>
<circle cx="169.7" cy="343.9" r="4.00" fill="#ff0000"/>
<circle cx="173.4" cy="349.7" r="4.00" fill="#ff0000"/>
<circle cx="177.1" cy="345.7" r="4.00" fill="#ff0000"/>
<circle cx="180.6" cy="350.6" r="4.00" fill="#ff0000"/>
<circle cx="184.2" cy="355.0" r="4.00" fill="#ff0000"/>
<circle cx="188.5" cy="354.6" r="4.00" fill="#ff0000"/>
<circle cx="192.4" cy="357.2" r="4.00" fill="#ff0000"/>
<circle cx="196.4" cy="359.5" r="4.00" fill="#ff0000"/>
<circle cx="200.0" cy="366.9" r="4.00" fill="#ff0000"/>
<circle cx="203.9" cy="363.8" r="4.00" fill="#ff0000"/>
<circle cx="207.8" cy="368.7" r="4.00" fill="#ff0000"/>
<circle cx="211.7" cy="372.8" r="4.00" fill="#ff0000"/>
<circle cx="215.6" cy="372.5" r="4.00" fill="#ff0000"/>
<circle cx="219.5" cy="375.1" r="4.00" fill="#ff0000"/>
<circle cx="223.4" cy="377.4" r="4.00" fill="#ff0000"/>
<circle cx="227.3" cy="379.1" r="4.00" fill="#ff0000"/>
<circle cx="231.2" cy="381.0" r="4.00" fill="#ff0000"/>
<circle cx="235.1" cy="383.4" r="4.00" fill="#ff0000"/>
<circle cx="239.0" cy="385.8" r="4.00" fill="#ff0000"/>
<circle cx="242.9" cy="388.1" r="4.00" fill="#ff0000"/>
<circle cx="246.8" cy="390.5" r="4.00" fill="#ff0000"/>
<circle cx="250.7" cy="392.9" r="4.00" fill="#ff0000"/>
<circle cx="254.6" cy="395.1" r="4.00" fill="#ff0000"/>
<circle cx="258.5" cy="397.3" r="4.00" fill="#ff0000"/>
<circle cx="262.4" cy="399.5" r="4.00" fill="#ff0000"/>
<circle cx="266.3" cy="401.8" r="4.00" fill="#ff0000"/>
<circle cx="270.2" cy="404.0" r="4.00" fill="#ff0000"/>
<circle cx="274.1" cy="406.2" r="4.00" fill="#ff0000"/>
<circle cx="278.0" cy="408.6" r="4.00" fill="#ff0000"/>
<circle cx="281.9" cy="411.1" r="4.00" fill="#ff0000"/>
<circle cx="285.8" cy="413.9" r="4.00" fill="#ff0000"/>
<circle cx="289.7" cy="416.9" r="4.00" fill="#ff0000"/>
<circle cx="293.6" cy="419.9" r="4.00" fill="#ff0000"/>
<circle cx="297.5" cy="423.0" r="4.00" fill="#ff0000"/>
<circle cx="301.4" cy="426.3" r="4.00" fill="#ff0000"/>
<circle cx="305.3" cy="429.7" r="4.00" fill="#ff0000"/>
<circle cx="309.2" cy="433.7" r="4.00" fill="#ff0000"/>
<circle cx="313.7" cy="445.9" r="4.00" fill="#ff0000"/>
<circle cx="318.7" cy="461.7" r="4.00" fill="#ff0000"/>
<path d="M185.3 346.5L189.1 352.3L196.7 359.0L200.4 364.8L204.2 360.8L207.6 365.7L211.2 370.1L215.5 369.7L219.5 372.3L223.4 374.6L227.3 376.3L231.3 378.3L235.1 380.6L239.0 383.0L242.9 385.4L246.8 387.7L250.7 390.1L254.6 392.3L258.5 394.5L262.4 396.7L266.3 399.0L270.2 401.2L274.1 403.4L279.5 406.7L283.2 409.2L287.1 412.0L290.9 415.0L295.7 418.7L299.8 422.2L303.6 425.3L307.7 429.1L311.5 433.7L315.7 439.3L319.4 446.7L323.1 457.2L327.1 474.0" fill="none" stroke="#3a7a4a" stroke-width="0.9"/>
<circle cx="185.3" cy="346.5" r="3.90" fill="#fff" stroke="#3f8049" stroke-width="0.9"/>
<circle cx="189.1" cy="352.3" r="3.90" fill="#fff" stroke="#3f8049" stroke-width="0.9"/>
<circle cx="196.7" cy="359.0" r="3.90" fill="#fff" stroke="#3f8049" stroke-width="0.9"/>
<circle cx="200.4" cy="364.8" r="3.90" fill="#fff" stroke="#3f8049" stroke-width="0.9"/>
<circle cx="204.2" cy="360.8" r="3.90" fill="#fff" stroke="#3f8049" stroke-width="0.9"/>
<circle cx="207.6" cy="365.7" r="3.90" fill="#fff" stroke="#3f8049" stroke-width="0.9"/>
<circle cx="211.2" cy="370.1" r="3.90" fill="#fff" stroke="#3f8049" stroke-width="0.9"/>
<circle cx="215.5" cy="369.7" r="3.90" fill="#fff" stroke="#3f8049" stroke-width="0.9"/>
<circle cx="219.5" cy="372.3" r="3.90" fill="#fff" stroke="#3f8049" stroke-width="0.9"/>
<circle cx="223.4" cy="374.6" r="3.90" fill="#fff" stroke="#3f8049" stroke-width="0.9"/>
<circle cx="227.3" cy="376.3" r="3.90" fill="#fff" stroke="#3f8049" stroke-width="0.9"/>
<circle cx="231.3" cy="378.3" r="3.90" fill="#fff" stroke="#3f8049" stroke-width="0.9"/>
<circle cx="235.1" cy="380.6" r="3.90" fill="#fff" stroke="#3f8049" stroke-width="0.9"/>
<circle cx="239.0" cy="383.0" r="3.90" fill="#fff" stroke="#3f8049" stroke-width="0.9"/>
<circle cx="242.9" cy="385.4" r="3.90" fill="#fff" stroke="#3f8049" stroke-width="0.9"/>
<circle cx="246.8" cy="387.7" r="3.90" fill="#fff" stroke="#3f8049" stroke-width="0.9"/>
<circle cx="250.7" cy="390.1" r="3.90" fill="#fff" stroke="#3f8049" stroke-width="0.9"/>
<circle cx="254.6" cy="392.3" r="3.90" fill="#fff" stroke="#3f8049" stroke-width="0.9"/>
<circle cx="258.5" cy="394.5" r="3.90" fill="#fff" stroke="#3f8049" stroke-width="0.9"/>
<circle cx="262.4" cy="396.7" r="3.90" fill="#fff" stroke="#3f8049" stroke-width="0.9"/>
<circle cx="266.3" cy="399.0" r="3.90" fill="#fff" stroke="#3f8049" stroke-width="0.9"/>
<circle cx="270.2" cy="401.2" r="3.90" fill="#fff" stroke="#3f8049" stroke-width="0.9"/>
<circle cx="274.1" cy="403.4" r="3.90" fill="#fff" stroke="#3f8049" stroke-width="0.9"/>
<circle cx="279.5" cy="406.7" r="3.90" fill="#fff" stroke="#3f8049" stroke-width="0.9"/>
<circle cx="283.2" cy="409.2" r="3.90" fill="#fff" stroke="#3f8049" stroke-width="0.9"/>
<circle cx="287.1" cy="412.0" r="3.90" fill="#fff" stroke="#3f8049" stroke-width="0.9"/>
<circle cx="290.9" cy="415.0" r="3.90" fill="#fff" stroke="#3f8049" stroke-width="0.9"/>
<circle cx="295.7" cy="418.7" r="3.90" fill="#fff" stroke="#3f8049" stroke-width="0.9"/>
<circle cx="299.8" cy="422.2" r="3.90" fill="#fff" stroke="#3f8049" stroke-width="0.9"/>
<circle cx="303.6" cy="425.3" r="3.90" fill="#fff" stroke="#3f8049" stroke-width="0.9"/>
<circle cx="307.7" cy="429.1" r="3.90" fill="#fff" stroke="#3f8049" stroke-width="0.9"/>
<circle cx="311.5" cy="433.7" r="3.90" fill="#fff" stroke="#3f8049" stroke-width="0.9"/>
<circle cx="315.7" cy="439.3" r="3.90" fill="#fff" stroke="#3f8049" stroke-width="0.9"/>
<circle cx="319.4" cy="446.7" r="3.90" fill="#fff" stroke="#3f8049" stroke-width="0.9"/>
<circle cx="323.1" cy="457.2" r="3.90" fill="#fff" stroke="#3f8049" stroke-width="0.9"/>
<circle cx="327.1" cy="474.0" r="3.90" fill="#fff" stroke="#3f8049" stroke-width="0.9"/>
</g>
<g id="pd">
<path d="M585.3 380.9L589.4 384.2L596.5 388.4L600.5 389.8L604.2 386.7L607.7 388.4L611.5 389.8L615.5 390.9L619.4 390.4L623.4 392.1L631.6 435.7L635.4 489.3" fill="none" stroke="#f06060" stroke-width="0.9"/>
<circle cx="585.3" cy="380.9" r="3.60" fill="#fff" stroke="#f23c3c" stroke-width="0.9"/>
<circle cx="589.4" cy="384.2" r="3.60" fill="#fff" stroke="#f23c3c" stroke-width="0.9"/>
<circle cx="596.5" cy="388.4" r="3.60" fill="#fff" stroke="#f23c3c" stroke-width="0.9"/>
<circle cx="600.5" cy="389.8" r="3.60" fill="#fff" stroke="#f23c3c" stroke-width="0.9"/>
<circle cx="604.2" cy="386.7" r="3.60" fill="#fff" stroke="#f23c3c" stroke-width="0.9"/>
<circle cx="607.7" cy="388.4" r="3.60" fill="#fff" stroke="#f23c3c" stroke-width="0.9"/>
<circle cx="611.5" cy="389.8" r="3.60" fill="#fff" stroke="#f23c3c" stroke-width="0.9"/>
<circle cx="615.5" cy="390.9" r="3.60" fill="#fff" stroke="#f23c3c" stroke-width="0.9"/>
<circle cx="619.4" cy="390.4" r="3.60" fill="#fff" stroke="#f23c3c" stroke-width="0.9"/>
<circle cx="623.4" cy="392.1" r="3.60" fill="#fff" stroke="#f23c3c" stroke-width="0.9"/>
<circle cx="631.6" cy="435.7" r="3.60" fill="#fff" stroke="#f23c3c" stroke-width="0.9"/>
<circle cx="635.4" cy="489.3" r="3.60" fill="#fff" stroke="#f23c3c" stroke-width="0.9"/>
<path d="M574.4 376.8L578.4 378.6L585.5 385.1L589.5 387.4L593.3 386.0L596.8 388.3L600.6 389.3L604.5 389.7L608.5 390.2L612.4 392.0L616.3 392.0L620.3 393.9L624.2 393.8L628.1 395.7L636.0 442.7L639.9 482.1" fill="none" stroke="#50a050" stroke-width="0.9"/>
<rect x="570.4" y="372.8" width="8.0" height="8.0" fill="#fff" stroke="#42a442" stroke-width="0.9"/>
<rect x="574.4" y="374.6" width="8.0" height="8.0" fill="#fff" stroke="#42a442" stroke-width="0.9"/>
<rect x="581.5" y="381.1" width="8.0" height="8.0" fill="#fff" stroke="#42a442" stroke-width="0.9"/>
<rect x="585.5" y="383.4" width="8.0" height="8.0" fill="#fff" stroke="#42a442" stroke-width="0.9"/>
<rect x="589.3" y="382.0" width="8.0" height="8.0" fill="#fff" stroke="#42a442" stroke-width="0.9"/>
<rect x="592.8" y="384.3" width="8.0" height="8.0" fill="#fff" stroke="#42a442" stroke-width="0.9"/>
<rect x="596.6" y="385.3" width="8.0" height="8.0" fill="#fff" stroke="#42a442" stroke-width="0.9"/>
<rect x="600.5" y="385.7" width="8.0" height="8.0" fill="#fff" stroke="#42a442" stroke-width="0.9"/>
<rect x="604.5" y="386.2" width="8.0" height="8.0" fill="#fff" stroke="#42a442" stroke-width="0.9"/>
<rect x="608.4" y="388.0" width="8.0" height="8.0" fill="#fff" stroke="#42a442" stroke-width="0.9"/>
<rect x="612.3" y="388.0" width="8.0" height="8.0" fill="#fff" stroke="#42a442" stroke-width="0.9"/>
<rect x="616.3" y="389.9" width="8.0" height="8.0" fill="#fff" stroke="#42a442" stroke-width="0.9"/>
<rect x="620.2" y="389.8" width="8.0" height="8.0" fill="#fff" stroke="#42a442" stroke-width="0.9"/>
<rect x="624.1" y="391.7" width="8.0" height="8.0" fill="#fff" stroke="#42a442" stroke-width="0.9"/>
<rect x="632.0" y="438.7" width="8.0" height="8.0" fill="#fff" stroke="#42a442" stroke-width="0.9"/>
<rect x="635.9" y="478.1" width="8.0" height="8.0" fill="#fff" stroke="#42a442" stroke-width="0.9"/>
<path d="M558.4 374.9L562.5 378.6L569.6 382.7L573.5 385.0L577.3 382.2L580.8 384.6L584.6 385.9L588.6 387.3L592.5 387.8L596.4 389.6L600.4 389.6L604.3 391.5L608.2 391.5L612.2 393.4L616.1 393.4L620.0 395.2L623.9 395.2L627.9 397.0L638.8 443.7L642.5 478.8L646.4 496.6" fill="none" stroke="#5050ff" stroke-width="0.9"/>
<path d="M558.4 370.5L562.8 374.9L558.4 379.3L554.0 374.9Z" fill="#fff" stroke="#3030f8" stroke-width="0.9"/>
<path d="M562.5 374.2L566.9 378.6L562.5 383.0L558.1 378.6Z" fill="#fff" stroke="#3030f8" stroke-width="0.9"/>
<path d="M569.6 378.3L574.0 382.7L569.6 387.1L565.2 382.7Z" fill="#fff" stroke="#3030f8" stroke-width="0.9"/>
<path d="M573.5 380.6L577.9 385.0L573.5 389.4L569.1 385.0Z" fill="#fff" stroke="#3030f8" stroke-width="0.9"/>
<path d="M577.3 377.8L581.7 382.2L577.3 386.6L572.9 382.2Z" fill="#fff" stroke="#3030f8" stroke-width="0.9"/>
<path d="M580.8 380.2L585.2 384.6L580.8 389.0L576.4 384.6Z" fill="#fff" stroke="#3030f8" stroke-width="0.9"/>
<path d="M584.6 381.5L589.0 385.9L584.6 390.3L580.2 385.9Z" fill="#fff" stroke="#3030f8" stroke-width="0.9"/>
<path d="M588.6 382.9L593.0 387.3L588.6 391.7L584.2 387.3Z" fill="#fff" stroke="#3030f8" stroke-width="0.9"/>
<path d="M592.5 383.4L596.9 387.8L592.5 392.2L588.1 387.8Z" fill="#fff" stroke="#3030f8" stroke-width="0.9"/>
<path d="M596.4 385.2L600.8 389.6L596.4 394.0L592.0 389.6Z" fill="#fff" stroke="#3030f8" stroke-width="0.9"/>
<path d="M600.4 385.2L604.8 389.6L600.4 394.0L596.0 389.6Z" fill="#fff" stroke="#3030f8" stroke-width="0.9"/>
<path d="M604.3 387.1L608.7 391.5L604.3 395.9L599.9 391.5Z" fill="#fff" stroke="#3030f8" stroke-width="0.9"/>
<path d="M608.2 387.1L612.6 391.5L608.2 395.9L603.8 391.5Z" fill="#fff" stroke="#3030f8" stroke-width="0.9"/>
<path d="M612.2 389.0L616.6 393.4L612.2 397.8L607.8 393.4Z" fill="#fff" stroke="#3030f8" stroke-width="0.9"/>
<path d="M616.1 389.0L620.5 393.4L616.1 397.8L611.7 393.4Z" fill="#fff" stroke="#3030f8" stroke-width="0.9"/>
<path d="M620.0 390.8L624.4 395.2L620.0 399.6L615.6 395.2Z" fill="#fff" stroke="#3030f8" stroke-width="0.9"/>
<path d="M623.9 390.8L628.3 395.2L623.9 399.6L619.5 395.2Z" fill="#fff" stroke="#3030f8" stroke-width="0.9"/>
<path d="M627.9 392.6L632.3 397.0L627.9 401.4L623.5 397.0Z" fill="#fff" stroke="#3030f8" stroke-width="0.9"/>
<path d="M638.8 439.3L643.2 443.7L638.8 448.1L634.4 443.7Z" fill="#fff" stroke="#3030f8" stroke-width="0.9"/>
<path d="M642.5 474.4L646.9 478.8L642.5 483.2L638.1 478.8Z" fill="#fff" stroke="#3030f8" stroke-width="0.9"/>
<path d="M646.4 492.2L650.8 496.6L646.4 501.0L642.0 496.6Z" fill="#fff" stroke="#3030f8" stroke-width="0.9"/>
<path d="M529.8 359.2L533.7 362.3L537.7 363.5L541.6 366.6L545.5 367.9L549.4 371.0L553.4 372.2L557.3 374.8L561.2 375.3L565.2 377.8L569.1 378.3L573.0 380.7L577.0 381.4L580.9 384.1L584.8 385.0L588.7 387.7L592.7 388.5L596.6 390.9L600.5 390.8L604.5 392.6L608.4 392.5L612.3 394.2L616.3 394.3L620.2 396.3L624.1 396.5L628.0 398.5L632.0 398.7L642.3 429.4L645.3 453.4L649.6 489.5" fill="none" stroke="#f060f0" stroke-width="0.9"/>
<path d="M529.8 354.8L534.0 362.7L525.6 362.7Z" fill="#fff" stroke="#f236f2" stroke-width="0.9"/>
<path d="M533.7 357.9L537.9 365.8L529.5 365.8Z" fill="#fff" stroke="#f236f2" stroke-width="0.9"/>
<path d="M537.7 359.1L541.9 367.1L533.5 367.1Z" fill="#fff" stroke="#f236f2" stroke-width="0.9"/>
<path d="M541.6 362.2L545.8 370.2L537.4 370.2Z" fill="#fff" stroke="#f236f2" stroke-width="0.9"/>
<path d="M545.5 363.5L549.7 371.5L541.3 371.5Z" fill="#fff" stroke="#f236f2" stroke-width="0.9"/>
<path d="M549.4 366.6L553.6 374.6L545.2 374.6Z" fill="#fff" stroke="#f236f2" stroke-width="0.9"/>
<path d="M553.4 367.8L557.6 375.8L549.2 375.8Z" fill="#fff" stroke="#f236f2" stroke-width="0.9"/>
<path d="M557.3 370.3L561.5 378.3L553.1 378.3Z" fill="#fff" stroke="#f236f2" stroke-width="0.9"/>
<path d="M561.2 370.9L565.4 378.9L557.0 378.9Z" fill="#fff" stroke="#f236f2" stroke-width="0.9"/>
<path d="M565.2 373.3L569.4 381.3L561.0 381.3Z" fill="#fff" stroke="#f236f2" stroke-width="0.9"/>
<path d="M569.1 373.9L573.3 381.9L564.9 381.9Z" fill="#fff" stroke="#f236f2" stroke-width="0.9"/>
<path d="M573.0 376.3L577.2 384.3L568.8 384.3Z" fill="#fff" stroke="#f236f2" stroke-width="0.9"/>
<path d="M577.0 377.0L581.2 385.0L572.8 385.0Z" fill="#fff" stroke="#f236f2" stroke-width="0.9"/>
<path d="M580.9 379.7L585.1 387.7L576.7 387.7Z" fill="#fff" stroke="#f236f2" stroke-width="0.9"/>
<path d="M584.8 380.5L589.0 388.5L580.6 388.5Z" fill="#fff" stroke="#f236f2" stroke-width="0.9"/>
<path d="M588.7 383.2L592.9 391.2L584.5 391.2Z" fill="#fff" stroke="#f236f2" stroke-width="0.9"/>
<path d="M592.7 384.1L596.9 392.1L588.5 392.1Z" fill="#fff" stroke="#f236f2" stroke-width="0.9"/>
<path d="M596.6 386.5L600.8 394.4L592.4 394.4Z" fill="#fff" stroke="#f236f2" stroke-width="0.9"/>
<path d="M600.5 386.4L604.7 394.4L596.3 394.4Z" fill="#fff" stroke="#f236f2" stroke-width="0.9"/>
<path d="M604.5 388.1L608.7 396.1L600.3 396.1Z" fill="#fff" stroke="#f236f2" stroke-width="0.9"/>
<path d="M608.4 388.1L612.6 396.0L604.2 396.0Z" fill="#fff" stroke="#f236f2" stroke-width="0.9"/>
<path d="M612.3 389.8L616.5 397.8L608.1 397.8Z" fill="#fff" stroke="#f236f2" stroke-width="0.9"/>
<path d="M616.3 389.9L620.5 397.8L612.1 397.8Z" fill="#fff" stroke="#f236f2" stroke-width="0.9"/>
<path d="M620.2 391.9L624.4 399.9L616.0 399.9Z" fill="#fff" stroke="#f236f2" stroke-width="0.9"/>
<path d="M624.1 392.1L628.3 400.1L619.9 400.1Z" fill="#fff" stroke="#f236f2" stroke-width="0.9"/>
<path d="M628.0 394.1L632.2 402.1L623.8 402.1Z" fill="#fff" stroke="#f236f2" stroke-width="0.9"/>
<path d="M632.0 394.3L636.2 402.3L627.8 402.3Z" fill="#fff" stroke="#f236f2" stroke-width="0.9"/>
<path d="M642.3 425.0L646.5 432.9L638.1 432.9Z" fill="#fff" stroke="#f236f2" stroke-width="0.9"/>
<path d="M645.3 449.0L649.5 457.0L641.1 457.0Z" fill="#fff" stroke="#f236f2" stroke-width="0.9"/>
<path d="M649.6 485.1L653.8 493.1L645.4 493.1Z" fill="#fff" stroke="#f236f2" stroke-width="0.9"/>
<path d="M508.5 348.3L512.4 350.9L516.3 352.5L520.3 355.0L524.2 356.6L528.1 359.2L532.0 360.7L536.0 363.3L539.9 364.9L543.8 367.5L547.8 369.1L551.7 371.7L555.6 373.3L559.6 375.9L563.5 377.5L567.4 380.0L571.3 381.7L575.3 384.2L579.2 385.9L583.1 389.0L588.6 388.6L591.2 391.5L593.9 389.9L596.5 392.9L599.1 391.3L601.7 394.2L604.3 392.7L607.0 395.6L609.6 394.1L612.2 397.0L614.8 395.5L617.4 398.5L620.1 397.0L622.7 399.9L625.3 398.5L627.9 401.4L630.5 399.9L633.2 402.9L635.8 401.4L643.8 438.7L647.3 460.0L651.5 491.9" fill="none" stroke="#d08050" stroke-width="0.9"/>
<path d="M508.5 344.6V352.0M505.3 346.5L511.7 350.2M505.3 350.2L511.7 346.5" stroke="#d2691e" fill="none"/>
<path d="M512.4 347.2V354.6M509.2 349.0L515.6 352.7M509.2 352.7L515.6 349.0" stroke="#d2691e" fill="none"/>
<path d="M516.3 348.8V356.2M513.1 350.6L519.5 354.3M513.1 354.3L519.5 350.6" stroke="#d2691e" fill="none"/>
<path d="M520.3 351.3V358.7M517.0 353.2L523.5 356.9M517.0 356.9L523.5 353.2" stroke="#d2691e" fill="none"/>
<path d="M524.2 352.9V360.3M521.0 354.7L527.4 358.4M521.0 358.4L527.4 354.7" stroke="#d2691e" fill="none"/>
<path d="M528.1 355.5V362.9M524.9 357.3L531.3 361.0M524.9 361.0L531.3 357.3" stroke="#d2691e" fill="none"/>
<path d="M532.0 357.0V364.4M528.8 358.9L535.2 362.6M528.8 362.6L535.2 358.9" stroke="#d2691e" fill="none"/>
<path d="M536.0 359.6V367.0M532.8 361.5L539.2 365.2M532.8 365.2L539.2 361.5" stroke="#d2691e" fill="none"/>
<path d="M539.9 361.2V368.6M536.7 363.0L543.1 366.7M536.7 366.7L543.1 363.0" stroke="#d2691e" fill="none"/>
<path d="M543.8 363.8V371.2M540.6 365.7L547.0 369.4M540.6 369.4L547.0 365.7" stroke="#d2691e" fill="none"/>
<path d="M547.8 365.4V372.8M544.6 367.2L551.0 370.9M544.6 370.9L551.0 367.2" stroke="#d2691e" fill="none"/>
<path d="M551.7 368.0V375.4M548.5 369.8L554.9 373.5M548.5 373.5L554.9 369.8" stroke="#d2691e" fill="none"/>
<path d="M555.6 369.6V377.0M552.4 371.4L558.8 375.1M552.4 375.1L558.8 371.4" stroke="#d2691e" fill="none"/>
<path d="M559.6 372.2V379.6M556.3 374.0L562.8 377.7M556.3 377.7L562.8 374.0" stroke="#d2691e" fill="none"/>
<path d="M563.5 373.8V381.2M560.3 375.6L566.7 379.3M560.3 379.3L566.7 375.6" stroke="#d2691e" fill="none"/>
<path d="M567.4 376.3V383.7M564.2 378.2L570.6 381.9M564.2 381.9L570.6 378.2" stroke="#d2691e" fill="none"/>
<path d="M571.3 378.0V385.4M568.1 379.8L574.5 383.5M568.1 383.5L574.5 379.8" stroke="#d2691e" fill="none"/>
<path d="M575.3 380.5V387.9M572.1 382.4L578.5 386.1M572.1 386.1L578.5 382.4" stroke="#d2691e" fill="none"/>
<path d="M579.2 382.2V389.6M576.0 384.0L582.4 387.7M576.0 387.7L582.4 384.0" stroke="#d2691e" fill="none"/>
<path d="M583.1 385.3V392.7M579.9 387.1L586.3 390.8M579.9 390.8L586.3 387.1" stroke="#d2691e" fill="none"/>
<path d="M588.6 384.9V392.3M585.4 386.7L591.8 390.4M585.4 390.4L591.8 386.7" stroke="#d2691e" fill="none"/>
<path d="M591.2 387.8V395.2M588.0 389.6L594.4 393.3M588.0 393.3L594.4 389.6" stroke="#d2691e" fill="none"/>
<path d="M593.9 386.2V393.6M590.7 388.1L597.1 391.8M590.7 391.8L597.1 388.1" stroke="#d2691e" fill="none"/>
<path d="M596.5 389.2V396.6M593.3 391.0L599.7 394.7M593.3 394.7L599.7 391.0" stroke="#d2691e" fill="none"/>
<path d="M599.1 387.6V395.0M595.9 389.5L602.3 393.2M595.9 393.2L602.3 389.5" stroke="#d2691e" fill="none"/>
<path d="M601.7 390.5V397.9M598.5 392.4L604.9 396.1M598.5 396.1L604.9 392.4" stroke="#d2691e" fill="none"/>
<path d="M604.3 389.0V396.4M601.1 390.9L607.5 394.6M601.1 394.6L607.5 390.9" stroke="#d2691e" fill="none"/>
<path d="M607.0 391.9V399.3M603.8 393.8L610.2 397.5M603.8 397.5L610.2 393.8" stroke="#d2691e" fill="none"/>
<path d="M609.6 390.4V397.8M606.4 392.2L612.8 395.9M606.4 395.9L612.8 392.2" stroke="#d2691e" fill="none"/>
<path d="M612.2 393.3V400.7M609.0 395.2L615.4 398.9M609.0 398.9L615.4 395.2" stroke="#d2691e" fill="none"/>
<path d="M614.8 391.8V399.2M611.6 393.7L618.0 397.4M611.6 397.4L618.0 393.7" stroke="#d2691e" fill="none"/>
<path d="M617.4 394.8V402.2M614.2 396.6L620.6 400.3M614.2 400.3L620.6 396.6" stroke="#d2691e" fill="none"/>
<path d="M620.1 393.3V400.7M616.9 395.1L623.3 398.8M616.9 398.8L623.3 395.1" stroke="#d2691e" fill="none"/>
<path d="M622.7 396.2V403.6M619.5 398.1L625.9 401.8M619.5 401.8L625.9 398.1" stroke="#d2691e" fill="none"/>
<path d="M625.3 394.8V402.2M622.1 396.6L628.5 400.3M622.1 400.3L628.5 396.6" stroke="#d2691e" fill="none"/>
<path d="M627.9 397.7V405.1M624.7 399.6L631.1 403.3M624.7 403.3L631.1 399.6" stroke="#d2691e" fill="none"/>
<path d="M630.5 396.2V403.6M627.3 398.1L633.7 401.8M627.3 401.8L633.7 398.1" stroke="#d2691e" fill="none"/>
<path d="M633.2 399.2V406.6M630.0 401.0L636.4 404.7M630.0 404.7L636.4 401.0" stroke="#d2691e" fill="none"/>
<path d="M635.8 397.7V405.1M632.6 399.6L639.0 403.3M632.6 403.3L639.0 399.6" stroke="#d2691e" fill="none"/>
<path d="M643.8 435.0V442.4M640.6 436.8L647.0 440.5M640.6 440.5L647.0 436.8" stroke="#d2691e" fill="none"/>
<path d="M647.3 456.3V463.7M644.1 458.2L650.5 461.9M644.1 461.9L650.5 458.2" stroke="#d2691e" fill="none"/>
<path d="M651.5 488.2V495.6M648.3 490.0L654.7 493.7M648.3 493.7L654.7 490.0" stroke="#d2691e" fill="none"/>
<path d="M492.7 342.5L496.6 345.0L500.5 346.6L504.5 349.2L508.4 350.8L512.3 353.3L516.3 354.9L520.2 357.5L524.1 359.1L528.1 361.7L532.0 363.2L535.9 365.8L539.8 367.4L543.8 370.0L547.7 371.6L551.6 374.2L555.6 375.8L559.5 378.3L563.4 380.0L567.4 382.5L571.3 384.2L575.2 386.7L579.1 388.4L583.1 387.0L587.0 386.9L590.9 388.7L593.1 386.9L596.2 389.3L599.3 388.7L602.4 391.0L605.5 390.4L608.6 392.8L611.8 392.3L614.9 394.7L618.0 394.1L621.1 396.6L624.2 396.0L627.3 398.4L630.4 397.9L636.8 405.3L644.0 435.2L647.5 457.2L651.2 485.6" fill="none" stroke="#404040" stroke-width="0.9"/>
<path d="M488.7 338.5L496.7 346.5M488.7 346.5L496.7 338.5" stroke="#222222" fill="none"/>
<path d="M492.6 341.0L500.6 349.0M492.6 349.0L500.6 341.0" stroke="#222222" fill="none"/>
<path d="M496.6 342.7L504.5 350.6M496.6 350.6L504.5 342.7" stroke="#222222" fill="none"/>
<path d="M500.5 345.2L508.5 353.1M500.5 353.1L508.5 345.2" stroke="#222222" fill="none"/>
<path d="M504.4 346.8L512.4 354.8M504.4 354.8L512.4 346.8" stroke="#222222" fill="none"/>
<path d="M508.4 349.4L516.3 357.3M508.4 357.3L516.3 349.4" stroke="#222222" fill="none"/>
<path d="M512.3 350.9L520.2 358.9M512.3 358.9L520.2 350.9" stroke="#222222" fill="none"/>
<path d="M516.2 353.5L524.2 361.5M516.2 361.5L524.2 353.5" stroke="#222222" fill="none"/>
<path d="M520.2 355.1L528.1 363.0M520.2 363.0L528.1 355.1" stroke="#222222" fill="none"/>
<path d="M524.1 357.7L532.0 365.6M524.1 365.6L532.0 357.7" stroke="#222222" fill="none"/>
<path d="M528.0 359.2L536.0 367.2M528.0 367.2L536.0 359.2" stroke="#222222" fill="none"/>
<path d="M531.9 361.8L539.9 369.8M531.9 369.8L539.9 361.8" stroke="#222222" fill="none"/>
<path d="M535.9 363.4L543.8 371.3M535.9 371.3L543.8 363.4" stroke="#222222" fill="none"/>
<path d="M539.8 366.0L547.8 374.0M539.8 374.0L547.8 366.0" stroke="#222222" fill="none"/>
<path d="M543.7 367.6L551.7 375.5M543.7 375.5L551.7 367.6" stroke="#222222" fill="none"/>
<path d="M547.7 370.2L555.6 378.1M547.7 378.1L555.6 370.2" stroke="#222222" fill="none"/>
<path d="M551.6 371.8L559.5 379.7M551.6 379.7L559.5 371.8" stroke="#222222" fill="none"/>
<path d="M555.5 374.4L563.5 382.3M555.5 382.3L563.5 374.4" stroke="#222222" fill="none"/>
<path d="M559.5 376.0L567.4 383.9M559.5 383.9L567.4 376.0" stroke="#222222" fill="none"/>
<path d="M563.4 378.5L571.3 386.5M563.4 386.5L571.3 378.5" stroke="#222222" fill="none"/>
<path d="M567.3 380.2L575.3 388.1M567.3 388.1L575.3 380.2" stroke="#222222" fill="none"/>
<path d="M571.2 382.7L579.2 390.7M571.2 390.7L579.2 382.7" stroke="#222222" fill="none"/>
<path d="M575.2 384.4L583.1 392.4M575.2 392.4L583.1 384.4" stroke="#222222" fill="none"/>
<path d="M579.1 383.0L587.1 391.0M579.1 391.0L587.1 383.0" stroke="#222222" fill="none"/>
<path d="M583.0 382.9L591.0 390.9M583.0 390.9L591.0 382.9" stroke="#222222" fill="none"/>
<path d="M587.0 384.7L594.9 392.6M587.0 392.6L594.9 384.7" stroke="#222222" fill="none"/>
<path d="M589.1 382.9L597.1 390.9M589.1 390.9L597.1 382.9" stroke="#222222" fill="none"/>
<path d="M592.3 385.3L600.2 393.2M592.3 393.2L600.2 385.3" stroke="#222222" fill="none"/>
<path d="M595.4 384.7L603.3 392.6M595.4 392.6L603.3 384.7" stroke="#222222" fill="none"/>
<path d="M598.5 387.1L606.4 395.0M598.5 395.0L606.4 387.1" stroke="#222222" fill="none"/>
<path d="M601.6 386.5L609.5 394.4M601.6 394.4L609.5 386.5" stroke="#222222" fill="none"/>
<path d="M604.7 388.8L612.6 396.8M604.7 396.8L612.6 388.8" stroke="#222222" fill="none"/>
<path d="M607.8 388.3L615.7 396.3M607.8 396.3L615.7 388.3" stroke="#222222" fill="none"/>
<path d="M610.9 390.7L618.8 398.7M610.9 398.7L618.8 390.7" stroke="#222222" fill="none"/>
<path d="M614.0 390.2L621.9 398.1M614.0 398.1L621.9 390.2" stroke="#222222" fill="none"/>
<path d="M617.1 392.6L625.0 400.5M617.1 400.5L625.0 392.6" stroke="#222222" fill="none"/>
<path d="M620.2 392.0L628.1 400.0M620.2 400.0L628.1 392.0" stroke="#222222" fill="none"/>
<path d="M623.3 394.4L631.3 402.4M623.3 402.4L631.3 394.4" stroke="#222222" fill="none"/>
<path d="M626.4 393.9L634.4 401.9M626.4 401.9L634.4 393.9" stroke="#222222" fill="none"/>
<path d="M632.8 401.3L640.8 409.3M632.8 409.3L640.8 401.3" stroke="#222222" fill="none"/>
<path d="M640.0 431.2L647.9 439.2M640.0 439.2L647.9 431.2" stroke="#222222" fill="none"/>
<path d="M643.5 453.2L651.4 461.2M643.5 461.2L651.4 453.2" stroke="#222222" fill="none"/>
<path d="M647.2 481.6L655.1 489.5M647.2 489.5L655.1 481.6" stroke="#222222" fill="none"/>
<path d="M459.1 323.0L462.0 324.6L464.9 326.5L467.8 327.8L470.8 329.8L473.7 331.5L476.6 332.9L479.5 334.9L482.4 336.3L485.3 337.7L488.2 339.6L491.1 340.8L494.0 342.4L497.0 344.1L499.9 345.3L502.8 347.1L505.7 348.6L508.6 349.9L511.5 351.9L514.4 353.1L517.3 354.6L520.2 356.5L523.2 357.6L526.1 359.4L529.0 361.0L531.9 362.2L534.8 364.1L537.7 365.5L540.6 366.9L543.5 368.8L546.4 370.1L549.4 371.6L552.3 373.5L555.2 374.6L558.1 376.4L561.0 378.0L563.9 379.2L566.8 381.2L569.7 382.6L572.6 384.0L575.6 385.9L578.5 387.1L581.4 388.7L584.3 389.3L587.2 388.6L590.1 390.2L593.0 389.6L595.9 391.2L598.8 390.9L601.8 392.8L604.7 392.6L607.6 394.6L610.5 394.3L613.4 396.3L616.3 396.1L619.2 398.2L622.1 398.0L625.0 400.1L628.0 399.9L630.9 402.0L636.4 414.3L640.5 427.1L644.7 442.6L648.4 460.9L652.3 483.7" fill="none" stroke="#30e0e0" stroke-width="0.9"/>
<path d="M459.1 319.5L459.9 321.8L462.4 321.9L460.4 323.4L461.2 325.8L459.1 324.4L457.1 325.8L457.8 323.4L455.8 321.9L458.3 321.8Z" fill="#00e5e5" stroke="#00e5e5" stroke-width="0.5"/>
<path d="M462.0 321.1L462.9 323.5L465.4 323.5L463.4 325.0L464.1 327.4L462.0 326.0L460.0 327.4L460.7 325.0L458.7 323.5L461.2 323.5Z" fill="#00e5e5" stroke="#00e5e5" stroke-width="0.5"/>
<path d="M464.9 323.0L465.8 325.3L468.3 325.4L466.3 326.9L467.0 329.3L464.9 327.9L462.9 329.3L463.6 326.9L461.6 325.4L464.1 325.3Z" fill="#00e5e5" stroke="#00e5e5" stroke-width="0.5"/>
<path d="M467.8 324.3L468.7 326.6L471.2 326.7L469.2 328.2L469.9 330.6L467.8 329.2L465.8 330.6L466.5 328.2L464.5 326.7L467.0 326.6Z" fill="#00e5e5" stroke="#00e5e5" stroke-width="0.5"/>
<path d="M470.8 326.3L471.6 328.6L474.1 328.7L472.1 330.2L472.8 332.6L470.8 331.2L468.7 332.6L469.4 330.2L467.4 328.7L469.9 328.6Z" fill="#00e5e5" stroke="#00e5e5" stroke-width="0.5"/>
<path d="M473.7 328.0L474.5 330.4L477.0 330.4L475.0 331.9L475.7 334.3L473.7 332.9L471.6 334.3L472.3 331.9L470.3 330.4L472.8 330.4Z" fill="#00e5e5" stroke="#00e5e5" stroke-width="0.5"/>
<path d="M476.6 329.4L477.4 331.7L479.9 331.8L477.9 333.3L478.6 335.7L476.6 334.3L474.5 335.7L475.3 333.3L473.3 331.8L475.8 331.7Z" fill="#00e5e5" stroke="#00e5e5" stroke-width="0.5"/>
<path d="M479.5 331.4L480.3 333.8L482.8 333.8L480.8 335.3L481.6 337.7L479.5 336.3L477.4 337.7L478.2 335.3L476.2 333.8L478.7 333.8Z" fill="#00e5e5" stroke="#00e5e5" stroke-width="0.5"/>
<path d="M482.4 332.8L483.2 335.1L485.7 335.2L483.7 336.7L484.5 339.1L482.4 337.7L480.3 339.1L481.1 336.7L479.1 335.2L481.6 335.1Z" fill="#00e5e5" stroke="#00e5e5" stroke-width="0.5"/>
<path d="M485.3 334.2L486.1 336.6L488.6 336.6L486.6 338.1L487.4 340.5L485.3 339.1L483.3 340.5L484.0 338.1L482.0 336.6L484.5 336.6Z" fill="#00e5e5" stroke="#00e5e5" stroke-width="0.5"/>
<path d="M488.2 336.1L489.1 338.5L491.6 338.6L489.6 340.1L490.3 342.5L488.2 341.0L486.2 342.5L486.9 340.1L484.9 338.6L487.4 338.5Z" fill="#00e5e5" stroke="#00e5e5" stroke-width="0.5"/>
<path d="M491.1 337.3L492.0 339.6L494.5 339.7L492.5 341.2L493.2 343.6L491.1 342.2L489.1 343.6L489.8 341.2L487.8 339.7L490.3 339.6Z" fill="#00e5e5" stroke="#00e5e5" stroke-width="0.5"/>
<path d="M494.0 338.9L494.9 341.3L497.4 341.3L495.4 342.8L496.1 345.2L494.0 343.8L492.0 345.2L492.7 342.8L490.7 341.3L493.2 341.3Z" fill="#00e5e5" stroke="#00e5e5" stroke-width="0.5"/>
<path d="M497.0 340.6L497.8 343.0L500.3 343.1L498.3 344.6L499.0 347.0L497.0 345.5L494.9 347.0L495.6 344.6L493.6 343.1L496.1 343.0Z" fill="#00e5e5" stroke="#00e5e5" stroke-width="0.5"/>
<path d="M499.9 341.8L500.7 344.1L503.2 344.2L501.2 345.7L501.9 348.1L499.9 346.7L497.8 348.1L498.5 345.7L496.5 344.2L499.0 344.1Z" fill="#00e5e5" stroke="#00e5e5" stroke-width="0.5"/>
<path d="M502.8 343.6L503.6 346.0L506.1 346.1L504.1 347.6L504.8 350.0L502.8 348.5L500.7 350.0L501.5 347.6L499.5 346.1L502.0 346.0Z" fill="#00e5e5" stroke="#00e5e5" stroke-width="0.5"/>
<path d="M505.7 345.1L506.5 347.5L509.0 347.6L507.0 349.1L507.8 351.5L505.7 350.0L503.6 351.5L504.4 349.1L502.4 347.6L504.9 347.5Z" fill="#00e5e5" stroke="#00e5e5" stroke-width="0.5"/>
<path d="M508.6 346.4L509.4 348.8L511.9 348.8L509.9 350.3L510.7 352.7L508.6 351.3L506.5 352.7L507.3 350.3L505.3 348.8L507.8 348.8Z" fill="#00e5e5" stroke="#00e5e5" stroke-width="0.5"/>
<path d="M511.5 348.4L512.3 350.7L514.8 350.8L512.8 352.3L513.6 354.7L511.5 353.3L509.5 354.7L510.2 352.3L508.2 350.8L510.7 350.7Z" fill="#00e5e5" stroke="#00e5e5" stroke-width="0.5"/>
<path d="M514.4 349.6L515.3 352.0L517.8 352.1L515.8 353.6L516.5 356.0L514.4 354.5L512.4 356.0L513.1 353.6L511.1 352.1L513.6 352.0Z" fill="#00e5e5" stroke="#00e5e5" stroke-width="0.5"/>
<path d="M517.3 351.1L518.2 353.5L520.7 353.6L518.7 355.1L519.4 357.5L517.3 356.0L515.3 357.5L516.0 355.1L514.0 353.6L516.5 353.5Z" fill="#00e5e5" stroke="#00e5e5" stroke-width="0.5"/>
<path d="M520.2 353.0L521.1 355.4L523.6 355.4L521.6 356.9L522.3 359.3L520.2 357.9L518.2 359.3L518.9 356.9L516.9 355.4L519.4 355.4Z" fill="#00e5e5" stroke="#00e5e5" stroke-width="0.5"/>
<path d="M523.2 354.1L524.0 356.5L526.5 356.6L524.5 358.1L525.2 360.5L523.2 359.0L521.1 360.5L521.8 358.1L519.8 356.6L522.3 356.5Z" fill="#00e5e5" stroke="#00e5e5" stroke-width="0.5"/>
<path d="M526.1 355.9L526.9 358.2L529.4 358.3L527.4 359.8L528.1 362.2L526.1 360.8L524.0 362.2L524.7 359.8L522.7 358.3L525.2 358.2Z" fill="#00e5e5" stroke="#00e5e5" stroke-width="0.5"/>
<path d="M529.0 357.5L529.8 359.9L532.3 359.9L530.3 361.5L531.0 363.9L529.0 362.4L526.9 363.9L527.7 361.5L525.7 359.9L528.2 359.9Z" fill="#00e5e5" stroke="#00e5e5" stroke-width="0.5"/>
<path d="M531.9 358.7L532.7 361.0L535.2 361.1L533.2 362.6L534.0 365.0L531.9 363.6L529.8 365.0L530.6 362.6L528.6 361.1L531.1 361.0Z" fill="#00e5e5" stroke="#00e5e5" stroke-width="0.5"/>
<path d="M534.8 360.6L535.6 362.9L538.1 363.0L536.1 364.5L536.9 366.9L534.8 365.5L532.7 366.9L533.5 364.5L531.5 363.0L534.0 362.9Z" fill="#00e5e5" stroke="#00e5e5" stroke-width="0.5"/>
<path d="M537.7 362.0L538.5 364.4L541.0 364.4L539.0 366.0L539.8 368.4L537.7 366.9L535.7 368.4L536.4 366.0L534.4 364.4L536.9 364.4Z" fill="#00e5e5" stroke="#00e5e5" stroke-width="0.5"/>
<path d="M540.6 363.4L541.5 365.7L544.0 365.8L542.0 367.3L542.7 369.7L540.6 368.3L538.6 369.7L539.3 367.3L537.3 365.8L539.8 365.7Z" fill="#00e5e5" stroke="#00e5e5" stroke-width="0.5"/>
<path d="M543.5 365.3L544.4 367.7L546.9 367.7L544.9 369.2L545.6 371.6L543.5 370.2L541.5 371.6L542.2 369.2L540.2 367.7L542.7 367.7Z" fill="#00e5e5" stroke="#00e5e5" stroke-width="0.5"/>
<path d="M546.4 366.6L547.3 368.9L549.8 369.0L547.8 370.5L548.5 372.9L546.4 371.5L544.4 372.9L545.1 370.5L543.1 369.0L545.6 368.9Z" fill="#00e5e5" stroke="#00e5e5" stroke-width="0.5"/>
<path d="M549.4 368.1L550.2 370.5L552.7 370.5L550.7 372.1L551.4 374.5L549.4 373.0L547.3 374.5L548.0 372.1L546.0 370.5L548.5 370.5Z" fill="#00e5e5" stroke="#00e5e5" stroke-width="0.5"/>
<path d="M552.3 370.0L553.1 372.3L555.6 372.4L553.6 373.9L554.3 376.3L552.3 374.9L550.2 376.3L550.9 373.9L548.9 372.4L551.4 372.3Z" fill="#00e5e5" stroke="#00e5e5" stroke-width="0.5"/>
<path d="M555.2 371.1L556.0 373.5L558.5 373.5L556.5 375.0L557.2 377.4L555.2 376.0L553.1 377.4L553.9 375.0L551.9 373.5L554.4 373.5Z" fill="#00e5e5" stroke="#00e5e5" stroke-width="0.5"/>
<path d="M558.1 372.9L558.9 375.3L561.4 375.3L559.4 376.8L560.2 379.2L558.1 377.8L556.0 379.2L556.8 376.8L554.8 375.3L557.3 375.3Z" fill="#00e5e5" stroke="#00e5e5" stroke-width="0.5"/>
<path d="M561.0 374.5L561.8 376.9L564.3 376.9L562.3 378.4L563.1 380.8L561.0 379.4L558.9 380.8L559.7 378.4L557.7 376.9L560.2 376.9Z" fill="#00e5e5" stroke="#00e5e5" stroke-width="0.5"/>
<path d="M563.9 375.7L564.7 378.1L567.2 378.1L565.2 379.6L566.0 382.0L563.9 380.6L561.9 382.0L562.6 379.6L560.6 378.1L563.1 378.1Z" fill="#00e5e5" stroke="#00e5e5" stroke-width="0.5"/>
<path d="M566.8 377.7L567.7 380.0L570.2 380.1L568.2 381.6L568.9 384.0L566.8 382.6L564.8 384.0L565.5 381.6L563.5 380.1L566.0 380.0Z" fill="#00e5e5" stroke="#00e5e5" stroke-width="0.5"/>
<path d="M569.7 379.1L570.6 381.4L573.1 381.5L571.1 383.0L571.8 385.4L569.7 384.0L567.7 385.4L568.4 383.0L566.4 381.5L568.9 381.4Z" fill="#00e5e5" stroke="#00e5e5" stroke-width="0.5"/>
<path d="M572.6 380.5L573.5 382.8L576.0 382.9L574.0 384.4L574.7 386.8L572.6 385.4L570.6 386.8L571.3 384.4L569.3 382.9L571.8 382.8Z" fill="#00e5e5" stroke="#00e5e5" stroke-width="0.5"/>
<path d="M575.6 382.4L576.4 384.8L578.9 384.8L576.9 386.3L577.6 388.7L575.6 387.3L573.5 388.7L574.2 386.3L572.2 384.8L574.7 384.8Z" fill="#00e5e5" stroke="#00e5e5" stroke-width="0.5"/>
<path d="M578.5 383.6L579.3 386.0L581.8 386.0L579.8 387.5L580.5 389.9L578.5 388.5L576.4 389.9L577.1 387.5L575.1 386.0L577.6 386.0Z" fill="#00e5e5" stroke="#00e5e5" stroke-width="0.5"/>
<path d="M581.4 385.2L582.2 387.6L584.7 387.6L582.7 389.2L583.4 391.6L581.4 390.1L579.3 391.6L580.1 389.2L578.1 387.6L580.6 387.6Z" fill="#00e5e5" stroke="#00e5e5" stroke-width="0.5"/>
<path d="M584.3 385.8L585.1 388.2L587.6 388.2L585.6 389.7L586.4 392.1L584.3 390.7L582.2 392.1L583.0 389.7L581.0 388.2L583.5 388.2Z" fill="#00e5e5" stroke="#00e5e5" stroke-width="0.5"/>
<path d="M587.2 385.1L588.0 387.5L590.5 387.6L588.5 389.1L589.3 391.5L587.2 390.0L585.1 391.5L585.9 389.1L583.9 387.6L586.4 387.5Z" fill="#00e5e5" stroke="#00e5e5" stroke-width="0.5"/>
<path d="M590.1 386.7L590.9 389.1L593.4 389.2L591.4 390.7L592.2 393.1L590.1 391.6L588.1 393.1L588.8 390.7L586.8 389.2L589.3 389.1Z" fill="#00e5e5" stroke="#00e5e5" stroke-width="0.5"/>
<path d="M593.0 386.1L593.9 388.5L596.4 388.5L594.4 390.0L595.1 392.4L593.0 391.0L591.0 392.4L591.7 390.0L589.7 388.5L592.2 388.5Z" fill="#00e5e5" stroke="#00e5e5" stroke-width="0.5"/>
<path d="M595.9 387.7L596.8 390.0L599.3 390.1L597.3 391.6L598.0 394.0L595.9 392.6L593.9 394.0L594.6 391.6L592.6 390.1L595.1 390.0Z" fill="#00e5e5" stroke="#00e5e5" stroke-width="0.5"/>
<path d="M598.8 387.4L599.7 389.7L602.2 389.8L600.2 391.3L600.9 393.7L598.8 392.3L596.8 393.7L597.5 391.3L595.5 389.8L598.0 389.7Z" fill="#00e5e5" stroke="#00e5e5" stroke-width="0.5"/>
<path d="M601.8 389.3L602.6 391.7L605.1 391.7L603.1 393.3L603.8 395.7L601.8 394.2L599.7 395.7L600.4 393.3L598.4 391.7L600.9 391.7Z" fill="#00e5e5" stroke="#00e5e5" stroke-width="0.5"/>
<path d="M604.7 389.1L605.5 391.5L608.0 391.5L606.0 393.0L606.7 395.4L604.7 394.0L602.6 395.4L603.3 393.0L601.3 391.5L603.8 391.5Z" fill="#00e5e5" stroke="#00e5e5" stroke-width="0.5"/>
<path d="M607.6 391.1L608.4 393.4L610.9 393.5L608.9 395.0L609.6 397.4L607.6 396.0L605.5 397.4L606.3 395.0L604.3 393.5L606.8 393.4Z" fill="#00e5e5" stroke="#00e5e5" stroke-width="0.5"/>
<path d="M610.5 390.8L611.3 393.2L613.8 393.3L611.8 394.8L612.6 397.2L610.5 395.7L608.4 397.2L609.2 394.8L607.2 393.3L609.7 393.2Z" fill="#00e5e5" stroke="#00e5e5" stroke-width="0.5"/>
<path d="M613.4 392.8L614.2 395.2L616.7 395.2L614.7 396.7L615.5 399.1L613.4 397.7L611.3 399.1L612.1 396.7L610.1 395.2L612.6 395.2Z" fill="#00e5e5" stroke="#00e5e5" stroke-width="0.5"/>
<path d="M616.3 392.6L617.1 395.0L619.6 395.1L617.6 396.6L618.4 399.0L616.3 397.5L614.3 399.0L615.0 396.6L613.0 395.1L615.5 395.0Z" fill="#00e5e5" stroke="#00e5e5" stroke-width="0.5"/>
<path d="M619.2 394.7L620.1 397.1L622.6 397.1L620.6 398.6L621.3 401.0L619.2 399.6L617.2 401.0L617.9 398.6L615.9 397.1L618.4 397.1Z" fill="#00e5e5" stroke="#00e5e5" stroke-width="0.5"/>
<path d="M622.1 394.5L623.0 396.9L625.5 397.0L623.5 398.5L624.2 400.9L622.1 399.4L620.1 400.9L620.8 398.5L618.8 397.0L621.3 396.9Z" fill="#00e5e5" stroke="#00e5e5" stroke-width="0.5"/>
<path d="M625.0 396.6L625.9 399.0L628.4 399.0L626.4 400.5L627.1 402.9L625.0 401.5L623.0 402.9L623.7 400.5L621.7 399.0L624.2 399.0Z" fill="#00e5e5" stroke="#00e5e5" stroke-width="0.5"/>
<path d="M628.0 396.4L628.8 398.8L631.3 398.9L629.3 400.4L630.0 402.8L628.0 401.3L625.9 402.8L626.6 400.4L624.6 398.9L627.1 398.8Z" fill="#00e5e5" stroke="#00e5e5" stroke-width="0.5"/>
<path d="M630.9 398.5L631.7 400.9L634.2 400.9L632.2 402.4L632.9 404.8L630.9 403.4L628.8 404.8L629.5 402.4L627.5 400.9L630.0 400.9Z" fill="#00e5e5" stroke="#00e5e5" stroke-width="0.5"/>
<path d="M636.4 410.8L637.2 413.2L639.7 413.2L637.7 414.7L638.5 417.1L636.4 415.7L634.3 417.1L635.1 414.7L633.1 413.2L635.6 413.2Z" fill="#00e5e5" stroke="#00e5e5" stroke-width="0.5"/>
<path d="M640.5 423.6L641.3 426.0L643.8 426.1L641.8 427.6L642.5 430.0L640.5 428.5L638.4 430.0L639.1 427.6L637.1 426.1L639.7 426.0Z" fill="#00e5e5" stroke="#00e5e5" stroke-width="0.5"/>
<path d="M644.7 439.1L645.5 441.4L648.0 441.5L646.0 443.0L646.7 445.4L644.7 444.0L642.6 445.4L643.3 443.0L641.3 441.5L643.8 441.4Z" fill="#00e5e5" stroke="#00e5e5" stroke-width="0.5"/>
<path d="M648.4 457.4L649.3 459.7L651.8 459.8L649.8 461.3L650.5 463.7L648.4 462.3L646.4 463.7L647.1 461.3L645.1 459.8L647.6 459.7Z" fill="#00e5e5" stroke="#00e5e5" stroke-width="0.5"/>
<path d="M652.3 480.2L653.1 482.5L655.6 482.6L653.6 484.1L654.4 486.5L652.3 485.1L650.3 486.5L651.0 484.1L649.0 482.6L651.5 482.5Z" fill="#00e5e5" stroke="#00e5e5" stroke-width="0.5"/>
<path d="M437.8 303.8L442.2 309.7L448.7 315.0L453.1 319.6L457.0 318.3L460.5 321.7L464.4 325.0L468.2 326.7L471.9 327.9L475.8 330.6L479.8 332.5L483.8 335.2L487.8 337.2L491.8 339.9L495.7 341.8L499.7 344.4L503.7 346.2L507.7 348.7L511.6 350.5L515.6 353.0L519.6 354.8L523.6 357.3L527.6 359.1L531.5 361.7L535.5 363.5L539.5 366.0L543.5 367.8L547.4 370.3L551.4 372.1L555.4 374.6L559.4 376.0L563.4 378.2L567.3 379.7L571.3 381.9L573.8 381.9L575.5 384.3L577.3 383.0L579.0 385.4L580.8 384.1L582.5 386.5L584.3 385.1L586.0 387.5L587.8 386.2L589.5 388.6L591.3 387.3L593.0 389.7L594.8 388.6L596.5 391.1L598.2 390.0L600.0 392.6L601.7 391.5L603.5 394.1L605.2 393.0L607.0 395.5L608.7 394.4L610.5 397.0L612.2 395.6L614.0 397.9L615.7 396.6L617.5 398.9L619.2 397.5L621.0 399.8L622.7 398.5L624.4 401.4L626.2 400.5L627.9 403.4L629.7 402.9L631.4 406.7L635.7 418.1L639.6 428.2L643.8 441.9L647.6 456.6L651.5 476.0L655.3 495.8" fill="none" stroke="#f04040" stroke-width="0.9"/>
<circle cx="437.8" cy="303.8" r="4.00" fill="#ff0000"/>
<circle cx="442.2" cy="309.7" r="4.00" fill="#ff0000"/>
<circle cx="448.7" cy="315.0" r="4.00" fill="#ff0000"/>
<circle cx="453.1" cy="319.6" r="4.00" fill="#ff0000"/>
<circle cx="457.0" cy="318.3" r="4.00" fill="#ff0000"/>
<circle cx="460.5" cy="321.7" r="4.00" fill="#ff0000"/>
<circle cx="464.4" cy="325.0" r="4.00" fill="#ff0000"/>
<circle cx="468.2" cy="326.7" r="4.00" fill="#ff0000"/>
<circle cx="471.9" cy="327.9" r="4.00" fill="#ff0000"/>
<circle cx="475.8" cy="330.6" r="4.00" fill="#ff0000"/>
<circle cx="479.8" cy="332.5" r="4.00" fill="#ff0000"/>
<circle cx="483.8" cy="335.2" r="4.00" fill="#ff0000"/>
<circle cx="487.8" cy="337.2" r="4.00" fill="#ff0000"/>
<circle cx="491.8" cy="339.9" r="4.00" fill="#ff0000"/>
<circle cx="495.7" cy="341.8" r="4.00" fill="#ff0000"/>
<circle cx="499.7" cy="344.4" r="4.00" fill="#ff0000"/>
<circle cx="503.7" cy="346.2" r="4.00" fill="#ff0000"/>
<circle cx="507.7" cy="348.7" r="4.00" fill="#ff0000"/>
<circle cx="511.6" cy="350.5" r="4.00" fill="#ff0000"/>
<circle cx="515.6" cy="353.0" r="4.00" fill="#ff0000"/>
<circle cx="519.6" cy="354.8" r="4.00" fill="#ff0000"/>
<circle cx="523.6" cy="357.3" r="4.00" fill="#ff0000"/>
<circle cx="527.6" cy="359.1" r="4.00" fill="#ff0000"/>
<circle cx="531.5" cy="361.7" r="4.00" fill="#ff0000"/>
<circle cx="535.5" cy="363.5" r="4.00" fill="#ff0000"/>
<circle cx="539.5" cy="366.0" r="4.00" fill="#ff0000"/>
<circle cx="543.5" cy="367.8" r="4.00" fill="#ff0000"/>
<circle cx="547.4" cy="370.3" r="4.00" fill="#ff0000"/>
<circle cx="551.4" cy="372.1" r="4.00" fill="#ff0000"/>
<circle cx="555.4" cy="374.6" r="4.00" fill="#ff0000"/>
<circle cx="559.4" cy="376.0" r="4.00" fill="#ff0000"/>
<circle cx="563.4" cy="378.2" r="4.00" fill="#ff0000"/>
<circle cx="567.3" cy="379.7" r="4.00" fill="#ff0000"/>
<circle cx="571.3" cy="381.9" r="4.00" fill="#ff0000"/>
<circle cx="573.8" cy="381.9" r="4.00" fill="#ff0000"/>
<circle cx="575.5" cy="384.3" r="4.00" fill="#ff0000"/>
<circle cx="577.3" cy="383.0" r="4.00" fill="#ff0000"/>
<circle cx="579.0" cy="385.4" r="4.00" fill="#ff0000"/>
<circle cx="580.8" cy="384.1" r="4.00" fill="#ff0000"/>
<circle cx="582.5" cy="386.5" r="4.00" fill="#ff0000"/>
<circle cx="584.3" cy="385.1" r="4.00" fill="#ff0000"/>
<circle cx="586.0" cy="387.5" r="4.00" fill="#ff0000"/>
<circle cx="587.8" cy="386.2" r="4.00" fill="#ff0000"/>
<circle cx="589.5" cy="388.6" r="4.00" fill="#ff0000"/>
<circle cx="591.3" cy="387.3" r="4.00" fill="#ff0000"/>
<circle cx="593.0" cy="389.7" r="4.00" fill="#ff0000"/>
<circle cx="594.8" cy="388.6" r="4.00" fill="#ff0000"/>
<circle cx="596.5" cy="391.1" r="4.00" fill="#ff0000"/>
<circle cx="598.2" cy="390.0" r="4.00" fill="#ff0000"/>
<circle cx="600.0" cy="392.6" r="4.00" fill="#ff0000"/>
<circle cx="601.7" cy="391.5" r="4.00" fill="#ff0000"/>
<circle cx="603.5" cy="394.1" r="4.00" fill="#ff0000"/>
<circle cx="605.2" cy="393.0" r="4.00" fill="#ff0000"/>
<circle cx="607.0" cy="395.5" r="4.00" fill="#ff0000"/>
<circle cx="608.7" cy="394.4" r="4.00" fill="#ff0000"/>
<circle cx="610.5" cy="397.0" r="4.00" fill="#ff0000"/>
<circle cx="612.2" cy="395.6" r="4.00" fill="#ff0000"/>
<circle cx="614.0" cy="397.9" r="4.00" fill="#ff0000"/>
<circle cx="615.7" cy="396.6" r="4.00" fill="#ff0000"/>
<circle cx="617.5" cy="398.9" r="4.00" fill="#ff0000"/>
<circle cx="619.2" cy="397.5" r="4.00" fill="#ff0000"/>
<circle cx="621.0" cy="399.8" r="4.00" fill="#ff0000"/>
<circle cx="622.7" cy="398.5" r="4.00" fill="#ff0000"/>
<circle cx="624.4" cy="401.4" r="4.00" fill="#ff0000"/>
<circle cx="626.2" cy="400.5" r="4.00" fill="#ff0000"/>
<circle cx="627.9" cy="403.4" r="4.00" fill="#ff0000"/>
<circle cx="629.7" cy="402.9" r="4.00" fill="#ff0000"/>
<circle cx="631.4" cy="406.7" r="4.00" fill="#ff0000"/>
<circle cx="635.7" cy="418.1" r="4.00" fill="#ff0000"/>
<circle cx="639.6" cy="428.2" r="4.00" fill="#ff0000"/>
<circle cx="643.8" cy="441.9" r="4.00" fill="#ff0000"/>
<circle cx="647.6" cy="456.6" r="4.00" fill="#ff0000"/>
<circle cx="651.5" cy="476.0" r="4.00" fill="#ff0000"/>
<circle cx="655.3" cy="495.8" r="4.00" fill="#ff0000"/>
<path d="M402.2 279.2L406.6 285.0L413.1 290.4L417.4 295.0L421.3 293.7L424.8 297.0L428.8 300.4L432.6 302.1L436.5 304.1L440.5 307.5L444.4 309.7L448.4 313.0L452.4 314.7L456.4 317.4L460.4 318.9L464.3 321.7L468.3 323.5L472.3 326.4L476.3 328.2L480.3 330.9L484.2 332.5L488.2 335.1L492.2 336.7L496.2 339.3L500.1 340.9L504.1 343.5L508.1 345.1L512.1 347.7L516.1 349.3L520.0 351.9L524.0 353.5L528.0 356.1L532.0 357.7L536.0 360.3L539.9 361.9L543.9 364.6L547.9 366.1L551.9 368.8L555.8 370.4L559.8 373.0L563.8 374.6L567.8 377.3L571.8 378.9L575.7 381.5L579.7 383.1L583.7 385.8L587.7 387.3L591.6 389.6L595.6 390.7L599.6 392.8L603.6 393.8L609.9 395.7L615.8 398.3L620.5 401.7L623.8 404.3L627.2 408.4L631.5 413.8L634.9 419.3L638.8 427.5L642.5 437.8L646.4 448.1L650.3 468.0" fill="none" stroke="#3a7a4a" stroke-width="0.9"/>
<circle cx="402.2" cy="279.2" r="3.90" fill="#fff" stroke="#3f8049" stroke-width="0.9"/>
<circle cx="406.6" cy="285.0" r="3.90" fill="#fff" stroke="#3f8049" stroke-width="0.9"/>
<circle cx="413.1" cy="290.4" r="3.90" fill="#fff" stroke="#3f8049" stroke-width="0.9"/>
<circle cx="417.4" cy="295.0" r="3.90" fill="#fff" stroke="#3f8049" stroke-width="0.9"/>
<circle cx="421.3" cy="293.7" r="3.90" fill="#fff" stroke="#3f8049" stroke-width="0.9"/>
<circle cx="424.8" cy="297.0" r="3.90" fill="#fff" stroke="#3f8049" stroke-width="0.9"/>
<circle cx="428.8" cy="300.4" r="3.90" fill="#fff" stroke="#3f8049" stroke-width="0.9"/>
<circle cx="432.6" cy="302.1" r="3.90" fill="#fff" stroke="#3f8049" stroke-width="0.9"/>
<circle cx="436.5" cy="304.1" r="3.90" fill="#fff" stroke="#3f8049" stroke-width="0.9"/>
<circle cx="440.5" cy="307.5" r="3.90" fill="#fff" stroke="#3f8049" stroke-width="0.9"/>
<circle cx="444.4" cy="309.7" r="3.90" fill="#fff" stroke="#3f8049" stroke-width="0.9"/>
<circle cx="448.4" cy="313.0" r="3.90" fill="#fff" stroke="#3f8049" stroke-width="0.9"/>
<circle cx="452.4" cy="314.7" r="3.90" fill="#fff" stroke="#3f8049" stroke-width="0.9"/>
<circle cx="456.4" cy="317.4" r="3.90" fill="#fff" stroke="#3f8049" stroke-width="0.9"/>
<circle cx="460.4" cy="318.9" r="3.90" fill="#fff" stroke="#3f8049" stroke-width="0.9"/>
<circle cx="464.3" cy="321.7" r="3.90" fill="#fff" stroke="#3f8049" stroke-width="0.9"/>
<circle cx="468.3" cy="323.5" r="3.90" fill="#fff" stroke="#3f8049" stroke-width="0.9"/>
<circle cx="472.3" cy="326.4" r="3.90" fill="#fff" stroke="#3f8049" stroke-width="0.9"/>
<circle cx="476.3" cy="328.2" r="3.90" fill="#fff" stroke="#3f8049" stroke-width="0.9"/>
<circle cx="480.3" cy="330.9" r="3.90" fill="#fff" stroke="#3f8049" stroke-width="0.9"/>
<circle cx="484.2" cy="332.5" r="3.90" fill="#fff" stroke="#3f8049" stroke-width="0.9"/>
<circle cx="488.2" cy="335.1" r="3.90" fill="#fff" stroke="#3f8049" stroke-width="0.9"/>
<circle cx="492.2" cy="336.7" r="3.90" fill="#fff" stroke="#3f8049" stroke-width="0.9"/>
<circle cx="496.2" cy="339.3" r="3.90" fill="#fff" stroke="#3f8049" stroke-width="0.9"/>
<circle cx="500.1" cy="340.9" r="3.90" fill="#fff" stroke="#3f8049" stroke-width="0.9"/>
<circle cx="504.1" cy="343.5" r="3.90" fill="#fff" stroke="#3f8049" stroke-width="0.9"/>
<circle cx="508.1" cy="345.1" r="3.90" fill="#fff" stroke="#3f8049" stroke-width="0.9"/>
<circle cx="512.1" cy="347.7" r="3.90" fill="#fff" stroke="#3f8049" stroke-width="0.9"/>
<circle cx="516.1" cy="349.3" r="3.90" fill="#fff" stroke="#3f8049" stroke-width="0.9"/>
<circle cx="520.0" cy="351.9" r="3.90" fill="#fff" stroke="#3f8049" stroke-width="0.9"/>
<circle cx="524.0" cy="353.5" r="3.90" fill="#fff" stroke="#3f8049" stroke-width="0.9"/>
<circle cx="528.0" cy="356.1" r="3.90" fill="#fff" stroke="#3f8049" stroke-width="0.9"/>
<circle cx="532.0" cy="357.7" r="3.90" fill="#fff" stroke="#3f8049" stroke-width="0.9"/>
<circle cx="536.0" cy="360.3" r="3.90" fill="#fff" stroke="#3f8049" stroke-width="0.9"/>
<circle cx="539.9" cy="361.9" r="3.90" fill="#fff" stroke="#3f8049" stroke-width="0.9"/>
<circle cx="543.9" cy="364.6" r="3.90" fill="#fff" stroke="#3f8049" stroke-width="0.9"/>
<circle cx="547.9" cy="366.1" r="3.90" fill="#fff" stroke="#3f8049" stroke-width="0.9"/>
<circle cx="551.9" cy="368.8" r="3.90" fill="#fff" stroke="#3f8049" stroke-width="0.9"/>
<circle cx="555.8" cy="370.4" r="3.90" fill="#fff" stroke="#3f8049" stroke-width="0.9"/>
<circle cx="559.8" cy="373.0" r="3.90" fill="#fff" stroke="#3f8049" stroke-width="0.9"/>
<circle cx="563.8" cy="374.6" r="3.90" fill="#fff" stroke="#3f8049" stroke-width="0.9"/>
<circle cx="567.8" cy="377.3" r="3.90" fill="#fff" stroke="#3f8049" stroke-width="0.9"/>
<circle cx="571.8" cy="378.9" r="3.90" fill="#fff" stroke="#3f8049" stroke-width="0.9"/>
<circle cx="575.7" cy="381.5" r="3.90" fill="#fff" stroke="#3f8049" stroke-width="0.9"/>
<circle cx="579.7" cy="383.1" r="3.90" fill="#fff" stroke="#3f8049" stroke-width="0.9"/>
<circle cx="583.7" cy="385.8" r="3.90" fill="#fff" stroke="#3f8049" stroke-width="0.9"/>
<circle cx="587.7" cy="387.3" r="3.90" fill="#fff" stroke="#3f8049" stroke-width="0.9"/>
<circle cx="591.6" cy="389.6" r="3.90" fill="#fff" stroke="#3f8049" stroke-width="0.9"/>
<circle cx="595.6" cy="390.7" r="3.90" fill="#fff" stroke="#3f8049" stroke-width="0.9"/>
<circle cx="599.6" cy="392.8" r="3.90" fill="#fff" stroke="#3f8049" stroke-width="0.9"/>
<circle cx="603.6" cy="393.8" r="3.90" fill="#fff" stroke="#3f8049" stroke-width="0.9"/>
<circle cx="609.9" cy="395.7" r="3.90" fill="#fff" stroke="#3f8049" stroke-width="0.9"/>
<circle cx="615.8" cy="398.3" r="3.90" fill="#fff" stroke="#3f8049" stroke-width="0.9"/>
<circle cx="620.5" cy="401.7" r="3.90" fill="#fff" stroke="#3f8049" stroke-width="0.9"/>
<circle cx="623.8" cy="404.3" r="3.90" fill="#fff" stroke="#3f8049" stroke-width="0.9"/>
<circle cx="627.2" cy="408.4" r="3.90" fill="#fff" stroke="#3f8049" stroke-width="0.9"/>
<circle cx="631.5" cy="413.8" r="3.90" fill="#fff" stroke="#3f8049" stroke-width="0.9"/>
<circle cx="634.9" cy="419.3" r="3.90" fill="#fff" stroke="#3f8049" stroke-width="0.9"/>
<circle cx="638.8" cy="427.5" r="3.90" fill="#fff" stroke="#3f8049" stroke-width="0.9"/>
<circle cx="642.5" cy="437.8" r="3.90" fill="#fff" stroke="#3f8049" stroke-width="0.9"/>
<circle cx="646.4" cy="448.1" r="3.90" fill="#fff" stroke="#3f8049" stroke-width="0.9"/>
<circle cx="650.3" cy="468.0" r="3.90" fill="#fff" stroke="#3f8049" stroke-width="0.9"/>
</g>
<g id="legend">
<path d="M86.7 396.3H117.2" stroke="#f06060" stroke-width="1"/>
<circle cx="101.9" cy="396.3" r="5.80" fill="#fff" stroke="#f23c3c" stroke-width="0.9"/>
<path d="M86.7 416.4H117.2" stroke="#50a050" stroke-width="1"/>
<rect x="96.3" y="410.8" width="11.2" height="11.2" fill="#fff" stroke="#42a442" stroke-width="0.9"/>
<path d="M86.7 436.5H117.2" stroke="#5050ff" stroke-width="1"/>
<path d="M101.9 430.5L107.9 436.5L101.9 442.5L95.9 436.5Z" fill="#fff" stroke="#3030f8" stroke-width="0.9"/>
<path d="M86.7 456.7H117.2" stroke="#f060f0" stroke-width="1"/>
<path d="M101.9 449.8L108.5 462.3L95.3 462.3Z" fill="#fff" stroke="#f236f2" stroke-width="0.9"/>
<path d="M86.7 477.0H117.2" stroke="#d08050" stroke-width="1"/>
<path d="M101.9 471.2V482.8M96.9 474.1L106.9 479.9M96.9 479.9L106.9 474.1" stroke="#d2691e" fill="none"/>
<path d="M162.6 416.4H193.1" stroke="#404040" stroke-width="1"/>
<path d="M172.1 410.7L183.5 422.1M172.1 422.1L183.5 410.7" stroke="#222222" fill="none"/>
<path d="M162.6 436.5H193.1" stroke="#30e0e0" stroke-width="1"/>
<path d="M177.8 430.1L179.3 434.4L183.9 434.5L180.2 437.3L181.6 441.7L177.8 439.1L174.0 441.7L175.4 437.3L171.7 434.5L176.3 434.4Z" fill="#00e5e5" stroke="#00e5e5" stroke-width="0.5"/>
<path d="M162.6 456.7H193.1" stroke="#f04040" stroke-width="1"/>
<circle cx="177.8" cy="456.7" r="6.20" fill="#ff0000"/>
<path d="M162.6 477.0H193.1" stroke="#3a7a4a" stroke-width="1"/>
<circle cx="177.8" cy="477.0" r="5.80" fill="#fff" stroke="#3f8049" stroke-width="0.9"/>
</g>
<g font-family="'Liberation Serif', serif" font-size="17" stroke="#000" stroke-width="0.3">
<text x="124.48" y="401.70">0.3</text>
<text x="124.48" y="421.80">0.5</text>
<text x="124.48" y="441.90">0.7</text>
<text x="124.48" y="462.10">0.9</text>
<text x="124.48" y="482.40">0.95</text>
<text x="200.08" y="421.80">0.97</text>
<text x="200.08" y="441.90">0.99</text>
<text x="200.08" y="462.10">0.995</text>
<text x="200.08" y="482.40">0.999</text>
</g></g>
<g font-family="'Liberation Serif', serif" fill="#000" stroke="#000" stroke-width="0.3">
<text x="99.60" y="248.20" text-anchor="middle" font-size="17">10</text>
<text x="140.60" y="248.20" text-anchor="middle" font-size="17">10<tspan dy="-9.9" font-size="11.5">2</tspan></text>
<text x="181.60" y="248.20" text-anchor="middle" font-size="17">10<tspan dy="-9.9" font-size="11.5">3</tspan></text>
<text x="222.60" y="248.20" text-anchor="middle" font-size="17">10<tspan dy="-9.9" font-size="11.5">4</tspan></text>
<text x="263.60" y="248.20" text-anchor="middle" font-size="17">10<tspan dy="-9.9" font-size="11.5">5</tspan></text>
<text x="304.60" y="248.20" text-anchor="middle" font-size="17">10<tspan dy="-9.9" font-size="11.5">6</tspan></text>
<text x="70.00" y="18.20" text-anchor="end" font-size="17">10<tspan dy="-9.9" font-size="11.5">-1</tspan></text>
<text x="70.00" y="63.20" text-anchor="end" font-size="17">10<tspan dy="-9.9" font-size="11.5">-3</tspan></text>
<text x="70.00" y="108.20" text-anchor="end" font-size="17">10<tspan dy="-9.9" font-size="11.5">-5</tspan></text>
<text x="70.00" y="153.20" text-anchor="end" font-size="17">10<tspan dy="-9.9" font-size="11.5">-7</tspan></text>
<text x="70.00" y="198.20" text-anchor="end" font-size="17">10<tspan dy="-9.9" font-size="11.5">-9</tspan></text>
<text x="426.80" y="248.40" text-anchor="middle" font-size="17">10</text>
<text x="467.30" y="248.40" text-anchor="middle" font-size="17">10<tspan dy="-9.9" font-size="11.5">2</tspan></text>
<text x="507.80" y="248.40" text-anchor="middle" font-size="17">10<tspan dy="-9.9" font-size="11.5">3</tspan></text>
<text x="548.30" y="248.40" text-anchor="middle" font-size="17">10<tspan dy="-9.9" font-size="11.5">4</tspan></text>
<text x="588.80" y="248.40" text-anchor="middle" font-size="17">10<tspan dy="-9.9" font-size="11.5">5</tspan></text>
<text x="629.30" y="248.40" text-anchor="middle" font-size="17">10<tspan dy="-9.9" font-size="11.5">6</tspan></text>
<text x="398.00" y="17.70" text-anchor="end" font-size="17">10<tspan dy="-9.9" font-size="11.5">-1</tspan></text>
<text x="398.00" y="66.30" text-anchor="end" font-size="17">10<tspan dy="-9.9" font-size="11.5">-3</tspan></text>
<text x="398.00" y="114.90" text-anchor="end" font-size="17">10<tspan dy="-9.9" font-size="11.5">-5</tspan></text>
<text x="398.00" y="163.50" text-anchor="end" font-size="17">10<tspan dy="-9.9" font-size="11.5">-7</tspan></text>
<text x="398.00" y="212.10" text-anchor="end" font-size="17">10<tspan dy="-9.9" font-size="11.5">-9</tspan></text>
<text x="93.30" y="518.30" text-anchor="middle" font-size="17">10</text>
<text x="132.75" y="518.30" text-anchor="middle" font-size="17">10<tspan dy="-9.9" font-size="11.5">2</tspan></text>
<text x="172.20" y="518.30" text-anchor="middle" font-size="17">10<tspan dy="-9.9" font-size="11.5">3</tspan></text>
<text x="211.65" y="518.30" text-anchor="middle" font-size="17">10<tspan dy="-9.9" font-size="11.5">4</tspan></text>
<text x="251.10" y="518.30" text-anchor="middle" font-size="17">10<tspan dy="-9.9" font-size="11.5">5</tspan></text>
<text x="290.55" y="518.30" text-anchor="middle" font-size="17">10<tspan dy="-9.9" font-size="11.5">6</tspan></text>
<text x="70.00" y="309.60" text-anchor="end" font-size="17">10<tspan dy="-9.9" font-size="11.5">-2</tspan></text>
<text x="70.00" y="353.20" text-anchor="end" font-size="17">10<tspan dy="-9.9" font-size="11.5">-4</tspan></text>
<text x="70.00" y="396.80" text-anchor="end" font-size="17">10<tspan dy="-9.9" font-size="11.5">-6</tspan></text>
<text x="70.00" y="440.40" text-anchor="end" font-size="17">10<tspan dy="-9.9" font-size="11.5">-8</tspan></text>
<text x="70.00" y="484.00" text-anchor="end" font-size="17">10<tspan dy="-9.9" font-size="11.5">-10</tspan></text>
<text x="427.40" y="518.50" text-anchor="middle" font-size="17">10<tspan dy="-9.9" font-size="11.5">-4</tspan></text>
<text x="466.70" y="518.50" text-anchor="middle" font-size="17">10<tspan dy="-9.9" font-size="11.5">-3</tspan></text>
<text x="506.00" y="518.50" text-anchor="middle" font-size="17">10<tspan dy="-9.9" font-size="11.5">-2</tspan></text>
<text x="545.30" y="518.50" text-anchor="middle" font-size="17">10<tspan dy="-9.9" font-size="11.5">-1</tspan></text>
<text x="584.60" y="518.50" text-anchor="middle" font-size="17">1</text>
<text x="623.90" y="518.50" text-anchor="middle" font-size="17">10</text>
<text x="397.50" y="330.50" text-anchor="end" font-size="17">10<tspan dy="-9.9" font-size="11.5">2</tspan></text>
<text x="397.50" y="375.40" text-anchor="end" font-size="17">1</text>
<text x="397.50" y="420.30" text-anchor="end" font-size="17">10<tspan dy="-9.9" font-size="11.5">-2</tspan></text>
<text x="397.50" y="465.20" text-anchor="end" font-size="17">10<tspan dy="-9.9" font-size="11.5">-4</tspan></text>
<text x="289.79" y="42.30" font-size="29">a</text>
<text x="302.26" y="42.30" font-size="29">)</text>
<text x="619.91" y="42.60" font-size="29">c</text>
<text x="632.56" y="42.60" font-size="29">)</text>
<text x="292.00" y="312.60" font-size="29">b</text>
<text x="305.06" y="312.60" font-size="29">)</text>
<text x="620.38" y="313.00" font-size="29">d</text>
<text x="634.46" y="313.00" font-size="29">)</text>
<text x="189.46" y="265.90" font-size="27">m</text>
<text transform="translate(33.7 143.7) rotate(-90)" font-size="27">p(m)</text>
<g transform="translate(361.3 145.9) rotate(-90)">
<text x="-0.00" y="0.00" font-size="27">p</text>
<text x="12.88" y="0.00" font-size="27">(</text>
<text transform="translate(21.94 0.00) scale(1.15 1)" font-size="27">Δ</text>
<text x="42.24" y="5.70" font-size="18">r</text>
<text x="48.02" y="0.00" font-size="27">)</text>
</g>
<g transform="translate(361.2 456.4) rotate(-90)">
<text x="-0.00" y="0.00" font-size="27">p</text>
<text x="12.98" y="0.00" font-size="27">(</text>
<text transform="translate(22.43 0.00) scale(1.16 1)" font-size="27">Δ</text>
<text x="42.74" y="5.20" font-size="18">r</text>
<text x="49.12" y="0.00" font-size="27">)</text>
<text x="57.39" y="0.00" font-size="27">(</text>
<g transform="translate(68.70 0.00) scale(0.97)" fill="none" stroke="#000"><path d="M4.7 -12.1L0 5.7" stroke-width="2.15"/><path d="M2.8 -3.4C2.9 0.6 8.9 1.0 11.6 -3.8" stroke-width="1.3"/><path d="M12.8 -11.8L11.6 -2.4C11.3 0.5 13.6 0.8 14.6 -4.0" stroke-width="1.6"/></g>
<text x="82.66" y="5.00" font-size="17">c</text>
<text x="91.45" y="-1.80" font-size="20">-</text>
<g transform="translate(100.30 0.00) scale(0.97)" fill="none" stroke="#000"><path d="M4.7 -12.1L0 5.7" stroke-width="2.15"/><path d="M2.8 -3.4C2.9 0.6 8.9 1.0 11.6 -3.8" stroke-width="1.3"/><path d="M12.8 -11.8L11.6 -2.4C11.3 0.5 13.6 0.8 14.6 -4.0" stroke-width="1.6"/></g>
<text x="115.02" y="0.00" font-size="27">)</text>
<text x="125.46" y="-14.80" font-size="18" font-style="italic">α</text>
</g>
<g transform="translate(28.0 455.3) rotate(-90)">
<text x="0.40" y="0.00" font-size="27">p</text>
<text x="13.59" y="0.00" font-size="27">(</text>
<text x="22.26" y="0.00" font-size="27">m</text>
<text x="42.92" y="0.00" font-size="27">)</text>
<text x="51.00" y="0.00" font-size="27">/</text>
<text x="58.08" y="0.00" font-size="27">(</text>
<g transform="translate(67.60 0.00) scale(0.97)" fill="none" stroke="#000"><path d="M4.7 -12.1L0 5.7" stroke-width="2.15"/><path d="M2.8 -3.4C2.9 0.6 8.9 1.0 11.6 -3.8" stroke-width="1.3"/><path d="M12.8 -11.8L11.6 -2.4C11.3 0.5 13.6 0.8 14.6 -4.0" stroke-width="1.6"/></g>
<text x="82.36" y="4.30" font-size="17">c</text>
<text x="91.25" y="-1.90" font-size="20">-</text>
<g transform="translate(100.10 0.00) scale(0.97)" fill="none" stroke="#000"><path d="M4.7 -12.1L0 5.7" stroke-width="2.15"/><path d="M2.8 -3.4C2.9 0.6 8.9 1.0 11.6 -3.8" stroke-width="1.3"/><path d="M12.8 -11.8L11.6 -2.4C11.3 0.5 13.6 0.8 14.6 -4.0" stroke-width="1.6"/></g>
<text x="113.92" y="0.00" font-size="27">)</text>
<text x="123.98" y="-14.60" font-size="18.5" font-style="italic">β</text>
</g>
<text transform="translate(513.88 271.00) scale(1.16 1)" font-size="28">Δ</text>
<text x="535.34" y="276.40" font-size="18">r</text>
<text x="151.86" y="551.60" font-size="27">m</text>
<text x="171.88" y="551.60" font-size="27">(</text>
<g transform="translate(181.90 551.60) scale(0.97)" fill="none" stroke="#000"><path d="M4.7 -12.1L0 5.7" stroke-width="2.15"/><path d="M2.8 -3.4C2.9 0.6 8.9 1.0 11.6 -3.8" stroke-width="1.3"/><path d="M12.8 -11.8L11.6 -2.4C11.3 0.5 13.6 0.8 14.6 -4.0" stroke-width="1.6"/></g>
<text x="196.56" y="555.80" font-size="17">c</text>
<text x="204.91" y="548.30" font-size="21">-</text>
<g transform="translate(213.60 551.60) scale(0.97)" fill="none" stroke="#000"><path d="M4.7 -12.1L0 5.7" stroke-width="2.15"/><path d="M2.8 -3.4C2.9 0.6 8.9 1.0 11.6 -3.8" stroke-width="1.3"/><path d="M12.8 -11.8L11.6 -2.4C11.3 0.5 13.6 0.8 14.6 -4.0" stroke-width="1.6"/></g>
<text x="228.22" y="551.60" font-size="27">)</text>
<text x="238.26" y="536.00" font-size="17.5" font-style="italic">β</text>
<text transform="translate(471.99 545.80) scale(1.2 1)" font-size="27">Δ</text>
<text x="493.04" y="551.50" font-size="18">r</text>
<text x="499.00" y="545.80" font-size="27">/</text>
<text x="506.69" y="545.80" font-size="27">(</text>
<g transform="translate(515.90 545.80) scale(0.97)" fill="none" stroke="#000"><path d="M4.7 -12.1L0 5.7" stroke-width="2.15"/><path d="M2.8 -3.4C2.9 0.6 8.9 1.0 11.6 -3.8" stroke-width="1.3"/><path d="M12.8 -11.8L11.6 -2.4C11.3 0.5 13.6 0.8 14.6 -4.0" stroke-width="1.6"/></g>
<text x="530.26" y="551.40" font-size="17">c</text>
<text x="539.05" y="545.50" font-size="20">-</text>
<g transform="translate(548.10 545.80) scale(0.97)" fill="none" stroke="#000"><path d="M4.7 -12.1L0 5.7" stroke-width="2.15"/><path d="M2.8 -3.4C2.9 0.6 8.9 1.0 11.6 -3.8" stroke-width="1.3"/><path d="M12.8 -11.8L11.6 -2.4C11.3 0.5 13.6 0.8 14.6 -4.0" stroke-width="1.6"/></g>
<text x="563.02" y="545.80" font-size="27">)</text>
<text x="571.76" y="531.90" font-size="18" font-style="italic">α</text>
<g fill="none" stroke="#000" stroke-width="0"><path d="M110.4 360.5L105.7 378.3" stroke-width="1.9"/><path d="M108.5 369.2C108.6 373.2 114.6 373.6 117.3 368.8" stroke-width="1.15"/><path d="M118.5 360.8L117.3 370.2C117.0 373.1 119.3 373.4 120.3 368.6" stroke-width="1.45"/></g>
</g>
</svg></body></html>
